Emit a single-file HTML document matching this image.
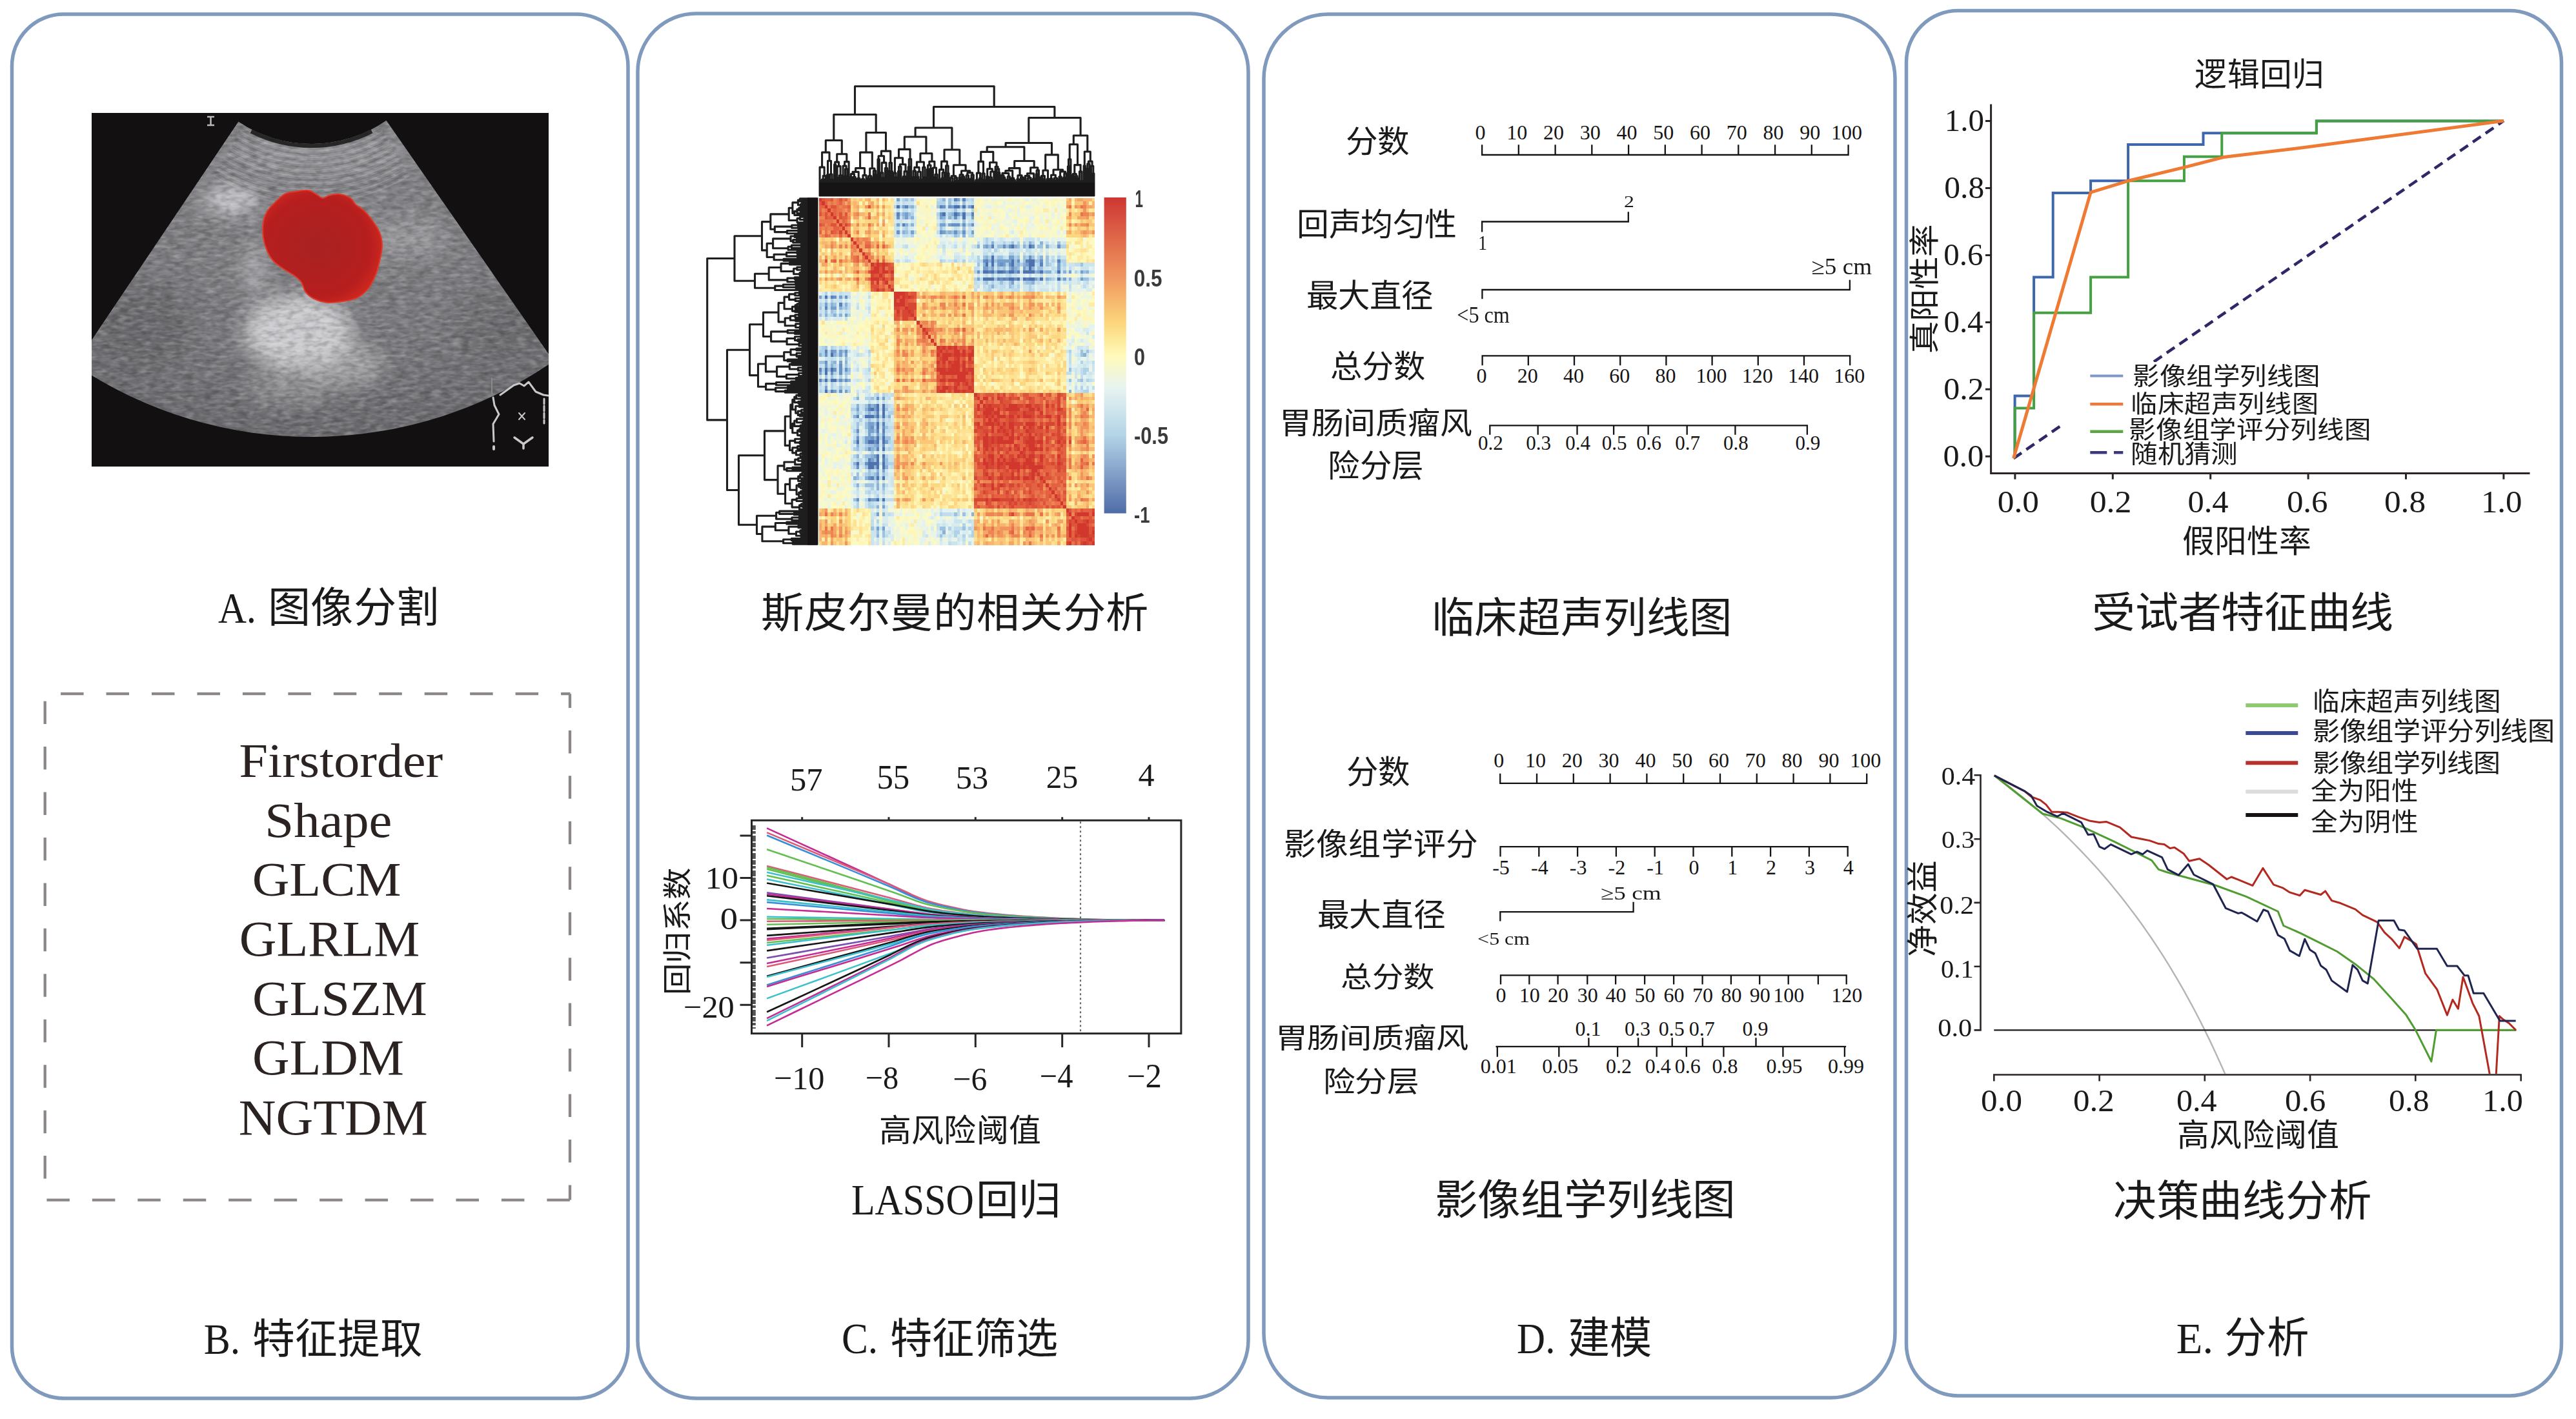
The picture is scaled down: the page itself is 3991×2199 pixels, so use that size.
<!DOCTYPE html>
<html lang="zh-CN"><head><meta charset="utf-8"><title>Radiomics workflow</title>
<style>html,body{margin:0;padding:0;background:#fff;}body{width:3991px;height:2199px;overflow:hidden;}
svg{display:block;font-family:"Liberation Serif",serif;}</style></head>
<body><svg width="3991" height="2199" viewBox="0 0 3991 2199">
<rect width="3991" height="2199" fill="#fff"/>
<rect x="18.5" y="22" width="954.5" height="2145" rx="80" ry="80" fill="none" stroke="#7f9abd" stroke-width="5.5"/>
<rect x="988" y="21" width="946" height="2146" rx="90" ry="90" fill="none" stroke="#7f9abd" stroke-width="5.5"/>
<rect x="1958" y="22" width="978" height="2144" rx="100" ry="100" fill="none" stroke="#7f9abd" stroke-width="5.5"/>
<rect x="2953.5" y="16.5" width="1015.0" height="2146.5" rx="80" ry="80" fill="none" stroke="#7f9abd" stroke-width="5.5"/>
<defs><clipPath id="usclip"><rect x="142" y="175" width="708" height="548"/></clipPath><radialGradient id="fanG" cx="0.5" cy="0.2" r="0.9"><stop offset="0" stop-color="#86868a"/><stop offset="0.6" stop-color="#79797d"/><stop offset="1" stop-color="#646468"/></radialGradient><filter id="blur8" x="-50%" y="-50%" width="200%" height="200%"><feGaussianBlur stdDeviation="14"/></filter><filter id="blur3"><feGaussianBlur stdDeviation="3"/></filter><filter id="speck" x="0" y="0" width="1" height="1"><feTurbulence type="fractalNoise" baseFrequency="0.06 0.2" numOctaves="2" seed="4"/><feColorMatrix type="matrix" values="0 0 0 0 1  0 0 0 0 1  0 0 0 0 1  1.6 0 0 0 -0.62"/></filter><filter id="speck2" x="0" y="0" width="1" height="1"><feTurbulence type="fractalNoise" baseFrequency="0.07 0.16" numOctaves="2" seed="9"/><feColorMatrix type="matrix" values="0 0 0 0 0  0 0 0 0 0  0 0 0 0 0  1.5 0 0 0 -0.6"/></filter><radialGradient id="blobG" cx="0.45" cy="0.5" r="0.6"><stop offset="0" stop-color="#a82222"/><stop offset="0.75" stop-color="#b71e1e"/><stop offset="1" stop-color="#d42a20"/></radialGradient></defs>
<rect x="142" y="175" width="708" height="548" fill="#121010"/>
<g clip-path="url(#usclip)"><defs><clipPath id="fanclip"><path d="M369.4,188.5 L116.2,565.3 A657,657 0 0 0 857.6,559.5 L598.5,186.7 A203,203 0 0 1 369.4,188.5 Z"/></clipPath></defs>
<path d="M369.4,188.5 L116.2,565.3 A657,657 0 0 0 857.6,559.5 L598.5,186.7 A203,203 0 0 1 369.4,188.5 Z" fill="url(#fanG)"/>
<g clip-path="url(#fanclip)">
<g filter="url(#blur8)"><ellipse cx="462" cy="515" rx="85" ry="58" fill="#e0e0e4" opacity="0.8"/><ellipse cx="535" cy="565" rx="60" ry="35" fill="#c4c4c8" opacity="0.55"/><ellipse cx="450" cy="600" rx="70" ry="30" fill="#a8a8ac" opacity="0.5"/><ellipse cx="358" cy="310" rx="42" ry="20" fill="#dcdce0" opacity="0.85"/><ellipse cx="395" cy="420" rx="18" ry="40" fill="#c8c8cc" opacity="0.6"/><ellipse cx="490" cy="240" rx="150" ry="35" fill="#9c9ca0" opacity="0.6"/><ellipse cx="630" cy="370" rx="65" ry="30" fill="#a6a6aa" opacity="0.6"/><ellipse cx="230" cy="500" rx="70" ry="60" fill="#5a5a5e" opacity="0.45"/><ellipse cx="770" cy="500" rx="60" ry="50" fill="#626266" opacity="0.45"/></g>
<rect x="142" y="175" width="708" height="548" filter="url(#speck)" opacity="0.3"/>
<rect x="142" y="175" width="708" height="548" filter="url(#speck2)" opacity="0.3"/>
<path d="M375.0,199.1 A209.0,209.0 0 0 0 590.2,199.1" fill="none" stroke="#2a2a2e" stroke-width="2.2" opacity="0.14"/>
<path d="M372.4,203.4 A214.0,214.0 0 0 0 592.8,203.4" fill="none" stroke="#d8d8dc" stroke-width="2.2" opacity="0.18"/>
<path d="M369.8,207.7 A219.0,219.0 0 0 0 595.4,207.7" fill="none" stroke="#2a2a2e" stroke-width="2.2" opacity="0.14"/>
<path d="M367.2,212.0 A224.0,224.0 0 0 0 598.0,212.0" fill="none" stroke="#d8d8dc" stroke-width="2.2" opacity="0.18"/>
<path d="M364.7,216.3 A229.0,229.0 0 0 0 600.5,216.3" fill="none" stroke="#2a2a2e" stroke-width="2.2" opacity="0.14"/>
<path d="M362.1,220.6 A234.0,234.0 0 0 0 603.1,220.6" fill="none" stroke="#d8d8dc" stroke-width="2.2" opacity="0.18"/>
<path d="M359.5,224.9 A239.0,239.0 0 0 0 605.7,224.9" fill="none" stroke="#2a2a2e" stroke-width="2.2" opacity="0.14"/>
<path d="M356.9,229.1 A244.0,244.0 0 0 0 608.3,229.1" fill="none" stroke="#d8d8dc" stroke-width="2.2" opacity="0.18"/>
<path d="M354.4,233.4 A249.0,249.0 0 0 0 610.8,233.4" fill="none" stroke="#2a2a2e" stroke-width="2.2" opacity="0.14"/>
<path d="M351.8,237.7 A254.0,254.0 0 0 0 613.4,237.7" fill="none" stroke="#d8d8dc" stroke-width="2.2" opacity="0.18"/>
<path d="M349.2,242.0 A259.0,259.0 0 0 0 616.0,242.0" fill="none" stroke="#2a2a2e" stroke-width="2.2" opacity="0.14"/>
<path d="M346.6,246.3 A264.0,264.0 0 0 0 618.6,246.3" fill="none" stroke="#d8d8dc" stroke-width="2.2" opacity="0.18"/>
<path d="M344.1,250.6 A269.0,269.0 0 0 0 621.1,250.6" fill="none" stroke="#2a2a2e" stroke-width="2.2" opacity="0.14"/>
<path d="M341.5,254.9 A274.0,274.0 0 0 0 623.7,254.9" fill="none" stroke="#d8d8dc" stroke-width="2.2" opacity="0.18"/>
<path d="M338.9,259.1 A279.0,279.0 0 0 0 626.3,259.1" fill="none" stroke="#2a2a2e" stroke-width="2.2" opacity="0.14"/>
<path d="M336.3,263.4 A284.0,284.0 0 0 0 628.9,263.4" fill="none" stroke="#d8d8dc" stroke-width="2.2" opacity="0.18"/>
<path d="M333.8,267.7 A289.0,289.0 0 0 0 631.4,267.7" fill="none" stroke="#2a2a2e" stroke-width="2.2" opacity="0.14"/>
<path d="M331.2,272.0 A294.0,294.0 0 0 0 634.0,272.0" fill="none" stroke="#d8d8dc" stroke-width="2.2" opacity="0.18"/>
</g>
<path d="M389.1,203.5 A206,206 0 0 0 576.1,203.5" fill="none" stroke="#151515" stroke-width="6" opacity="0.85"/>
</g>
<path d="M424.4,315.4 C428.8,311.0 435.3,304.1 440.7,301.0 C446.1,297.9 450.9,298.0 457.0,297.0 C463.1,296.0 472.0,294.3 477.5,295.0 C483.0,295.7 486.1,299.0 489.8,301.0 C493.6,303.0 496.6,306.7 500.0,307.0 C503.4,307.3 505.6,304.0 510.0,303.0 C514.4,302.0 521.1,300.3 526.6,301.0 C532.1,301.7 538.9,304.3 543.0,307.0 C547.1,309.7 547.7,313.9 551.0,317.0 C554.3,320.1 558.9,321.8 563.0,325.6 C567.1,329.4 571.4,334.3 575.6,340.0 C579.8,345.7 585.3,353.2 588.0,360.0 C590.7,366.8 592.0,373.5 592.0,381.0 C592.0,388.5 589.7,397.6 588.0,405.0 C586.3,412.4 584.8,418.9 582.0,425.7 C579.2,432.5 576.0,440.2 571.5,446.0 C567.0,451.8 561.1,457.1 555.0,460.5 C548.9,463.9 542.9,465.2 534.7,466.6 C526.5,468.0 514.2,469.4 506.0,468.7 C497.8,468.0 491.1,465.2 485.7,462.5 C480.3,459.8 476.5,456.4 473.4,452.3 C470.3,448.2 470.0,442.1 467.3,438.0 C464.6,433.9 461.4,431.2 457.0,427.8 C452.6,424.4 446.1,421.4 440.7,417.6 C435.3,413.9 428.8,410.1 424.4,405.3 C419.9,400.5 416.7,395.1 414.0,389.0 C411.3,382.9 409.0,376.0 408.0,368.5 C407.0,361.0 407.0,350.8 408.0,344.0 C409.0,337.2 411.3,332.4 414.0,327.6 C416.7,322.8 419.9,319.8 424.4,315.4Z" fill="url(#blobG)" stroke="#e03a2a" stroke-width="2"/>
<path d="M321,181h11M321,194h11M326.5,181v13" stroke="#bbb" stroke-width="2.5"/>
<g stroke="#c9c9c9" stroke-width="3" fill="none" stroke-linecap="round" stroke-linejoin="round"><path d="M762,586V610" stroke="#8a8a8a" stroke-width="2"/><path d="M775,612L796,597L805,594L812,598L819,592L830,607L842,612L849,613"/><path d="M764,616L766,628L773,642L764,657L765,684"/><path d="M765,692v4" stroke-width="4"/><path d="M843,618V656" stroke-dasharray="8 3"/><path d="M804,640l9,10M813,640l-9,10" stroke-width="2"/><path d="M797,678L811,688L825,678M811,688V695" stroke-width="3.5"/></g>
<g stroke="#8c8787" stroke-width="4.3" fill="none" stroke-dasharray="35.5 34.95"><path d="M94.1,1075.2 H883.5" /><path d="M69.7,1086.6 V1859.6"/><path d="M883,1075.2 V1859.6" stroke-dashoffset="13.75"/><path d="M69.7,1859.6 H883" stroke-dashoffset="67.75"/></g>
<g transform="translate(1269.0,306.5) scale(4.44792,5.60417)" shape-rendering="crispEdges">
<path fill="rgb(79, 114, 175)" d="M27 2h1v1h-1zM47 2h2v1h-2zM50 2h1v1h-1zM53 2h1v1h-1zM43 4h1v1h-1zM47 4h1v1h-1zM50 4h1v1h-1zM50 5h1v1h-1zM67 13h1v1h-1zM73 13h1v1h-1zM60 16h1v1h-1zM60 17h1v1h-1zM67 17h1v1h-1zM73 17h2v1h-2zM58 18h1v1h-1zM60 18h1v1h-1zM67 18h1v1h-1zM73 18h2v1h-2zM73 19h1v1h-1zM57 20h2v1h-2zM60 20h1v1h-1zM62 20h2v1h-2zM66 20h2v1h-2zM71 20h4v1h-4zM77 20h1v1h-1zM83 20h1v1h-1zM57 22h4v1h-4zM66 22h2v1h-2zM69 22h1v1h-1zM71 22h1v1h-1zM73 22h2v1h-2zM77 22h1v1h-1zM83 22h1v1h-1zM2 27h1v1h-1zM4 43h1v1h-1zM2 47h1v1h-1zM4 47h1v1h-1zM2 48h1v1h-1zM2 50h1v1h-1zM4 50h2v1h-2zM2 53h1v1h-1zM20 57h1v1h-1zM22 57h1v1h-1zM18 58h1v1h-1zM20 58h1v1h-1zM22 58h1v1h-1zM22 59h1v1h-1zM16 60h3v1h-3zM20 60h1v1h-1zM22 60h1v1h-1zM20 62h1v1h-1zM20 63h1v1h-1zM20 66h1v1h-1zM22 66h1v1h-1zM13 67h1v1h-1zM17 67h2v1h-2zM20 67h1v1h-1zM22 67h1v1h-1zM22 69h1v1h-1zM20 71h1v1h-1zM22 71h1v1h-1zM20 72h1v1h-1zM13 73h1v1h-1zM17 73h4v1h-4zM22 73h1v1h-1zM17 74h2v1h-2zM20 74h1v1h-1zM22 74h1v1h-1zM20 77h1v1h-1zM22 77h1v1h-1zM20 83h1v1h-1zM22 83h1v1h-1z"/>
<path fill="rgb(93, 129, 185)" d="M47 0h1v1h-1zM50 0h1v1h-1zM30 2h1v1h-1zM42 2h1v1h-1zM27 4h1v1h-1zM53 4h1v1h-1zM29 7h1v1h-1zM60 13h1v1h-1zM58 17h1v1h-1zM72 17h1v1h-1zM83 17h1v1h-1zM77 18h1v1h-1zM59 20h1v1h-1zM64 20h1v1h-1zM69 20h1v1h-1zM62 22h1v1h-1zM64 22h1v1h-1zM72 22h1v1h-1zM4 27h1v1h-1zM7 29h1v1h-1zM2 30h1v1h-1zM2 42h1v1h-1zM0 47h1v1h-1zM0 50h1v1h-1zM4 53h1v1h-1zM17 58h1v1h-1zM20 59h1v1h-1zM13 60h1v1h-1zM22 62h1v1h-1zM20 64h1v1h-1zM22 64h1v1h-1zM20 69h1v1h-1zM17 72h1v1h-1zM22 72h1v1h-1zM18 77h1v1h-1zM17 83h1v1h-1z"/>
<path fill="rgb(106, 145, 195)" d="M43 2h1v1h-1zM45 2h1v1h-1zM42 4h1v1h-1zM48 4h1v1h-1zM27 5h1v1h-1zM47 5h1v1h-1zM46 7h3v1h-3zM50 7h1v1h-1zM53 7h1v1h-1zM27 9h1v1h-1zM42 9h1v1h-1zM47 9h1v1h-1zM50 9h1v1h-1zM64 13h1v1h-1zM66 13h1v1h-1zM74 13h1v1h-1zM83 13h1v1h-1zM73 16h1v1h-1zM57 17h1v1h-1zM69 17h1v1h-1zM77 17h1v1h-1zM63 18h1v1h-1zM66 18h1v1h-1zM67 19h1v1h-1zM55 20h1v1h-1zM63 22h1v1h-1zM65 22h1v1h-1zM68 22h1v1h-1zM5 27h1v1h-1zM9 27h1v1h-1zM4 42h1v1h-1zM9 42h1v1h-1zM2 43h1v1h-1zM2 45h1v1h-1zM7 46h1v1h-1zM5 47h1v1h-1zM7 47h1v1h-1zM9 47h1v1h-1zM4 48h1v1h-1zM7 48h1v1h-1zM7 50h1v1h-1zM9 50h1v1h-1zM7 53h1v1h-1zM20 55h1v1h-1zM17 57h1v1h-1zM18 63h1v1h-1zM22 63h1v1h-1zM13 64h1v1h-1zM22 65h1v1h-1zM13 66h1v1h-1zM18 66h1v1h-1zM19 67h1v1h-1zM22 68h1v1h-1zM17 69h1v1h-1zM16 73h1v1h-1zM13 74h1v1h-1zM17 77h1v1h-1zM13 83h1v1h-1z"/>
<path fill="rgb(120, 160, 205)" d="M27 0h1v1h-1zM48 0h1v1h-1zM29 2h1v1h-1zM46 2h1v1h-1zM52 2h1v1h-1zM30 4h1v1h-1zM30 5h1v1h-1zM42 5h1v1h-1zM53 5h1v1h-1zM27 7h1v1h-1zM42 7h2v1h-2zM45 7h1v1h-1zM32 9h1v1h-1zM43 9h1v1h-1zM53 9h1v1h-1zM58 13h1v1h-1zM66 16h2v1h-2zM62 17h5v1h-5zM62 18h1v1h-1zM64 18h1v1h-1zM72 18h1v1h-1zM83 18h1v1h-1zM57 19h2v1h-2zM60 19h1v1h-1zM71 19h1v1h-1zM83 19h1v1h-1zM65 20h1v1h-1zM68 20h1v1h-1zM76 20h1v1h-1zM87 20h1v1h-1zM91 20h1v1h-1zM55 22h1v1h-1zM75 22h1v1h-1zM85 22h1v1h-1zM91 22h1v1h-1zM67 23h1v1h-1zM0 27h1v1h-1zM7 27h1v1h-1zM2 29h1v1h-1zM4 30h2v1h-2zM9 32h1v1h-1zM5 42h1v1h-1zM7 42h1v1h-1zM7 43h1v1h-1zM9 43h1v1h-1zM7 45h1v1h-1zM2 46h1v1h-1zM0 48h1v1h-1zM2 52h1v1h-1zM5 53h1v1h-1zM9 53h1v1h-1zM22 55h1v1h-1zM19 57h1v1h-1zM13 58h1v1h-1zM19 58h1v1h-1zM19 60h1v1h-1zM17 62h2v1h-2zM17 63h1v1h-1zM17 64h2v1h-2zM17 65h1v1h-1zM20 65h1v1h-1zM16 66h2v1h-2zM16 67h1v1h-1zM23 67h1v1h-1zM20 68h1v1h-1zM19 71h1v1h-1zM18 72h1v1h-1zM22 75h1v1h-1zM20 76h1v1h-1zM18 83h2v1h-2zM22 85h1v1h-1zM20 87h1v1h-1zM20 91h1v1h-1zM22 91h1v1h-1z"/>
<path fill="rgb(139, 177, 214)" d="M43 0h1v1h-1zM32 2h1v1h-1zM29 4h1v1h-1zM46 4h1v1h-1zM32 5h1v1h-1zM43 5h1v1h-1zM45 5h1v1h-1zM30 7h1v1h-1zM32 7h1v1h-1zM29 9h1v1h-1zM45 9h1v1h-1zM50 10h1v1h-1zM60 12h1v1h-1zM73 12h1v1h-1zM77 12h1v1h-1zM55 13h1v1h-1zM57 13h1v1h-1zM68 13h1v1h-1zM71 13h1v1h-1zM79 13h1v1h-1zM58 16h1v1h-1zM77 16h1v1h-1zM59 17h1v1h-1zM57 18h1v1h-1zM69 18h1v1h-1zM71 18h1v1h-1zM66 19h1v1h-1zM68 19h1v1h-1zM74 19h1v1h-1zM61 20h1v1h-1zM75 20h1v1h-1zM79 20h2v1h-2zM85 20h1v1h-1zM93 20h1v1h-1zM79 22h1v1h-1zM87 22h1v1h-1zM74 23h1v1h-1zM60 24h1v1h-1zM4 29h1v1h-1zM9 29h1v1h-1zM7 30h1v1h-1zM2 32h1v1h-1zM5 32h1v1h-1zM7 32h1v1h-1zM0 43h1v1h-1zM5 43h1v1h-1zM92 43h1v1h-1zM5 45h1v1h-1zM9 45h1v1h-1zM4 46h1v1h-1zM10 50h1v1h-1zM87 53h1v1h-1zM13 55h1v1h-1zM13 57h1v1h-1zM18 57h1v1h-1zM16 58h1v1h-1zM17 59h1v1h-1zM12 60h1v1h-1zM24 60h1v1h-1zM20 61h1v1h-1zM19 66h1v1h-1zM13 68h1v1h-1zM19 68h1v1h-1zM18 69h1v1h-1zM13 71h1v1h-1zM18 71h1v1h-1zM12 73h1v1h-1zM19 74h1v1h-1zM23 74h1v1h-1zM20 75h1v1h-1zM12 77h1v1h-1zM16 77h1v1h-1zM13 79h1v1h-1zM20 79h1v1h-1zM22 79h1v1h-1zM20 80h1v1h-1zM20 85h1v1h-1zM22 87h1v1h-1zM53 87h1v1h-1zM43 92h1v1h-1zM20 93h1v1h-1z"/>
<path fill="rgb(157, 193, 223)" d="M30 0h1v1h-1zM32 0h1v1h-1zM45 0h1v1h-1zM45 1h1v1h-1zM50 1h1v1h-1zM31 2h1v1h-1zM41 2h1v1h-1zM49 2h1v1h-1zM47 3h1v1h-1zM31 4h1v1h-1zM45 4h1v1h-1zM49 4h1v1h-1zM29 5h1v1h-1zM50 6h1v1h-1zM52 7h1v1h-1zM42 8h1v1h-1zM50 8h1v1h-1zM30 9h1v1h-1zM44 9h1v1h-1zM46 9h1v1h-1zM48 9h1v1h-1zM47 10h1v1h-1zM67 12h1v1h-1zM83 12h1v1h-1zM59 13h1v1h-1zM62 13h2v1h-2zM65 13h1v1h-1zM69 13h1v1h-1zM76 13h2v1h-2zM57 16h1v1h-1zM62 16h2v1h-2zM69 16h1v1h-1zM71 16h1v1h-1zM74 16h1v1h-1zM79 16h1v1h-1zM61 17h1v1h-1zM68 17h1v1h-1zM71 17h1v1h-1zM75 17h2v1h-2zM79 17h1v1h-1zM55 18h1v1h-1zM68 18h1v1h-1zM79 18h1v1h-1zM91 18h1v1h-1zM59 19h1v1h-1zM62 19h1v1h-1zM64 19h1v1h-1zM69 19h1v1h-1zM72 19h1v1h-1zM76 19h2v1h-2zM78 20h1v1h-1zM92 20h1v1h-1zM61 22h1v1h-1zM76 22h1v1h-1zM80 22h1v1h-1zM92 22h2v1h-2zM58 23h1v1h-1zM63 23h1v1h-1zM66 23h1v1h-1zM72 23h2v1h-2zM66 24h1v1h-1zM5 29h1v1h-1zM0 30h1v1h-1zM9 30h1v1h-1zM2 31h1v1h-1zM4 31h1v1h-1zM0 32h1v1h-1zM2 41h1v1h-1zM8 42h1v1h-1zM91 42h1v1h-1zM93 42h1v1h-1zM91 43h1v1h-1zM9 44h1v1h-1zM0 45h2v1h-2zM4 45h1v1h-1zM9 46h1v1h-1zM3 47h1v1h-1zM10 47h1v1h-1zM87 47h1v1h-1zM9 48h1v1h-1zM2 49h1v1h-1zM4 49h1v1h-1zM1 50h1v1h-1zM6 50h1v1h-1zM8 50h1v1h-1zM87 50h1v1h-1zM91 50h1v1h-1zM7 52h1v1h-1zM18 55h1v1h-1zM16 57h1v1h-1zM23 58h1v1h-1zM13 59h1v1h-1zM19 59h1v1h-1zM17 61h1v1h-1zM22 61h1v1h-1zM13 62h1v1h-1zM16 62h1v1h-1zM19 62h1v1h-1zM13 63h1v1h-1zM16 63h1v1h-1zM23 63h1v1h-1zM19 64h1v1h-1zM13 65h1v1h-1zM23 66h2v1h-2zM12 67h1v1h-1zM17 68h2v1h-2zM13 69h1v1h-1zM16 69h1v1h-1zM19 69h1v1h-1zM16 71h2v1h-2zM19 72h1v1h-1zM23 72h1v1h-1zM23 73h1v1h-1zM16 74h1v1h-1zM17 75h1v1h-1zM13 76h1v1h-1zM17 76h1v1h-1zM19 76h1v1h-1zM22 76h1v1h-1zM13 77h1v1h-1zM19 77h1v1h-1zM20 78h1v1h-1zM16 79h3v1h-3zM22 80h1v1h-1zM12 83h1v1h-1zM47 87h1v1h-1zM50 87h1v1h-1zM18 91h1v1h-1zM42 91h2v1h-2zM50 91h1v1h-1zM20 92h1v1h-1zM22 92h1v1h-1zM22 93h1v1h-1zM42 93h1v1h-1z"/>
<path fill="rgb(176, 210, 232)" d="M29 0h1v1h-1zM42 0h1v1h-1zM51 0h1v1h-1zM53 0h1v1h-1zM41 1h3v1h-3zM47 1h1v1h-1zM26 2h1v1h-1zM28 2h1v1h-1zM51 2h1v1h-1zM50 3h1v1h-1zM53 3h1v1h-1zM28 4h1v1h-1zM32 4h1v1h-1zM41 4h1v1h-1zM51 4h2v1h-2zM31 5h1v1h-1zM46 5h1v1h-1zM48 5h1v1h-1zM43 6h1v1h-1zM49 7h1v1h-1zM30 8h1v1h-1zM49 9h1v1h-1zM32 10h1v1h-1zM48 10h1v1h-1zM53 10h1v1h-1zM58 11h1v1h-1zM58 12h1v1h-1zM64 12h1v1h-1zM69 12h1v1h-1zM71 12h1v1h-1zM74 12h1v1h-1zM72 13h1v1h-1zM84 13h2v1h-2zM61 14h1v1h-1zM60 15h1v1h-1zM66 15h2v1h-2zM55 16h1v1h-1zM59 16h1v1h-1zM68 16h1v1h-1zM72 16h1v1h-1zM76 16h1v1h-1zM83 16h1v1h-1zM42 17h1v1h-1zM47 17h1v1h-1zM50 17h1v1h-1zM55 17h1v1h-1zM81 17h1v1h-1zM84 17h2v1h-2zM59 18h1v1h-1zM65 18h1v1h-1zM70 18h1v1h-1zM76 18h1v1h-1zM80 18h1v1h-1zM85 18h1v1h-1zM63 19h1v1h-1zM54 20h1v1h-1zM82 20h1v1h-1zM89 20h1v1h-1zM60 21h1v1h-1zM66 21h1v1h-1zM54 22h1v1h-1zM81 22h1v1h-1zM84 22h1v1h-1zM57 23h1v1h-1zM60 23h1v1h-1zM71 23h1v1h-1zM59 24h1v1h-1zM67 24h1v1h-1zM69 24h1v1h-1zM73 24h1v1h-1zM59 25h1v1h-1zM73 25h1v1h-1zM2 26h1v1h-1zM2 28h1v1h-1zM4 28h1v1h-1zM0 29h1v1h-1zM8 30h1v1h-1zM5 31h1v1h-1zM4 32h1v1h-1zM10 32h1v1h-1zM1 41h1v1h-1zM4 41h1v1h-1zM0 42h2v1h-2zM17 42h1v1h-1zM87 42h1v1h-1zM1 43h1v1h-1zM6 43h1v1h-1zM91 45h1v1h-1zM5 46h1v1h-1zM1 47h1v1h-1zM17 47h1v1h-1zM92 47h2v1h-2zM5 48h1v1h-1zM10 48h1v1h-1zM92 48h1v1h-1zM7 49h1v1h-1zM9 49h1v1h-1zM3 50h1v1h-1zM17 50h1v1h-1zM90 50h1v1h-1zM93 50h1v1h-1zM0 51h1v1h-1zM2 51h1v1h-1zM4 51h1v1h-1zM4 52h1v1h-1zM91 52h1v1h-1zM0 53h1v1h-1zM3 53h1v1h-1zM10 53h1v1h-1zM92 53h2v1h-2zM20 54h1v1h-1zM22 54h1v1h-1zM16 55h2v1h-2zM23 57h1v1h-1zM11 58h2v1h-2zM16 59h1v1h-1zM18 59h1v1h-1zM24 59h2v1h-2zM15 60h1v1h-1zM21 60h1v1h-1zM23 60h1v1h-1zM14 61h1v1h-1zM19 63h1v1h-1zM12 64h1v1h-1zM18 65h1v1h-1zM15 66h1v1h-1zM21 66h1v1h-1zM15 67h1v1h-1zM24 67h1v1h-1zM16 68h1v1h-1zM12 69h1v1h-1zM24 69h1v1h-1zM18 70h1v1h-1zM12 71h1v1h-1zM23 71h1v1h-1zM13 72h1v1h-1zM16 72h1v1h-1zM24 73h2v1h-2zM12 74h1v1h-1zM16 76h1v1h-1zM18 76h1v1h-1zM18 80h1v1h-1zM17 81h1v1h-1zM22 81h1v1h-1zM20 82h1v1h-1zM16 83h1v1h-1zM13 84h1v1h-1zM17 84h1v1h-1zM22 84h1v1h-1zM13 85h1v1h-1zM17 85h2v1h-2zM42 87h1v1h-1zM20 89h1v1h-1zM50 90h1v1h-1zM45 91h1v1h-1zM52 91h1v1h-1zM47 92h2v1h-2zM53 92h1v1h-1zM47 93h1v1h-1zM50 93h1v1h-1zM53 93h1v1h-1z"/>
<path fill="rgb(191, 221, 237)" d="M31 0h1v1h-1zM41 0h1v1h-1zM46 0h1v1h-1zM49 0h1v1h-1zM52 0h1v1h-1zM27 1h1v1h-1zM29 1h1v1h-1zM48 1h1v1h-1zM53 1h1v1h-1zM33 2h1v1h-1zM27 3h1v1h-1zM29 3h2v1h-2zM32 3h1v1h-1zM42 3h2v1h-2zM46 3h1v1h-1zM26 4h1v1h-1zM44 4h1v1h-1zM41 5h1v1h-1zM42 6h1v1h-1zM53 6h1v1h-1zM26 7h1v1h-1zM28 7h1v1h-1zM31 7h1v1h-1zM41 7h1v1h-1zM44 7h1v1h-1zM51 7h1v1h-1zM27 8h1v1h-1zM29 8h1v1h-1zM43 8h1v1h-1zM47 8h1v1h-1zM31 9h1v1h-1zM33 9h1v1h-1zM41 9h1v1h-1zM52 9h1v1h-1zM27 10h1v1h-1zM29 10h2v1h-2zM42 10h1v1h-1zM52 10h1v1h-1zM55 12h1v1h-1zM66 12h1v1h-1zM79 12h1v1h-1zM30 13h1v1h-1zM43 13h1v1h-1zM47 13h1v1h-1zM54 13h1v1h-1zM80 13h1v1h-1zM59 14h1v1h-1zM72 14h2v1h-2zM57 15h2v1h-2zM69 15h1v1h-1zM71 15h1v1h-1zM73 15h1v1h-1zM61 16h1v1h-1zM64 16h1v1h-1zM81 16h1v1h-1zM27 17h1v1h-1zM30 17h1v1h-1zM43 17h1v1h-1zM56 17h1v1h-1zM61 18h1v1h-1zM75 18h1v1h-1zM84 18h1v1h-1zM89 18h2v1h-2zM54 19h2v1h-2zM81 19h1v1h-1zM85 19h1v1h-1zM87 19h1v1h-1zM56 20h1v1h-1zM58 21h1v1h-1zM62 21h1v1h-1zM65 21h1v1h-1zM73 21h1v1h-1zM77 21h1v1h-1zM83 21h1v1h-1zM56 22h1v1h-1zM70 22h1v1h-1zM90 22h1v1h-1zM95 22h1v1h-1zM54 23h1v1h-1zM62 23h1v1h-1zM64 23h1v1h-1zM69 23h1v1h-1zM76 23h1v1h-1zM79 23h1v1h-1zM83 23h1v1h-1zM93 23h1v1h-1zM55 24h1v1h-1zM57 24h1v1h-1zM61 24h1v1h-1zM63 24h2v1h-2zM83 24h1v1h-1zM87 24h1v1h-1zM92 24h1v1h-1zM54 25h1v1h-1zM58 25h1v1h-1zM63 25h1v1h-1zM67 25h3v1h-3zM74 25h1v1h-1zM83 25h1v1h-1zM4 26h1v1h-1zM7 26h1v1h-1zM1 27h1v1h-1zM3 27h1v1h-1zM8 27h1v1h-1zM10 27h1v1h-1zM17 27h1v1h-1zM7 28h1v1h-1zM1 29h1v1h-1zM3 29h1v1h-1zM8 29h1v1h-1zM10 29h1v1h-1zM3 30h1v1h-1zM10 30h1v1h-1zM13 30h1v1h-1zM17 30h1v1h-1zM0 31h1v1h-1zM7 31h1v1h-1zM9 31h1v1h-1zM3 32h1v1h-1zM2 33h1v1h-1zM9 33h1v1h-1zM0 41h1v1h-1zM5 41h1v1h-1zM7 41h1v1h-1zM9 41h1v1h-1zM3 42h1v1h-1zM6 42h1v1h-1zM10 42h1v1h-1zM3 43h1v1h-1zM8 43h1v1h-1zM13 43h1v1h-1zM17 43h1v1h-1zM87 43h1v1h-1zM4 44h1v1h-1zM7 44h1v1h-1zM87 44h1v1h-1zM87 45h1v1h-1zM95 45h1v1h-1zM0 46h1v1h-1zM3 46h1v1h-1zM8 47h1v1h-1zM13 47h1v1h-1zM91 47h1v1h-1zM1 48h1v1h-1zM86 48h2v1h-2zM91 48h1v1h-1zM0 49h1v1h-1zM91 49h1v1h-1zM94 50h1v1h-1zM7 51h1v1h-1zM0 52h1v1h-1zM9 52h2v1h-2zM89 52h1v1h-1zM93 52h1v1h-1zM95 52h1v1h-1zM1 53h1v1h-1zM6 53h1v1h-1zM91 53h1v1h-1zM13 54h1v1h-1zM19 54h1v1h-1zM23 54h1v1h-1zM25 54h1v1h-1zM12 55h1v1h-1zM19 55h1v1h-1zM24 55h1v1h-1zM17 56h1v1h-1zM20 56h1v1h-1zM22 56h1v1h-1zM15 57h1v1h-1zM24 57h1v1h-1zM15 58h1v1h-1zM21 58h1v1h-1zM25 58h1v1h-1zM14 59h1v1h-1zM16 61h1v1h-1zM18 61h1v1h-1zM24 61h1v1h-1zM21 62h1v1h-1zM23 62h1v1h-1zM24 63h2v1h-2zM16 64h1v1h-1zM23 64h2v1h-2zM21 65h1v1h-1zM12 66h1v1h-1zM25 67h1v1h-1zM25 68h1v1h-1zM15 69h1v1h-1zM23 69h1v1h-1zM25 69h1v1h-1zM22 70h1v1h-1zM15 71h1v1h-1zM14 72h1v1h-1zM14 73h2v1h-2zM21 73h1v1h-1zM25 74h1v1h-1zM18 75h1v1h-1zM23 76h1v1h-1zM21 77h1v1h-1zM12 79h1v1h-1zM23 79h1v1h-1zM13 80h1v1h-1zM16 81h1v1h-1zM19 81h1v1h-1zM21 83h1v1h-1zM23 83h3v1h-3zM18 84h1v1h-1zM19 85h1v1h-1zM48 86h1v1h-1zM19 87h1v1h-1zM24 87h1v1h-1zM43 87h3v1h-3zM48 87h1v1h-1zM18 89h1v1h-1zM52 89h1v1h-1zM18 90h1v1h-1zM22 90h1v1h-1zM47 91h3v1h-3zM53 91h1v1h-1zM24 92h1v1h-1zM23 93h1v1h-1zM52 93h1v1h-1zM50 94h1v1h-1zM22 95h1v1h-1zM45 95h1v1h-1zM52 95h1v1h-1z"/>
<path fill="rgb(203, 228, 238)" d="M28 0h1v1h-1zM30 1h3v1h-3zM46 1h1v1h-1zM52 1h1v1h-1zM44 2h1v1h-1zM44 3h2v1h-2zM48 3h1v1h-1zM26 5h1v1h-1zM28 5h1v1h-1zM44 5h1v1h-1zM49 5h1v1h-1zM51 5h2v1h-2zM27 6h2v1h-2zM32 6h1v1h-1zM46 6h3v1h-3zM52 6h1v1h-1zM26 8h1v1h-1zM48 8h1v1h-1zM52 8h1v1h-1zM26 9h1v1h-1zM28 9h1v1h-1zM51 9h1v1h-1zM26 10h1v1h-1zM31 10h1v1h-1zM44 10h1v1h-1zM46 10h1v1h-1zM57 11h1v1h-1zM59 11h2v1h-2zM63 11h1v1h-1zM72 11h3v1h-3zM76 11h1v1h-1zM57 12h1v1h-1zM59 12h1v1h-1zM61 12h3v1h-3zM65 12h1v1h-1zM72 12h1v1h-1zM85 12h1v1h-1zM29 13h1v1h-1zM50 13h1v1h-1zM53 13h1v1h-1zM61 13h1v1h-1zM81 13h2v1h-2zM43 14h1v1h-1zM57 14h2v1h-2zM62 14h1v1h-1zM66 14h4v1h-4zM77 14h1v1h-1zM53 15h1v1h-1zM68 15h1v1h-1zM74 15h1v1h-1zM76 15h1v1h-1zM79 15h1v1h-1zM47 16h2v1h-2zM53 16h1v1h-1zM65 16h1v1h-1zM84 16h2v1h-2zM31 17h1v1h-1zM45 17h2v1h-2zM48 17h1v1h-1zM52 17h1v1h-1zM54 17h1v1h-1zM80 17h1v1h-1zM82 17h1v1h-1zM81 18h1v1h-1zM87 18h2v1h-2zM92 18h4v1h-4zM61 19h1v1h-1zM65 19h1v1h-1zM75 19h1v1h-1zM78 19h2v1h-2zM82 19h1v1h-1zM84 19h1v1h-1zM91 19h3v1h-3zM70 20h1v1h-1zM81 20h1v1h-1zM84 20h1v1h-1zM86 20h1v1h-1zM90 20h1v1h-1zM94 20h2v1h-2zM55 21h1v1h-1zM57 21h1v1h-1zM63 21h1v1h-1zM67 21h2v1h-2zM91 21h1v1h-1zM78 22h1v1h-1zM82 22h1v1h-1zM86 22h1v1h-1zM94 22h1v1h-1zM55 23h1v1h-1zM59 23h1v1h-1zM61 23h1v1h-1zM65 23h1v1h-1zM75 23h1v1h-1zM77 23h1v1h-1zM85 23h1v1h-1zM87 23h1v1h-1zM90 23h1v1h-1zM92 23h1v1h-1zM54 24h1v1h-1zM58 24h1v1h-1zM62 24h1v1h-1zM68 24h1v1h-1zM71 24h2v1h-2zM74 24h1v1h-1zM57 25h1v1h-1zM62 25h1v1h-1zM64 25h3v1h-3zM71 25h2v1h-2zM77 25h3v1h-3zM81 25h1v1h-1zM87 25h1v1h-1zM5 26h1v1h-1zM8 26h3v1h-3zM6 27h1v1h-1zM0 28h1v1h-1zM5 28h2v1h-2zM9 28h1v1h-1zM13 29h1v1h-1zM1 30h1v1h-1zM1 31h1v1h-1zM10 31h1v1h-1zM17 31h1v1h-1zM1 32h1v1h-1zM6 32h1v1h-1zM93 37h1v1h-1zM90 41h2v1h-2zM93 41h1v1h-1zM86 42h1v1h-1zM92 42h1v1h-1zM94 42h1v1h-1zM14 43h1v1h-1zM90 43h1v1h-1zM93 43h1v1h-1zM2 44h2v1h-2zM5 44h1v1h-1zM10 44h1v1h-1zM3 45h1v1h-1zM17 45h1v1h-1zM93 45h1v1h-1zM1 46h1v1h-1zM6 46h1v1h-1zM10 46h1v1h-1zM17 46h1v1h-1zM87 46h1v1h-1zM92 46h1v1h-1zM95 46h1v1h-1zM6 47h1v1h-1zM16 47h1v1h-1zM89 47h1v1h-1zM95 47h1v1h-1zM3 48h1v1h-1zM6 48h1v1h-1zM8 48h1v1h-1zM16 48h2v1h-2zM89 48h1v1h-1zM94 48h1v1h-1zM5 49h1v1h-1zM89 49h1v1h-1zM13 50h1v1h-1zM95 50h1v1h-1zM5 51h1v1h-1zM9 51h1v1h-1zM1 52h1v1h-1zM5 52h2v1h-2zM8 52h1v1h-1zM17 52h1v1h-1zM13 53h1v1h-1zM15 53h2v1h-2zM89 53h2v1h-2zM17 54h1v1h-1zM24 54h1v1h-1zM21 55h1v1h-1zM23 55h1v1h-1zM11 57h2v1h-2zM14 57h1v1h-1zM21 57h1v1h-1zM25 57h1v1h-1zM14 58h1v1h-1zM24 58h1v1h-1zM11 59h2v1h-2zM23 59h1v1h-1zM11 60h1v1h-1zM12 61h2v1h-2zM19 61h1v1h-1zM23 61h1v1h-1zM12 62h1v1h-1zM14 62h1v1h-1zM24 62h2v1h-2zM11 63h2v1h-2zM21 63h1v1h-1zM25 64h1v1h-1zM12 65h1v1h-1zM16 65h1v1h-1zM19 65h1v1h-1zM23 65h1v1h-1zM25 65h1v1h-1zM14 66h1v1h-1zM25 66h1v1h-1zM14 67h1v1h-1zM21 67h1v1h-1zM14 68h2v1h-2zM21 68h1v1h-1zM24 68h1v1h-1zM14 69h1v1h-1zM20 70h1v1h-1zM24 71h2v1h-2zM11 72h2v1h-2zM24 72h2v1h-2zM11 73h1v1h-1zM11 74h1v1h-1zM15 74h1v1h-1zM24 74h1v1h-1zM19 75h1v1h-1zM23 75h1v1h-1zM11 76h1v1h-1zM15 76h1v1h-1zM14 77h1v1h-1zM23 77h1v1h-1zM25 77h1v1h-1zM19 78h1v1h-1zM22 78h1v1h-1zM25 78h1v1h-1zM15 79h1v1h-1zM19 79h1v1h-1zM25 79h1v1h-1zM17 80h1v1h-1zM13 81h1v1h-1zM18 81h1v1h-1zM20 81h1v1h-1zM25 81h1v1h-1zM13 82h1v1h-1zM17 82h1v1h-1zM19 82h1v1h-1zM22 82h1v1h-1zM16 84h1v1h-1zM19 84h2v1h-2zM12 85h1v1h-1zM16 85h1v1h-1zM23 85h1v1h-1zM20 86h1v1h-1zM22 86h1v1h-1zM42 86h1v1h-1zM18 87h1v1h-1zM23 87h1v1h-1zM25 87h1v1h-1zM46 87h1v1h-1zM18 88h1v1h-1zM47 89h3v1h-3zM53 89h1v1h-1zM20 90h1v1h-1zM23 90h1v1h-1zM41 90h1v1h-1zM43 90h1v1h-1zM53 90h1v1h-1zM19 91h1v1h-1zM21 91h1v1h-1zM41 91h1v1h-1zM18 92h2v1h-2zM23 92h1v1h-1zM42 92h1v1h-1zM46 92h1v1h-1zM18 93h2v1h-2zM37 93h1v1h-1zM41 93h1v1h-1zM43 93h1v1h-1zM45 93h1v1h-1zM18 94h1v1h-1zM20 94h1v1h-1zM22 94h1v1h-1zM42 94h1v1h-1zM48 94h1v1h-1zM18 95h1v1h-1zM20 95h1v1h-1zM46 95h2v1h-2zM50 95h1v1h-1z"/>
<path fill="rgb(216, 235, 239)" d="M33 0h1v1h-1zM26 1h1v1h-1zM28 1h1v1h-1zM51 1h1v1h-1zM31 3h1v1h-1zM33 3h1v1h-1zM49 3h1v1h-1zM33 5h1v1h-1zM26 6h1v1h-1zM29 6h2v1h-2zM33 6h1v1h-1zM41 6h1v1h-1zM33 7h1v1h-1zM31 8h2v1h-2zM41 8h1v1h-1zM46 8h1v1h-1zM53 8h1v1h-1zM67 9h1v1h-1zM45 10h1v1h-1zM62 11h1v1h-1zM64 11h1v1h-1zM67 11h3v1h-3zM71 11h1v1h-1zM42 12h2v1h-2zM45 12h1v1h-1zM47 12h1v1h-1zM50 12h1v1h-1zM68 12h1v1h-1zM78 12h1v1h-1zM81 12h1v1h-1zM84 12h1v1h-1zM41 13h2v1h-2zM46 13h1v1h-1zM70 13h1v1h-1zM75 13h1v1h-1zM50 14h1v1h-1zM64 14h1v1h-1zM70 14h1v1h-1zM74 14h2v1h-2zM79 14h1v1h-1zM43 15h1v1h-1zM47 15h2v1h-2zM59 15h1v1h-1zM61 15h3v1h-3zM72 15h1v1h-1zM77 15h1v1h-1zM83 15h1v1h-1zM30 16h1v1h-1zM42 16h1v1h-1zM49 16h2v1h-2zM52 16h1v1h-1zM54 16h1v1h-1zM75 16h1v1h-1zM80 16h1v1h-1zM26 17h1v1h-1zM29 17h1v1h-1zM44 17h1v1h-1zM49 17h1v1h-1zM53 17h1v1h-1zM70 17h1v1h-1zM78 17h1v1h-1zM56 18h1v1h-1zM78 18h1v1h-1zM86 18h1v1h-1zM80 19h1v1h-1zM88 19h1v1h-1zM95 19h1v1h-1zM59 21h1v1h-1zM61 21h1v1h-1zM64 21h1v1h-1zM69 21h1v1h-1zM71 21h1v1h-1zM75 21h2v1h-2zM79 21h3v1h-3zM88 22h2v1h-2zM56 23h1v1h-1zM68 23h1v1h-1zM80 23h2v1h-2zM86 23h1v1h-1zM88 23h2v1h-2zM65 24h1v1h-1zM76 24h4v1h-4zM81 24h1v1h-1zM91 24h1v1h-1zM93 24h1v1h-1zM95 24h1v1h-1zM60 25h2v1h-2zM76 25h1v1h-1zM93 25h2v1h-2zM1 26h1v1h-1zM6 26h1v1h-1zM17 26h1v1h-1zM1 28h1v1h-1zM6 29h1v1h-1zM17 29h1v1h-1zM6 30h1v1h-1zM16 30h1v1h-1zM3 31h1v1h-1zM8 31h1v1h-1zM8 32h1v1h-1zM0 33h1v1h-1zM3 33h1v1h-1zM5 33h3v1h-3zM92 36h2v1h-2zM95 38h1v1h-1zM88 39h1v1h-1zM91 39h1v1h-1zM87 40h1v1h-1zM6 41h1v1h-1zM8 41h1v1h-1zM13 41h1v1h-1zM92 41h1v1h-1zM12 42h2v1h-2zM16 42h1v1h-1zM90 42h1v1h-1zM95 42h1v1h-1zM12 43h1v1h-1zM15 43h1v1h-1zM89 43h1v1h-1zM17 44h1v1h-1zM90 44h1v1h-1zM93 44h1v1h-1zM10 45h1v1h-1zM12 45h1v1h-1zM92 45h1v1h-1zM94 45h1v1h-1zM8 46h1v1h-1zM13 46h1v1h-1zM90 46h2v1h-2zM93 46h1v1h-1zM12 47h1v1h-1zM15 47h1v1h-1zM88 47h1v1h-1zM90 47h1v1h-1zM15 48h1v1h-1zM90 48h1v1h-1zM93 48h1v1h-1zM95 48h1v1h-1zM3 49h1v1h-1zM16 49h2v1h-2zM93 49h2v1h-2zM12 50h1v1h-1zM14 50h1v1h-1zM16 50h1v1h-1zM86 50h1v1h-1zM92 50h1v1h-1zM1 51h1v1h-1zM87 51h1v1h-1zM89 51h1v1h-1zM91 51h2v1h-2zM16 52h1v1h-1zM8 53h1v1h-1zM17 53h1v1h-1zM16 54h1v1h-1zM18 56h1v1h-1zM23 56h1v1h-1zM15 59h1v1h-1zM21 59h1v1h-1zM25 60h1v1h-1zM15 61h1v1h-1zM21 61h1v1h-1zM25 61h1v1h-1zM11 62h1v1h-1zM15 62h1v1h-1zM15 63h1v1h-1zM11 64h1v1h-1zM14 64h1v1h-1zM21 64h1v1h-1zM24 65h1v1h-1zM9 67h1v1h-1zM11 67h1v1h-1zM11 68h2v1h-2zM23 68h1v1h-1zM11 69h1v1h-1zM21 69h1v1h-1zM13 70h2v1h-2zM17 70h1v1h-1zM11 71h1v1h-1zM21 71h1v1h-1zM15 72h1v1h-1zM14 74h1v1h-1zM13 75h2v1h-2zM16 75h1v1h-1zM21 75h1v1h-1zM21 76h1v1h-1zM24 76h2v1h-2zM15 77h1v1h-1zM24 77h1v1h-1zM12 78h1v1h-1zM17 78h2v1h-2zM24 78h1v1h-1zM14 79h1v1h-1zM21 79h1v1h-1zM24 79h1v1h-1zM16 80h1v1h-1zM19 80h1v1h-1zM21 80h1v1h-1zM23 80h1v1h-1zM12 81h1v1h-1zM21 81h1v1h-1zM23 81h2v1h-2zM15 83h1v1h-1zM12 84h1v1h-1zM18 86h1v1h-1zM23 86h1v1h-1zM50 86h1v1h-1zM40 87h1v1h-1zM51 87h1v1h-1zM19 88h1v1h-1zM22 88h2v1h-2zM39 88h1v1h-1zM47 88h1v1h-1zM22 89h2v1h-2zM43 89h1v1h-1zM51 89h1v1h-1zM42 90h1v1h-1zM44 90h1v1h-1zM46 90h3v1h-3zM24 91h1v1h-1zM39 91h1v1h-1zM46 91h1v1h-1zM51 91h1v1h-1zM36 92h1v1h-1zM41 92h1v1h-1zM45 92h1v1h-1zM50 92h2v1h-2zM24 93h2v1h-2zM36 93h1v1h-1zM44 93h1v1h-1zM46 93h1v1h-1zM48 93h2v1h-2zM25 94h1v1h-1zM45 94h1v1h-1zM49 94h1v1h-1zM19 95h1v1h-1zM24 95h1v1h-1zM38 95h1v1h-1zM42 95h1v1h-1zM48 95h1v1h-1z"/>
<path fill="rgb(228, 242, 240)" d="M26 0h1v1h-1zM44 0h1v1h-1zM72 0h1v1h-1zM44 1h1v1h-1zM64 1h1v1h-1zM39 2h1v1h-1zM58 2h2v1h-2zM72 2h2v1h-2zM26 3h1v1h-1zM28 3h1v1h-1zM41 3h1v1h-1zM52 3h1v1h-1zM66 3h1v1h-1zM69 3h1v1h-1zM33 4h1v1h-1zM65 4h1v1h-1zM81 4h1v1h-1zM60 5h1v1h-1zM65 5h1v1h-1zM73 5h2v1h-2zM31 6h1v1h-1zM44 6h2v1h-2zM49 6h1v1h-1zM51 6h1v1h-1zM68 6h1v1h-1zM73 6h1v1h-1zM54 7h1v1h-1zM74 7h1v1h-1zM28 8h1v1h-1zM37 8h1v1h-1zM60 8h1v1h-1zM66 9h1v1h-1zM83 9h1v1h-1zM85 9h1v1h-1zM28 10h1v1h-1zM41 10h1v1h-1zM43 10h1v1h-1zM49 10h1v1h-1zM73 10h1v1h-1zM29 11h1v1h-1zM42 11h3v1h-3zM47 11h1v1h-1zM50 11h1v1h-1zM55 11h1v1h-1zM61 11h1v1h-1zM65 11h2v1h-2zM75 11h1v1h-1zM77 11h3v1h-3zM81 11h1v1h-1zM83 11h2v1h-2zM27 12h1v1h-1zM46 12h1v1h-1zM49 12h1v1h-1zM51 12h1v1h-1zM56 12h1v1h-1zM75 12h2v1h-2zM80 12h1v1h-1zM26 13h3v1h-3zM32 13h1v1h-1zM44 13h2v1h-2zM48 13h1v1h-1zM56 13h1v1h-1zM53 14h1v1h-1zM56 14h1v1h-1zM60 14h1v1h-1zM65 14h1v1h-1zM71 14h1v1h-1zM81 14h1v1h-1zM83 14h1v1h-1zM27 15h1v1h-1zM33 15h1v1h-1zM49 15h1v1h-1zM56 15h1v1h-1zM64 15h2v1h-2zM29 16h1v1h-1zM32 16h1v1h-1zM41 16h1v1h-1zM43 16h1v1h-1zM56 16h1v1h-1zM82 16h1v1h-1zM28 17h1v1h-1zM32 17h1v1h-1zM54 18h1v1h-1zM82 18h1v1h-1zM56 19h1v1h-1zM90 19h1v1h-1zM94 19h1v1h-1zM88 20h1v1h-1zM54 21h1v1h-1zM56 21h1v1h-1zM70 21h1v1h-1zM72 21h1v1h-1zM74 21h1v1h-1zM82 21h1v1h-1zM84 21h1v1h-1zM92 21h2v1h-2zM32 22h1v1h-1zM82 23h1v1h-1zM84 23h1v1h-1zM91 23h1v1h-1zM94 23h1v1h-1zM70 24h1v1h-1zM75 24h1v1h-1zM80 24h1v1h-1zM89 24h1v1h-1zM56 25h1v1h-1zM75 25h1v1h-1zM80 25h1v1h-1zM82 25h1v1h-1zM84 25h2v1h-2zM88 25h1v1h-1zM90 25h2v1h-2zM0 26h1v1h-1zM3 26h1v1h-1zM13 26h1v1h-1zM12 27h2v1h-2zM15 27h1v1h-1zM3 28h1v1h-1zM8 28h1v1h-1zM10 28h1v1h-1zM13 28h1v1h-1zM17 28h1v1h-1zM87 28h1v1h-1zM11 29h1v1h-1zM16 29h1v1h-1zM90 30h1v1h-1zM6 31h1v1h-1zM13 32h1v1h-1zM16 32h2v1h-2zM22 32h1v1h-1zM4 33h1v1h-1zM15 33h1v1h-1zM94 35h2v1h-2zM89 36h2v1h-2zM94 36h1v1h-1zM8 37h1v1h-1zM91 37h1v1h-1zM88 38h1v1h-1zM2 39h1v1h-1zM86 39h1v1h-1zM90 39h1v1h-1zM92 39h1v1h-1zM93 40h1v1h-1zM3 41h1v1h-1zM10 41h1v1h-1zM16 41h1v1h-1zM87 41h1v1h-1zM89 41h1v1h-1zM11 42h1v1h-1zM88 42h2v1h-2zM10 43h2v1h-2zM16 43h1v1h-1zM86 43h1v1h-1zM95 43h1v1h-1zM0 44h2v1h-2zM6 44h1v1h-1zM11 44h1v1h-1zM13 44h1v1h-1zM86 44h1v1h-1zM91 44h1v1h-1zM6 45h1v1h-1zM13 45h1v1h-1zM86 45h1v1h-1zM89 45h2v1h-2zM12 46h1v1h-1zM86 46h1v1h-1zM88 46h2v1h-2zM94 46h1v1h-1zM11 47h1v1h-1zM13 48h1v1h-1zM6 49h1v1h-1zM10 49h1v1h-1zM12 49h1v1h-1zM15 49h1v1h-1zM92 49h1v1h-1zM95 49h1v1h-1zM11 50h1v1h-1zM88 50h2v1h-2zM6 51h1v1h-1zM12 51h1v1h-1zM86 51h1v1h-1zM94 51h1v1h-1zM3 52h1v1h-1zM86 52h1v1h-1zM90 52h1v1h-1zM92 52h1v1h-1zM94 52h1v1h-1zM14 53h1v1h-1zM94 53h2v1h-2zM7 54h1v1h-1zM18 54h1v1h-1zM21 54h1v1h-1zM11 55h1v1h-1zM12 56h5v1h-5zM19 56h1v1h-1zM21 56h1v1h-1zM25 56h1v1h-1zM2 58h1v1h-1zM2 59h1v1h-1zM5 60h1v1h-1zM8 60h1v1h-1zM14 60h1v1h-1zM11 61h1v1h-1zM1 64h1v1h-1zM15 64h1v1h-1zM4 65h2v1h-2zM11 65h1v1h-1zM14 65h2v1h-2zM3 66h1v1h-1zM9 66h1v1h-1zM11 66h1v1h-1zM6 68h1v1h-1zM3 69h1v1h-1zM21 70h1v1h-1zM24 70h1v1h-1zM14 71h1v1h-1zM0 72h1v1h-1zM2 72h1v1h-1zM21 72h1v1h-1zM2 73h1v1h-1zM5 73h2v1h-2zM10 73h1v1h-1zM5 74h1v1h-1zM7 74h1v1h-1zM21 74h1v1h-1zM11 75h2v1h-2zM24 75h2v1h-2zM12 76h1v1h-1zM11 77h1v1h-1zM11 78h1v1h-1zM11 79h1v1h-1zM12 80h1v1h-1zM24 80h2v1h-2zM4 81h1v1h-1zM11 81h1v1h-1zM14 81h1v1h-1zM16 82h1v1h-1zM18 82h1v1h-1zM21 82h1v1h-1zM23 82h1v1h-1zM25 82h1v1h-1zM9 83h1v1h-1zM11 83h1v1h-1zM14 83h1v1h-1zM11 84h1v1h-1zM21 84h1v1h-1zM23 84h1v1h-1zM25 84h1v1h-1zM9 85h1v1h-1zM25 85h1v1h-1zM39 86h1v1h-1zM43 86h4v1h-4zM51 86h2v1h-2zM28 87h1v1h-1zM41 87h1v1h-1zM20 88h1v1h-1zM25 88h1v1h-1zM38 88h1v1h-1zM42 88h1v1h-1zM46 88h1v1h-1zM50 88h1v1h-1zM24 89h1v1h-1zM36 89h1v1h-1zM41 89h2v1h-2zM45 89h2v1h-2zM50 89h1v1h-1zM19 90h1v1h-1zM25 90h1v1h-1zM30 90h1v1h-1zM36 90h1v1h-1zM39 90h1v1h-1zM45 90h1v1h-1zM52 90h1v1h-1zM23 91h1v1h-1zM25 91h1v1h-1zM37 91h1v1h-1zM44 91h1v1h-1zM21 92h1v1h-1zM39 92h1v1h-1zM49 92h1v1h-1zM52 92h1v1h-1zM21 93h1v1h-1zM40 93h1v1h-1zM19 94h1v1h-1zM23 94h1v1h-1zM35 94h2v1h-2zM46 94h1v1h-1zM51 94h3v1h-3zM35 95h1v1h-1zM43 95h1v1h-1zM49 95h1v1h-1zM53 95h1v1h-1z"/>
<path fill="rgb(236, 245, 226)" d="M58 0h1v1h-1zM60 0h2v1h-2zM71 0h1v1h-1zM74 0h2v1h-2zM33 1h1v1h-1zM49 1h1v1h-1zM67 1h1v1h-1zM76 1h1v1h-1zM61 2h4v1h-4zM78 2h1v1h-1zM83 2h1v1h-1zM51 3h1v1h-1zM55 3h1v1h-1zM67 3h1v1h-1zM85 3h1v1h-1zM55 4h1v1h-1zM59 4h1v1h-1zM69 4h1v1h-1zM83 4h1v1h-1zM66 5h1v1h-1zM77 5h1v1h-1zM79 5h1v1h-1zM81 5h1v1h-1zM83 5h1v1h-1zM35 6h1v1h-1zM54 6h1v1h-1zM64 6h1v1h-1zM67 6h1v1h-1zM77 6h1v1h-1zM80 6h1v1h-1zM84 6h1v1h-1zM55 7h1v1h-1zM58 7h1v1h-1zM60 7h3v1h-3zM65 7h2v1h-2zM68 7h1v1h-1zM70 7h1v1h-1zM72 7h2v1h-2zM80 7h1v1h-1zM33 8h1v1h-1zM44 8h2v1h-2zM49 8h1v1h-1zM51 8h1v1h-1zM62 8h1v1h-1zM67 8h1v1h-1zM72 8h2v1h-2zM80 8h1v1h-1zM58 9h1v1h-1zM62 9h2v1h-2zM69 9h1v1h-1zM77 9h1v1h-1zM34 10h1v1h-1zM40 10h1v1h-1zM51 10h1v1h-1zM61 10h1v1h-1zM68 10h1v1h-1zM27 11h2v1h-2zM38 11h1v1h-1zM45 11h1v1h-1zM51 11h1v1h-1zM54 11h1v1h-1zM56 11h1v1h-1zM82 11h1v1h-1zM85 11h1v1h-1zM29 12h2v1h-2zM32 12h1v1h-1zM34 12h1v1h-1zM44 12h1v1h-1zM48 12h1v1h-1zM53 12h1v1h-1zM82 12h1v1h-1zM31 13h1v1h-1zM33 13h1v1h-1zM49 13h1v1h-1zM52 13h1v1h-1zM78 13h1v1h-1zM30 14h2v1h-2zM41 14h1v1h-1zM46 14h2v1h-2zM52 14h1v1h-1zM54 14h2v1h-2zM63 14h1v1h-1zM76 14h1v1h-1zM78 14h1v1h-1zM82 14h1v1h-1zM85 14h1v1h-1zM31 15h2v1h-2zM37 15h1v1h-1zM41 15h2v1h-2zM50 15h1v1h-1zM54 15h2v1h-2zM80 15h3v1h-3zM84 15h2v1h-2zM26 16h3v1h-3zM31 16h1v1h-1zM39 16h1v1h-1zM44 16h2v1h-2zM51 16h1v1h-1zM70 16h1v1h-1zM78 16h1v1h-1zM33 17h1v1h-1zM37 17h1v1h-1zM51 17h1v1h-1zM70 19h1v1h-1zM86 19h1v1h-1zM89 19h1v1h-1zM35 21h1v1h-1zM85 21h2v1h-2zM90 21h1v1h-1zM94 21h1v1h-1zM70 23h1v1h-1zM78 23h1v1h-1zM95 23h1v1h-1zM33 24h1v1h-1zM39 24h1v1h-1zM56 24h1v1h-1zM82 24h1v1h-1zM84 24h2v1h-2zM88 24h1v1h-1zM94 24h1v1h-1zM55 25h1v1h-1zM89 25h1v1h-1zM92 25h1v1h-1zM16 26h1v1h-1zM87 26h1v1h-1zM90 26h1v1h-1zM92 26h1v1h-1zM11 27h1v1h-1zM16 27h1v1h-1zM87 27h1v1h-1zM91 27h4v1h-4zM11 28h1v1h-1zM16 28h1v1h-1zM86 28h1v1h-1zM90 28h1v1h-1zM12 29h1v1h-1zM12 30h1v1h-1zM14 30h1v1h-1zM87 30h1v1h-1zM91 30h1v1h-1zM94 30h1v1h-1zM13 31h4v1h-4zM12 32h1v1h-1zM15 32h1v1h-1zM87 32h1v1h-1zM89 32h1v1h-1zM1 33h1v1h-1zM8 33h1v1h-1zM13 33h1v1h-1zM17 33h1v1h-1zM24 33h1v1h-1zM10 34h1v1h-1zM12 34h1v1h-1zM86 34h1v1h-1zM89 34h2v1h-2zM6 35h1v1h-1zM21 35h1v1h-1zM86 35h3v1h-3zM90 35h2v1h-2zM91 36h1v1h-1zM95 36h1v1h-1zM15 37h1v1h-1zM17 37h1v1h-1zM86 37h1v1h-1zM92 37h1v1h-1zM11 38h1v1h-1zM93 38h1v1h-1zM16 39h1v1h-1zM24 39h1v1h-1zM87 39h1v1h-1zM93 39h1v1h-1zM10 40h1v1h-1zM88 40h1v1h-1zM92 40h1v1h-1zM94 40h1v1h-1zM14 41h2v1h-2zM86 41h1v1h-1zM95 41h1v1h-1zM15 42h1v1h-1zM88 43h1v1h-1zM94 43h1v1h-1zM8 44h1v1h-1zM12 44h1v1h-1zM16 44h1v1h-1zM89 44h1v1h-1zM92 44h1v1h-1zM94 44h2v1h-2zM8 45h1v1h-1zM11 45h1v1h-1zM16 45h1v1h-1zM14 46h1v1h-1zM14 47h1v1h-1zM86 47h1v1h-1zM94 47h1v1h-1zM12 48h1v1h-1zM88 48h1v1h-1zM1 49h1v1h-1zM8 49h1v1h-1zM13 49h1v1h-1zM86 49h2v1h-2zM15 50h1v1h-1zM3 51h1v1h-1zM8 51h1v1h-1zM10 51h2v1h-2zM16 51h2v1h-2zM90 51h1v1h-1zM93 51h1v1h-1zM13 52h2v1h-2zM87 52h2v1h-2zM12 53h1v1h-1zM86 53h1v1h-1zM6 54h1v1h-1zM11 54h1v1h-1zM14 54h2v1h-2zM3 55h2v1h-2zM7 55h1v1h-1zM14 55h2v1h-2zM25 55h1v1h-1zM11 56h1v1h-1zM24 56h1v1h-1zM0 58h1v1h-1zM7 58h1v1h-1zM9 58h1v1h-1zM4 59h1v1h-1zM0 60h1v1h-1zM7 60h1v1h-1zM0 61h1v1h-1zM2 61h1v1h-1zM7 61h1v1h-1zM10 61h1v1h-1zM2 62h1v1h-1zM7 62h3v1h-3zM2 63h1v1h-1zM9 63h1v1h-1zM14 63h1v1h-1zM2 64h1v1h-1zM6 64h1v1h-1zM7 65h1v1h-1zM5 66h1v1h-1zM7 66h1v1h-1zM1 67h1v1h-1zM3 67h1v1h-1zM6 67h1v1h-1zM8 67h1v1h-1zM7 68h1v1h-1zM10 68h1v1h-1zM4 69h1v1h-1zM9 69h1v1h-1zM7 70h1v1h-1zM16 70h1v1h-1zM19 70h1v1h-1zM23 70h1v1h-1zM0 71h1v1h-1zM7 72h2v1h-2zM7 73h2v1h-2zM0 74h1v1h-1zM0 75h1v1h-1zM1 76h1v1h-1zM14 76h1v1h-1zM5 77h2v1h-2zM9 77h1v1h-1zM2 78h1v1h-1zM13 78h2v1h-2zM16 78h1v1h-1zM23 78h1v1h-1zM5 79h1v1h-1zM6 80h3v1h-3zM15 80h1v1h-1zM5 81h1v1h-1zM15 81h1v1h-1zM11 82h2v1h-2zM14 82h2v1h-2zM24 82h1v1h-1zM2 83h1v1h-1zM4 83h2v1h-2zM6 84h1v1h-1zM15 84h1v1h-1zM24 84h1v1h-1zM3 85h1v1h-1zM11 85h1v1h-1zM14 85h2v1h-2zM21 85h1v1h-1zM24 85h1v1h-1zM19 86h1v1h-1zM21 86h1v1h-1zM28 86h1v1h-1zM34 86h2v1h-2zM37 86h1v1h-1zM41 86h1v1h-1zM47 86h1v1h-1zM49 86h1v1h-1zM53 86h1v1h-1zM26 87h2v1h-2zM30 87h1v1h-1zM32 87h1v1h-1zM35 87h1v1h-1zM39 87h1v1h-1zM49 87h1v1h-1zM52 87h1v1h-1zM24 88h1v1h-1zM35 88h1v1h-1zM40 88h1v1h-1zM43 88h1v1h-1zM48 88h1v1h-1zM52 88h1v1h-1zM19 89h1v1h-1zM25 89h1v1h-1zM32 89h1v1h-1zM34 89h1v1h-1zM44 89h1v1h-1zM21 90h1v1h-1zM26 90h1v1h-1zM28 90h1v1h-1zM34 90h2v1h-2zM51 90h1v1h-1zM27 91h1v1h-1zM30 91h1v1h-1zM35 91h2v1h-2zM25 92h3v1h-3zM37 92h1v1h-1zM40 92h1v1h-1zM44 92h1v1h-1zM27 93h1v1h-1zM38 93h2v1h-2zM51 93h1v1h-1zM21 94h1v1h-1zM24 94h1v1h-1zM27 94h1v1h-1zM30 94h1v1h-1zM40 94h1v1h-1zM43 94h2v1h-2zM47 94h1v1h-1zM23 95h1v1h-1zM36 95h1v1h-1zM41 95h1v1h-1zM44 95h1v1h-1z"/>
<path fill="rgb(243, 247, 211)" d="M35 0h1v1h-1zM38 0h1v1h-1zM54 0h1v1h-1zM57 0h1v1h-1zM62 0h4v1h-4zM68 0h2v1h-2zM77 0h1v1h-1zM80 0h2v1h-2zM84 0h2v1h-2zM37 1h1v1h-1zM54 1h1v1h-1zM57 1h4v1h-4zM65 1h2v1h-2zM68 1h3v1h-3zM73 1h3v1h-3zM78 1h1v1h-1zM83 1h1v1h-1zM85 1h1v1h-1zM34 2h1v1h-1zM36 2h1v1h-1zM56 2h2v1h-2zM60 2h1v1h-1zM68 2h2v1h-2zM71 2h1v1h-1zM74 2h1v1h-1zM77 2h1v1h-1zM79 2h1v1h-1zM81 2h2v1h-2zM84 2h1v1h-1zM34 3h2v1h-2zM37 3h1v1h-1zM39 3h2v1h-2zM57 3h1v1h-1zM59 3h2v1h-2zM64 3h2v1h-2zM72 3h3v1h-3zM80 3h2v1h-2zM83 3h2v1h-2zM35 4h2v1h-2zM38 4h3v1h-3zM54 4h1v1h-1zM57 4h2v1h-2zM60 4h1v1h-1zM62 4h1v1h-1zM67 4h2v1h-2zM70 4h5v1h-5zM76 4h4v1h-4zM34 5h1v1h-1zM37 5h1v1h-1zM39 5h1v1h-1zM55 5h1v1h-1zM57 5h2v1h-2zM61 5h2v1h-2zM69 5h2v1h-2zM21 6h1v1h-1zM36 6h1v1h-1zM38 6h1v1h-1zM57 6h1v1h-1zM59 6h1v1h-1zM62 6h2v1h-2zM65 6h2v1h-2zM74 6h1v1h-1zM78 6h1v1h-1zM35 7h2v1h-2zM56 7h1v1h-1zM64 7h1v1h-1zM76 7h1v1h-1zM78 7h2v1h-2zM81 7h1v1h-1zM83 7h2v1h-2zM38 8h1v1h-1zM54 8h2v1h-2zM61 8h1v1h-1zM66 8h1v1h-1zM70 8h1v1h-1zM74 8h2v1h-2zM83 8h1v1h-1zM37 9h1v1h-1zM40 9h1v1h-1zM54 9h2v1h-2zM57 9h1v1h-1zM59 9h1v1h-1zM61 9h1v1h-1zM64 9h1v1h-1zM68 9h1v1h-1zM72 9h3v1h-3zM76 9h1v1h-1zM78 9h2v1h-2zM82 9h1v1h-1zM33 10h1v1h-1zM35 10h1v1h-1zM38 10h1v1h-1zM54 10h1v1h-1zM56 10h2v1h-2zM62 10h1v1h-1zM66 10h1v1h-1zM71 10h1v1h-1zM75 10h1v1h-1zM79 10h1v1h-1zM81 10h1v1h-1zM83 10h2v1h-2zM26 11h1v1h-1zM30 11h3v1h-3zM35 11h2v1h-2zM41 11h1v1h-1zM48 11h1v1h-1zM52 11h1v1h-1zM70 11h1v1h-1zM80 11h1v1h-1zM92 11h1v1h-1zM28 12h1v1h-1zM31 12h1v1h-1zM36 12h2v1h-2zM52 12h1v1h-1zM70 12h1v1h-1zM34 13h1v1h-1zM39 13h1v1h-1zM51 13h1v1h-1zM87 13h2v1h-2zM92 13h1v1h-1zM26 14h2v1h-2zM29 14h1v1h-1zM33 14h1v1h-1zM44 14h2v1h-2zM48 14h1v1h-1zM80 14h1v1h-1zM84 14h1v1h-1zM29 15h1v1h-1zM40 15h1v1h-1zM44 15h1v1h-1zM46 15h1v1h-1zM70 15h1v1h-1zM75 15h1v1h-1zM78 15h1v1h-1zM40 16h1v1h-1zM46 16h1v1h-1zM38 17h2v1h-2zM41 17h1v1h-1zM49 18h1v1h-1zM29 19h1v1h-1zM6 21h1v1h-1zM27 21h1v1h-1zM31 21h1v1h-1zM78 21h1v1h-1zM87 21h1v1h-1zM89 21h1v1h-1zM95 21h1v1h-1zM31 22h1v1h-1zM47 23h1v1h-1zM49 23h1v1h-1zM51 23h1v1h-1zM37 24h1v1h-1zM51 24h1v1h-1zM86 24h1v1h-1zM90 24h1v1h-1zM27 25h1v1h-1zM49 25h1v1h-1zM70 25h1v1h-1zM86 25h1v1h-1zM11 26h1v1h-1zM14 26h1v1h-1zM86 26h1v1h-1zM89 26h1v1h-1zM93 26h1v1h-1zM14 27h1v1h-1zM21 27h1v1h-1zM25 27h1v1h-1zM12 28h1v1h-1zM93 28h1v1h-1zM14 29h2v1h-2zM19 29h1v1h-1zM89 29h2v1h-2zM92 29h2v1h-2zM11 30h1v1h-1zM89 30h1v1h-1zM93 30h1v1h-1zM95 30h1v1h-1zM11 31h2v1h-2zM21 31h2v1h-2zM86 31h2v1h-2zM93 31h1v1h-1zM11 32h1v1h-1zM93 32h3v1h-3zM10 33h1v1h-1zM14 33h1v1h-1zM90 33h2v1h-2zM2 34h2v1h-2zM5 34h1v1h-1zM13 34h1v1h-1zM91 34h4v1h-4zM0 35h1v1h-1zM3 35h2v1h-2zM7 35h1v1h-1zM10 35h2v1h-2zM89 35h1v1h-1zM93 35h1v1h-1zM2 36h1v1h-1zM4 36h1v1h-1zM6 36h2v1h-2zM11 36h2v1h-2zM86 36h2v1h-2zM1 37h1v1h-1zM3 37h1v1h-1zM5 37h1v1h-1zM9 37h1v1h-1zM12 37h1v1h-1zM24 37h1v1h-1zM90 37h1v1h-1zM94 37h1v1h-1zM0 38h1v1h-1zM4 38h1v1h-1zM6 38h1v1h-1zM8 38h1v1h-1zM10 38h1v1h-1zM17 38h1v1h-1zM91 38h2v1h-2zM94 38h1v1h-1zM3 39h3v1h-3zM13 39h1v1h-1zM17 39h1v1h-1zM95 39h1v1h-1zM3 40h2v1h-2zM9 40h1v1h-1zM15 40h2v1h-2zM86 40h1v1h-1zM89 40h2v1h-2zM11 41h1v1h-1zM17 41h1v1h-1zM78 41h1v1h-1zM85 41h1v1h-1zM94 41h1v1h-1zM81 43h1v1h-1zM14 44h2v1h-2zM61 44h1v1h-1zM88 44h1v1h-1zM14 45h1v1h-1zM88 45h1v1h-1zM15 46h2v1h-2zM78 46h1v1h-1zM23 47h1v1h-1zM11 48h1v1h-1zM14 48h1v1h-1zM18 49h1v1h-1zM23 49h1v1h-1zM25 49h1v1h-1zM88 49h1v1h-1zM90 49h1v1h-1zM13 51h1v1h-1zM23 51h2v1h-2zM60 51h1v1h-1zM88 51h1v1h-1zM11 52h2v1h-2zM88 53h1v1h-1zM0 54h2v1h-2zM4 54h1v1h-1zM8 54h3v1h-3zM5 55h1v1h-1zM8 55h2v1h-2zM2 56h1v1h-1zM7 56h1v1h-1zM10 56h1v1h-1zM88 56h1v1h-1zM0 57h7v1h-7zM9 57h2v1h-2zM1 58h1v1h-1zM4 58h2v1h-2zM1 59h1v1h-1zM3 59h1v1h-1zM6 59h1v1h-1zM9 59h1v1h-1zM1 60h4v1h-4zM51 60h1v1h-1zM5 61h1v1h-1zM8 61h2v1h-2zM44 61h1v1h-1zM0 62h1v1h-1zM4 62h3v1h-3zM10 62h1v1h-1zM0 63h1v1h-1zM6 63h1v1h-1zM0 64h1v1h-1zM3 64h1v1h-1zM7 64h1v1h-1zM9 64h1v1h-1zM0 65h2v1h-2zM3 65h1v1h-1zM6 65h1v1h-1zM1 66h1v1h-1zM6 66h1v1h-1zM8 66h1v1h-1zM10 66h1v1h-1zM4 67h1v1h-1zM0 68h3v1h-3zM4 68h1v1h-1zM9 68h1v1h-1zM0 69h3v1h-3zM5 69h1v1h-1zM1 70h1v1h-1zM4 70h2v1h-2zM8 70h1v1h-1zM11 70h2v1h-2zM15 70h1v1h-1zM25 70h1v1h-1zM2 71h1v1h-1zM4 71h1v1h-1zM10 71h1v1h-1zM3 72h2v1h-2zM9 72h1v1h-1zM1 73h1v1h-1zM3 73h2v1h-2zM9 73h1v1h-1zM1 74h4v1h-4zM6 74h1v1h-1zM8 74h2v1h-2zM1 75h1v1h-1zM8 75h1v1h-1zM10 75h1v1h-1zM15 75h1v1h-1zM4 76h1v1h-1zM7 76h1v1h-1zM9 76h1v1h-1zM0 77h1v1h-1zM2 77h1v1h-1zM4 77h1v1h-1zM1 78h1v1h-1zM4 78h1v1h-1zM6 78h2v1h-2zM9 78h1v1h-1zM15 78h1v1h-1zM21 78h1v1h-1zM41 78h1v1h-1zM46 78h1v1h-1zM2 79h1v1h-1zM4 79h1v1h-1zM7 79h1v1h-1zM9 79h2v1h-2zM0 80h1v1h-1zM3 80h1v1h-1zM11 80h1v1h-1zM14 80h1v1h-1zM0 81h1v1h-1zM2 81h2v1h-2zM7 81h1v1h-1zM10 81h1v1h-1zM43 81h1v1h-1zM2 82h1v1h-1zM9 82h1v1h-1zM1 83h1v1h-1zM3 83h1v1h-1zM7 83h2v1h-2zM10 83h1v1h-1zM0 84h1v1h-1zM2 84h2v1h-2zM7 84h1v1h-1zM10 84h1v1h-1zM14 84h1v1h-1zM0 85h2v1h-2zM41 85h1v1h-1zM24 86h3v1h-3zM31 86h1v1h-1zM36 86h1v1h-1zM40 86h1v1h-1zM13 87h1v1h-1zM21 87h1v1h-1zM31 87h1v1h-1zM36 87h1v1h-1zM13 88h1v1h-1zM44 88h2v1h-2zM49 88h1v1h-1zM51 88h1v1h-1zM53 88h1v1h-1zM56 88h1v1h-1zM21 89h1v1h-1zM26 89h1v1h-1zM29 89h2v1h-2zM35 89h1v1h-1zM40 89h1v1h-1zM24 90h1v1h-1zM29 90h1v1h-1zM33 90h1v1h-1zM37 90h1v1h-1zM40 90h1v1h-1zM49 90h1v1h-1zM33 91h2v1h-2zM38 91h1v1h-1zM11 92h1v1h-1zM13 92h1v1h-1zM29 92h1v1h-1zM34 92h1v1h-1zM38 92h1v1h-1zM26 93h1v1h-1zM28 93h5v1h-5zM34 93h2v1h-2zM32 94h1v1h-1zM34 94h1v1h-1zM37 94h2v1h-2zM41 94h1v1h-1zM21 95h1v1h-1zM30 95h1v1h-1zM32 95h1v1h-1zM39 95h1v1h-1z"/>
<path fill="rgb(251, 250, 197)" d="M36 0h2v1h-2zM39 0h2v1h-2zM56 0h1v1h-1zM59 0h1v1h-1zM67 0h1v1h-1zM70 0h1v1h-1zM73 0h1v1h-1zM76 0h1v1h-1zM78 0h2v1h-2zM83 0h1v1h-1zM21 1h1v1h-1zM35 1h1v1h-1zM38 1h3v1h-3zM56 1h1v1h-1zM62 1h2v1h-2zM72 1h1v1h-1zM77 1h1v1h-1zM80 1h1v1h-1zM82 1h1v1h-1zM84 1h1v1h-1zM38 2h1v1h-1zM40 2h1v1h-1zM55 2h1v1h-1zM65 2h3v1h-3zM75 2h2v1h-2zM80 2h1v1h-1zM85 2h1v1h-1zM14 3h1v1h-1zM56 3h1v1h-1zM58 3h1v1h-1zM62 3h2v1h-2zM70 3h2v1h-2zM75 3h1v1h-1zM77 3h1v1h-1zM34 4h1v1h-1zM56 4h1v1h-1zM61 4h1v1h-1zM63 4h2v1h-2zM66 4h1v1h-1zM80 4h1v1h-1zM82 4h1v1h-1zM84 4h2v1h-2zM35 5h2v1h-2zM40 5h1v1h-1zM63 5h2v1h-2zM67 5h1v1h-1zM71 5h2v1h-2zM75 5h2v1h-2zM78 5h1v1h-1zM80 5h1v1h-1zM82 5h1v1h-1zM85 5h1v1h-1zM11 6h1v1h-1zM23 6h1v1h-1zM39 6h2v1h-2zM55 6h2v1h-2zM60 6h1v1h-1zM69 6h3v1h-3zM81 6h2v1h-2zM85 6h1v1h-1zM38 7h2v1h-2zM63 7h1v1h-1zM67 7h1v1h-1zM69 7h1v1h-1zM71 7h1v1h-1zM75 7h1v1h-1zM77 7h1v1h-1zM34 8h2v1h-2zM56 8h2v1h-2zM59 8h1v1h-1zM64 8h2v1h-2zM68 8h1v1h-1zM76 8h1v1h-1zM78 8h1v1h-1zM81 8h2v1h-2zM85 8h1v1h-1zM35 9h2v1h-2zM38 9h2v1h-2zM56 9h1v1h-1zM60 9h1v1h-1zM65 9h1v1h-1zM71 9h1v1h-1zM75 9h1v1h-1zM80 9h2v1h-2zM84 9h1v1h-1zM21 10h1v1h-1zM36 10h2v1h-2zM39 10h1v1h-1zM55 10h1v1h-1zM58 10h3v1h-3zM64 10h1v1h-1zM67 10h1v1h-1zM69 10h1v1h-1zM72 10h1v1h-1zM74 10h1v1h-1zM80 10h1v1h-1zM82 10h1v1h-1zM85 10h1v1h-1zM6 11h1v1h-1zM33 11h1v1h-1zM37 11h1v1h-1zM39 11h1v1h-1zM46 11h1v1h-1zM53 11h1v1h-1zM86 11h1v1h-1zM95 11h1v1h-1zM26 12h1v1h-1zM33 12h1v1h-1zM35 12h1v1h-1zM39 12h1v1h-1zM41 12h1v1h-1zM54 12h1v1h-1zM88 12h1v1h-1zM92 12h1v1h-1zM94 12h2v1h-2zM35 13h2v1h-2zM38 13h1v1h-1zM89 13h2v1h-2zM95 13h1v1h-1zM3 14h1v1h-1zM34 14h2v1h-2zM37 14h3v1h-3zM42 14h1v1h-1zM51 14h1v1h-1zM87 14h1v1h-1zM94 14h1v1h-1zM26 15h1v1h-1zM28 15h1v1h-1zM30 15h1v1h-1zM34 15h2v1h-2zM38 15h2v1h-2zM45 15h1v1h-1zM51 15h2v1h-2zM90 15h1v1h-1zM93 15h2v1h-2zM33 16h1v1h-1zM36 16h1v1h-1zM88 16h2v1h-2zM95 16h1v1h-1zM34 17h1v1h-1zM36 17h1v1h-1zM28 18h1v1h-1zM30 18h1v1h-1zM43 18h1v1h-1zM45 18h1v1h-1zM47 18h1v1h-1zM51 18h2v1h-2zM27 19h2v1h-2zM30 19h2v1h-2zM35 19h1v1h-1zM40 19h1v1h-1zM43 19h1v1h-1zM53 19h1v1h-1zM32 20h1v1h-1zM49 20h1v1h-1zM1 21h1v1h-1zM10 21h1v1h-1zM26 21h1v1h-1zM32 21h1v1h-1zM42 21h2v1h-2zM45 21h1v1h-1zM52 21h1v1h-1zM88 21h1v1h-1zM38 22h1v1h-1zM50 22h1v1h-1zM6 23h1v1h-1zM35 23h1v1h-1zM37 23h1v1h-1zM42 23h1v1h-1zM48 23h1v1h-1zM27 24h1v1h-1zM32 24h1v1h-1zM40 24h2v1h-2zM44 24h1v1h-1zM48 24h1v1h-1zM50 24h1v1h-1zM28 25h4v1h-4zM33 25h2v1h-2zM41 25h1v1h-1zM46 25h1v1h-1zM50 25h1v1h-1zM53 25h1v1h-1zM95 25h1v1h-1zM12 26h1v1h-1zM15 26h1v1h-1zM21 26h1v1h-1zM84 26h1v1h-1zM88 26h1v1h-1zM91 26h1v1h-1zM94 26h1v1h-1zM19 27h1v1h-1zM24 27h1v1h-1zM86 27h1v1h-1zM89 27h2v1h-2zM15 28h1v1h-1zM18 28h2v1h-2zM25 28h1v1h-1zM34 28h1v1h-1zM88 28h2v1h-2zM91 28h2v1h-2zM94 28h2v1h-2zM25 29h1v1h-1zM86 29h3v1h-3zM91 29h1v1h-1zM15 30h1v1h-1zM18 30h2v1h-2zM25 30h1v1h-1zM86 30h1v1h-1zM92 30h1v1h-1zM19 31h1v1h-1zM25 31h1v1h-1zM88 31h2v1h-2zM91 31h1v1h-1zM94 31h1v1h-1zM20 32h2v1h-2zM24 32h1v1h-1zM88 32h1v1h-1zM91 32h1v1h-1zM11 33h2v1h-2zM16 33h1v1h-1zM25 33h1v1h-1zM86 33h3v1h-3zM95 33h1v1h-1zM4 34h1v1h-1zM8 34h1v1h-1zM14 34h2v1h-2zM17 34h1v1h-1zM25 34h1v1h-1zM28 34h1v1h-1zM76 34h1v1h-1zM88 34h1v1h-1zM95 34h1v1h-1zM1 35h1v1h-1zM5 35h1v1h-1zM8 35h2v1h-2zM12 35h4v1h-4zM19 35h1v1h-1zM23 35h1v1h-1zM71 35h1v1h-1zM0 36h1v1h-1zM5 36h1v1h-1zM9 36h2v1h-2zM13 36h1v1h-1zM16 36h2v1h-2zM88 36h1v1h-1zM0 37h1v1h-1zM10 37h2v1h-2zM14 37h1v1h-1zM23 37h1v1h-1zM87 37h3v1h-3zM1 38h2v1h-2zM7 38h1v1h-1zM9 38h1v1h-1zM13 38h3v1h-3zM22 38h1v1h-1zM86 38h2v1h-2zM89 38h2v1h-2zM0 39h2v1h-2zM6 39h2v1h-2zM9 39h4v1h-4zM14 39h2v1h-2zM70 39h1v1h-1zM89 39h1v1h-1zM94 39h1v1h-1zM0 40h3v1h-3zM5 40h2v1h-2zM19 40h1v1h-1zM24 40h1v1h-1zM91 40h1v1h-1zM95 40h1v1h-1zM12 41h1v1h-1zM24 41h2v1h-2zM76 41h1v1h-1zM88 41h1v1h-1zM14 42h1v1h-1zM21 42h1v1h-1zM23 42h1v1h-1zM70 42h1v1h-1zM18 43h2v1h-2zM21 43h1v1h-1zM80 43h1v1h-1zM24 44h1v1h-1zM79 44h2v1h-2zM15 45h1v1h-1zM18 45h1v1h-1zM21 45h1v1h-1zM11 46h1v1h-1zM25 46h1v1h-1zM57 46h1v1h-1zM65 46h1v1h-1zM18 47h1v1h-1zM56 47h1v1h-1zM23 48h2v1h-2zM70 48h1v1h-1zM20 49h1v1h-1zM57 49h1v1h-1zM70 49h1v1h-1zM78 49h1v1h-1zM22 50h1v1h-1zM24 50h2v1h-2zM14 51h2v1h-2zM18 51h1v1h-1zM54 51h1v1h-1zM57 51h1v1h-1zM68 51h2v1h-2zM76 51h1v1h-1zM79 51h1v1h-1zM81 51h1v1h-1zM95 51h1v1h-1zM15 52h1v1h-1zM18 52h1v1h-1zM21 52h1v1h-1zM70 52h1v1h-1zM11 53h1v1h-1zM19 53h1v1h-1zM25 53h1v1h-1zM12 54h1v1h-1zM51 54h1v1h-1zM2 55h1v1h-1zM6 55h1v1h-1zM10 55h1v1h-1zM0 56h2v1h-2zM3 56h2v1h-2zM6 56h1v1h-1zM8 56h2v1h-2zM47 56h1v1h-1zM8 57h1v1h-1zM46 57h1v1h-1zM49 57h1v1h-1zM51 57h1v1h-1zM3 58h1v1h-1zM10 58h1v1h-1zM0 59h1v1h-1zM8 59h1v1h-1zM10 59h1v1h-1zM6 60h1v1h-1zM9 60h2v1h-2zM4 61h1v1h-1zM1 62h1v1h-1zM3 62h1v1h-1zM1 63h1v1h-1zM3 63h3v1h-3zM7 63h1v1h-1zM4 64h2v1h-2zM8 64h1v1h-1zM10 64h1v1h-1zM2 65h1v1h-1zM8 65h2v1h-2zM46 65h1v1h-1zM2 66h1v1h-1zM4 66h1v1h-1zM0 67h1v1h-1zM2 67h1v1h-1zM5 67h1v1h-1zM7 67h1v1h-1zM10 67h1v1h-1zM8 68h1v1h-1zM51 68h1v1h-1zM6 69h2v1h-2zM10 69h1v1h-1zM51 69h1v1h-1zM0 70h1v1h-1zM3 70h1v1h-1zM6 70h1v1h-1zM39 70h1v1h-1zM42 70h1v1h-1zM48 70h2v1h-2zM52 70h1v1h-1zM3 71h1v1h-1zM5 71h3v1h-3zM9 71h1v1h-1zM35 71h1v1h-1zM1 72h1v1h-1zM5 72h1v1h-1zM10 72h1v1h-1zM0 73h1v1h-1zM10 74h1v1h-1zM2 75h2v1h-2zM5 75h1v1h-1zM7 75h1v1h-1zM9 75h1v1h-1zM0 76h1v1h-1zM2 76h1v1h-1zM5 76h1v1h-1zM8 76h1v1h-1zM34 76h1v1h-1zM41 76h1v1h-1zM51 76h1v1h-1zM1 77h1v1h-1zM3 77h1v1h-1zM7 77h1v1h-1zM0 78h1v1h-1zM5 78h1v1h-1zM8 78h1v1h-1zM49 78h1v1h-1zM0 79h1v1h-1zM44 79h1v1h-1zM51 79h1v1h-1zM1 80h2v1h-2zM4 80h2v1h-2zM9 80h2v1h-2zM43 80h2v1h-2zM6 81h1v1h-1zM8 81h2v1h-2zM51 81h1v1h-1zM1 82h1v1h-1zM4 82h3v1h-3zM8 82h1v1h-1zM10 82h1v1h-1zM0 83h1v1h-1zM1 84h1v1h-1zM4 84h1v1h-1zM9 84h1v1h-1zM26 84h1v1h-1zM2 85h1v1h-1zM4 85h3v1h-3zM8 85h1v1h-1zM10 85h1v1h-1zM11 86h1v1h-1zM27 86h1v1h-1zM29 86h2v1h-2zM33 86h1v1h-1zM38 86h1v1h-1zM14 87h1v1h-1zM29 87h1v1h-1zM33 87h1v1h-1zM37 87h2v1h-2zM12 88h1v1h-1zM16 88h1v1h-1zM21 88h1v1h-1zM26 88h1v1h-1zM28 88h2v1h-2zM31 88h4v1h-4zM36 88h2v1h-2zM41 88h1v1h-1zM13 89h1v1h-1zM16 89h1v1h-1zM27 89h2v1h-2zM31 89h1v1h-1zM37 89h3v1h-3zM13 90h1v1h-1zM15 90h1v1h-1zM27 90h1v1h-1zM38 90h1v1h-1zM26 91h1v1h-1zM28 91h2v1h-2zM31 91h2v1h-2zM40 91h1v1h-1zM12 92h1v1h-1zM28 92h1v1h-1zM30 92h1v1h-1zM15 93h1v1h-1zM12 94h1v1h-1zM14 94h2v1h-2zM26 94h1v1h-1zM28 94h1v1h-1zM31 94h1v1h-1zM39 94h1v1h-1zM11 95h3v1h-3zM16 95h1v1h-1zM25 95h1v1h-1zM28 95h1v1h-1zM33 95h2v1h-2zM40 95h1v1h-1zM51 95h1v1h-1z"/>
<path fill="rgb(255, 246, 181)" d="M21 0h1v1h-1zM24 0h1v1h-1zM34 0h1v1h-1zM55 0h1v1h-1zM66 0h1v1h-1zM82 0h1v1h-1zM14 1h1v1h-1zM36 1h1v1h-1zM55 1h1v1h-1zM61 1h1v1h-1zM71 1h1v1h-1zM79 1h1v1h-1zM81 1h1v1h-1zM88 1h1v1h-1zM35 2h1v1h-1zM54 2h1v1h-1zM70 2h1v1h-1zM21 3h1v1h-1zM36 3h1v1h-1zM38 3h1v1h-1zM61 3h1v1h-1zM68 3h1v1h-1zM76 3h1v1h-1zM37 4h1v1h-1zM75 4h1v1h-1zM21 5h1v1h-1zM38 5h1v1h-1zM54 5h1v1h-1zM56 5h1v1h-1zM68 5h1v1h-1zM84 5h1v1h-1zM34 6h1v1h-1zM37 6h1v1h-1zM58 6h1v1h-1zM61 6h1v1h-1zM72 6h1v1h-1zM75 6h2v1h-2zM83 6h1v1h-1zM88 6h1v1h-1zM34 7h1v1h-1zM40 7h1v1h-1zM57 7h1v1h-1zM59 7h1v1h-1zM82 7h1v1h-1zM85 7h1v1h-1zM19 8h1v1h-1zM24 8h2v1h-2zM39 8h1v1h-1zM58 8h1v1h-1zM63 8h1v1h-1zM69 8h1v1h-1zM71 8h1v1h-1zM77 8h1v1h-1zM79 8h1v1h-1zM34 9h1v1h-1zM15 10h1v1h-1zM24 10h1v1h-1zM63 10h1v1h-1zM70 10h1v1h-1zM76 10h3v1h-3zM21 11h1v1h-1zM34 11h1v1h-1zM40 11h1v1h-1zM49 11h1v1h-1zM87 11h3v1h-3zM93 11h2v1h-2zM38 12h1v1h-1zM40 13h1v1h-1zM1 14h1v1h-1zM24 14h2v1h-2zM28 14h1v1h-1zM32 14h1v1h-1zM36 14h1v1h-1zM40 14h1v1h-1zM49 14h1v1h-1zM88 14h1v1h-1zM95 14h1v1h-1zM10 15h1v1h-1zM36 15h1v1h-1zM89 15h1v1h-1zM92 15h1v1h-1zM95 15h1v1h-1zM34 16h2v1h-2zM37 16h2v1h-2zM86 16h1v1h-1zM92 16h1v1h-1zM94 16h1v1h-1zM35 17h1v1h-1zM40 17h1v1h-1zM87 17h3v1h-3zM91 17h2v1h-2zM26 18h1v1h-1zM29 18h1v1h-1zM31 18h1v1h-1zM33 18h2v1h-2zM40 18h1v1h-1zM44 18h1v1h-1zM53 18h1v1h-1zM8 19h1v1h-1zM33 19h1v1h-1zM36 19h2v1h-2zM39 19h1v1h-1zM41 19h1v1h-1zM45 19h1v1h-1zM50 19h1v1h-1zM27 20h3v1h-3zM33 20h1v1h-1zM35 20h1v1h-1zM40 20h1v1h-1zM45 20h1v1h-1zM48 20h1v1h-1zM51 20h1v1h-1zM0 21h1v1h-1zM3 21h1v1h-1zM5 21h1v1h-1zM11 21h1v1h-1zM28 21h2v1h-2zM33 21h2v1h-2zM38 21h1v1h-1zM44 21h1v1h-1zM50 21h1v1h-1zM29 22h1v1h-1zM33 22h1v1h-1zM44 22h1v1h-1zM47 22h1v1h-1zM52 22h1v1h-1zM28 23h4v1h-4zM33 23h1v1h-1zM36 23h1v1h-1zM40 23h1v1h-1zM46 23h1v1h-1zM52 23h1v1h-1zM0 24h1v1h-1zM8 24h1v1h-1zM10 24h1v1h-1zM14 24h1v1h-1zM26 24h1v1h-1zM31 24h1v1h-1zM34 24h3v1h-3zM42 24h1v1h-1zM45 24h2v1h-2zM49 24h1v1h-1zM8 25h1v1h-1zM14 25h1v1h-1zM26 25h1v1h-1zM36 25h1v1h-1zM38 25h2v1h-2zM45 25h1v1h-1zM18 26h1v1h-1zM24 26h2v1h-2zM78 26h1v1h-1zM81 26h1v1h-1zM20 27h1v1h-1zM95 27h1v1h-1zM14 28h1v1h-1zM20 28h2v1h-2zM23 28h1v1h-1zM18 29h1v1h-1zM20 29h4v1h-4zM54 29h1v1h-1zM23 30h1v1h-1zM88 30h1v1h-1zM18 31h1v1h-1zM23 31h2v1h-2zM90 31h1v1h-1zM92 31h1v1h-1zM95 31h1v1h-1zM14 32h1v1h-1zM86 32h1v1h-1zM92 32h1v1h-1zM18 33h6v1h-6zM54 33h1v1h-1zM56 33h1v1h-1zM80 33h1v1h-1zM84 33h1v1h-1zM92 33h3v1h-3zM0 34h1v1h-1zM6 34h2v1h-2zM9 34h1v1h-1zM11 34h1v1h-1zM16 34h1v1h-1zM18 34h1v1h-1zM21 34h1v1h-1zM24 34h1v1h-1zM52 34h1v1h-1zM62 34h1v1h-1zM68 34h1v1h-1zM81 34h3v1h-3zM85 34h1v1h-1zM87 34h1v1h-1zM2 35h1v1h-1zM16 35h2v1h-2zM20 35h1v1h-1zM24 35h1v1h-1zM57 35h1v1h-1zM65 35h1v1h-1zM78 35h1v1h-1zM82 35h1v1h-1zM85 35h1v1h-1zM92 35h1v1h-1zM1 36h1v1h-1zM3 36h1v1h-1zM14 36h2v1h-2zM19 36h1v1h-1zM23 36h3v1h-3zM75 36h1v1h-1zM4 37h1v1h-1zM6 37h1v1h-1zM16 37h1v1h-1zM19 37h1v1h-1zM95 37h1v1h-1zM3 38h1v1h-1zM5 38h1v1h-1zM12 38h1v1h-1zM16 38h1v1h-1zM21 38h1v1h-1zM25 38h1v1h-1zM56 38h1v1h-1zM76 38h1v1h-1zM78 38h1v1h-1zM8 39h1v1h-1zM19 39h1v1h-1zM25 39h1v1h-1zM85 39h1v1h-1zM7 40h1v1h-1zM11 40h1v1h-1zM13 40h2v1h-2zM17 40h2v1h-2zM20 40h1v1h-1zM23 40h1v1h-1zM59 40h1v1h-1zM75 40h1v1h-1zM78 40h1v1h-1zM84 40h1v1h-1zM19 41h1v1h-1zM56 41h1v1h-1zM63 41h1v1h-1zM67 41h1v1h-1zM69 41h1v1h-1zM81 41h1v1h-1zM24 42h1v1h-1zM56 42h1v1h-1zM75 42h1v1h-1zM82 42h2v1h-2zM18 44h1v1h-1zM21 44h2v1h-2zM54 44h1v1h-1zM63 44h2v1h-2zM68 44h2v1h-2zM85 44h1v1h-1zM19 45h2v1h-2zM24 45h2v1h-2zM54 45h1v1h-1zM59 45h1v1h-1zM61 45h1v1h-1zM80 45h2v1h-2zM84 45h1v1h-1zM23 46h2v1h-2zM61 46h1v1h-1zM67 46h1v1h-1zM70 46h1v1h-1zM76 46h1v1h-1zM84 46h1v1h-1zM22 47h1v1h-1zM70 47h1v1h-1zM76 47h1v1h-1zM20 48h1v1h-1zM56 48h1v1h-1zM78 48h1v1h-1zM82 48h1v1h-1zM11 49h1v1h-1zM14 49h1v1h-1zM24 49h1v1h-1zM55 49h1v1h-1zM63 49h1v1h-1zM71 49h1v1h-1zM79 49h2v1h-2zM82 49h1v1h-1zM19 50h1v1h-1zM21 50h1v1h-1zM56 50h1v1h-1zM78 50h1v1h-1zM20 51h1v1h-1zM59 51h1v1h-1zM61 51h1v1h-1zM75 51h1v1h-1zM80 51h1v1h-1zM84 51h2v1h-2zM22 52h2v1h-2zM34 52h1v1h-1zM61 52h2v1h-2zM66 52h1v1h-1zM78 52h1v1h-1zM81 52h2v1h-2zM84 52h1v1h-1zM18 53h1v1h-1zM2 54h1v1h-1zM5 54h1v1h-1zM29 54h1v1h-1zM33 54h1v1h-1zM44 54h2v1h-2zM0 55h2v1h-2zM49 55h1v1h-1zM5 56h1v1h-1zM33 56h1v1h-1zM38 56h1v1h-1zM41 56h2v1h-2zM48 56h1v1h-1zM50 56h1v1h-1zM7 57h1v1h-1zM35 57h1v1h-1zM6 58h1v1h-1zM8 58h1v1h-1zM7 59h1v1h-1zM40 59h1v1h-1zM45 59h1v1h-1zM51 59h1v1h-1zM1 61h1v1h-1zM3 61h1v1h-1zM6 61h1v1h-1zM45 61h2v1h-2zM51 61h2v1h-2zM34 62h1v1h-1zM52 62h1v1h-1zM8 63h1v1h-1zM10 63h1v1h-1zM41 63h1v1h-1zM44 63h1v1h-1zM49 63h1v1h-1zM44 64h1v1h-1zM35 65h1v1h-1zM0 66h1v1h-1zM52 66h1v1h-1zM41 67h1v1h-1zM46 67h1v1h-1zM3 68h1v1h-1zM5 68h1v1h-1zM34 68h1v1h-1zM44 68h1v1h-1zM8 69h1v1h-1zM41 69h1v1h-1zM44 69h1v1h-1zM2 70h1v1h-1zM10 70h1v1h-1zM46 70h2v1h-2zM88 70h1v1h-1zM1 71h1v1h-1zM8 71h1v1h-1zM49 71h1v1h-1zM6 72h1v1h-1zM4 75h1v1h-1zM6 75h1v1h-1zM36 75h1v1h-1zM40 75h1v1h-1zM42 75h1v1h-1zM51 75h1v1h-1zM3 76h1v1h-1zM6 76h1v1h-1zM10 76h1v1h-1zM38 76h1v1h-1zM46 76h2v1h-2zM8 77h1v1h-1zM10 77h1v1h-1zM10 78h1v1h-1zM26 78h1v1h-1zM35 78h1v1h-1zM38 78h1v1h-1zM40 78h1v1h-1zM48 78h1v1h-1zM50 78h1v1h-1zM52 78h1v1h-1zM89 78h1v1h-1zM1 79h1v1h-1zM8 79h1v1h-1zM49 79h1v1h-1zM33 80h1v1h-1zM45 80h1v1h-1zM49 80h1v1h-1zM51 80h1v1h-1zM1 81h1v1h-1zM26 81h1v1h-1zM34 81h1v1h-1zM41 81h1v1h-1zM45 81h1v1h-1zM52 81h1v1h-1zM0 82h1v1h-1zM7 82h1v1h-1zM34 82h2v1h-2zM42 82h1v1h-1zM48 82h2v1h-2zM52 82h1v1h-1zM6 83h1v1h-1zM34 83h1v1h-1zM42 83h1v1h-1zM5 84h1v1h-1zM33 84h1v1h-1zM40 84h1v1h-1zM45 84h2v1h-2zM51 84h2v1h-2zM7 85h1v1h-1zM34 85h2v1h-2zM39 85h1v1h-1zM44 85h1v1h-1zM51 85h1v1h-1zM16 86h1v1h-1zM32 86h1v1h-1zM11 87h1v1h-1zM17 87h1v1h-1zM34 87h1v1h-1zM1 88h1v1h-1zM6 88h1v1h-1zM11 88h1v1h-1zM14 88h1v1h-1zM17 88h1v1h-1zM30 88h1v1h-1zM70 88h1v1h-1zM11 89h1v1h-1zM15 89h1v1h-1zM17 89h1v1h-1zM78 89h1v1h-1zM31 90h1v1h-1zM17 91h1v1h-1zM15 92h3v1h-3zM31 92h3v1h-3zM35 92h1v1h-1zM11 93h1v1h-1zM33 93h1v1h-1zM11 94h1v1h-1zM16 94h1v1h-1zM33 94h1v1h-1zM14 95h2v1h-2zM27 95h1v1h-1zM31 95h1v1h-1zM37 95h1v1h-1z"/>
<path fill="rgb(254, 235, 164)" d="M88 0h1v1h-1zM16 1h1v1h-1zM23 1h3v1h-3zM94 1h1v1h-1zM25 2h1v1h-1zM37 2h1v1h-1zM15 3h1v1h-1zM19 3h1v1h-1zM23 3h1v1h-1zM25 3h1v1h-1zM54 3h1v1h-1zM78 3h2v1h-2zM82 3h1v1h-1zM86 3h1v1h-1zM89 3h1v1h-1zM94 3h1v1h-1zM18 4h1v1h-1zM23 4h1v1h-1zM14 5h1v1h-1zM59 5h1v1h-1zM79 6h1v1h-1zM89 6h1v1h-1zM21 7h1v1h-1zM24 7h1v1h-1zM37 7h1v1h-1zM11 8h1v1h-1zM36 8h1v1h-1zM40 8h1v1h-1zM84 8h1v1h-1zM86 8h1v1h-1zM88 8h1v1h-1zM21 9h1v1h-1zM24 9h1v1h-1zM70 9h1v1h-1zM23 10h1v1h-1zM25 10h1v1h-1zM65 10h1v1h-1zM94 10h1v1h-1zM8 11h1v1h-1zM18 11h1v1h-1zM90 11h1v1h-1zM40 12h1v1h-1zM86 12h2v1h-2zM91 12h1v1h-1zM93 12h1v1h-1zM37 13h1v1h-1zM91 13h1v1h-1zM93 13h2v1h-2zM5 14h1v1h-1zM86 14h1v1h-1zM89 14h2v1h-2zM93 14h1v1h-1zM3 15h1v1h-1zM19 15h1v1h-1zM24 15h1v1h-1zM86 15h1v1h-1zM88 15h1v1h-1zM91 15h1v1h-1zM1 16h1v1h-1zM87 16h1v1h-1zM90 16h2v1h-2zM93 16h1v1h-1zM86 17h1v1h-1zM90 17h1v1h-1zM94 17h1v1h-1zM4 18h1v1h-1zM11 18h1v1h-1zM27 18h1v1h-1zM32 18h1v1h-1zM38 18h2v1h-2zM48 18h1v1h-1zM3 19h1v1h-1zM15 19h1v1h-1zM26 19h1v1h-1zM34 19h1v1h-1zM38 19h1v1h-1zM42 19h1v1h-1zM44 19h1v1h-1zM47 19h1v1h-1zM49 19h1v1h-1zM51 19h1v1h-1zM26 20h1v1h-1zM30 20h2v1h-2zM36 20h2v1h-2zM41 20h2v1h-2zM50 20h1v1h-1zM7 21h1v1h-1zM9 21h1v1h-1zM36 21h1v1h-1zM39 21h1v1h-1zM41 21h1v1h-1zM46 21h2v1h-2zM49 21h1v1h-1zM51 21h1v1h-1zM53 21h1v1h-1zM28 22h1v1h-1zM30 22h1v1h-1zM34 22h1v1h-1zM37 22h1v1h-1zM39 22h1v1h-1zM42 22h2v1h-2zM51 22h1v1h-1zM1 23h1v1h-1zM3 23h2v1h-2zM10 23h1v1h-1zM32 23h1v1h-1zM34 23h1v1h-1zM43 23h1v1h-1zM45 23h1v1h-1zM50 23h1v1h-1zM53 23h1v1h-1zM1 24h1v1h-1zM7 24h1v1h-1zM9 24h1v1h-1zM15 24h1v1h-1zM29 24h1v1h-1zM38 24h1v1h-1zM47 24h1v1h-1zM1 25h3v1h-3zM10 25h1v1h-1zM32 25h1v1h-1zM35 25h1v1h-1zM40 25h1v1h-1zM42 25h1v1h-1zM44 25h1v1h-1zM48 25h1v1h-1zM51 25h2v1h-2zM19 26h2v1h-2zM35 26h1v1h-1zM61 26h1v1h-1zM80 26h1v1h-1zM82 26h1v1h-1zM95 26h1v1h-1zM18 27h1v1h-1zM56 27h1v1h-1zM78 27h1v1h-1zM88 27h1v1h-1zM22 28h1v1h-1zM56 28h2v1h-2zM62 28h1v1h-1zM65 28h1v1h-1zM68 28h1v1h-1zM70 28h1v1h-1zM75 28h1v1h-1zM77 28h4v1h-4zM82 28h1v1h-1zM85 28h1v1h-1zM24 29h1v1h-1zM70 29h1v1h-1zM78 29h1v1h-1zM80 29h1v1h-1zM94 29h2v1h-2zM20 30h1v1h-1zM22 30h1v1h-1zM70 30h1v1h-1zM81 30h1v1h-1zM20 31h1v1h-1zM37 31h1v1h-1zM54 31h1v1h-1zM56 31h1v1h-1zM78 31h1v1h-1zM84 31h2v1h-2zM18 32h1v1h-1zM23 32h1v1h-1zM25 32h1v1h-1zM35 32h1v1h-1zM54 32h1v1h-1zM78 32h1v1h-1zM90 32h1v1h-1zM34 33h1v1h-1zM38 33h1v1h-1zM49 33h1v1h-1zM52 33h1v1h-1zM59 33h1v1h-1zM61 33h1v1h-1zM65 33h1v1h-1zM69 33h1v1h-1zM82 33h2v1h-2zM89 33h1v1h-1zM19 34h1v1h-1zM22 34h2v1h-2zM33 34h1v1h-1zM41 34h1v1h-1zM44 34h1v1h-1zM51 34h1v1h-1zM54 34h3v1h-3zM58 34h1v1h-1zM61 34h1v1h-1zM63 34h2v1h-2zM69 34h1v1h-1zM71 34h3v1h-3zM75 34h1v1h-1zM77 34h3v1h-3zM84 34h1v1h-1zM25 35h2v1h-2zM32 35h1v1h-1zM49 35h1v1h-1zM72 35h1v1h-1zM8 36h1v1h-1zM20 36h2v1h-2zM55 36h2v1h-2zM2 37h1v1h-1zM7 37h1v1h-1zM13 37h1v1h-1zM20 37h1v1h-1zM22 37h1v1h-1zM31 37h1v1h-1zM49 37h1v1h-1zM65 37h1v1h-1zM70 37h1v1h-1zM76 37h1v1h-1zM80 37h1v1h-1zM18 38h2v1h-2zM24 38h1v1h-1zM33 38h1v1h-1zM54 38h1v1h-1zM61 38h1v1h-1zM64 38h2v1h-2zM70 38h1v1h-1zM79 38h1v1h-1zM18 39h1v1h-1zM21 39h2v1h-2zM74 39h1v1h-1zM78 39h1v1h-1zM81 39h1v1h-1zM8 40h1v1h-1zM12 40h1v1h-1zM25 40h1v1h-1zM57 40h1v1h-1zM61 40h1v1h-1zM64 40h1v1h-1zM70 40h2v1h-2zM83 40h1v1h-1zM85 40h1v1h-1zM20 41h2v1h-2zM34 41h1v1h-1zM54 41h1v1h-1zM59 41h3v1h-3zM64 41h1v1h-1zM68 41h1v1h-1zM70 41h1v1h-1zM72 41h1v1h-1zM75 41h1v1h-1zM77 41h1v1h-1zM83 41h2v1h-2zM19 42h2v1h-2zM22 42h1v1h-1zM25 42h1v1h-1zM54 42h1v1h-1zM59 42h1v1h-1zM68 42h2v1h-2zM77 42h1v1h-1zM22 43h2v1h-2zM54 43h1v1h-1zM56 43h2v1h-2zM63 43h1v1h-1zM70 43h1v1h-1zM75 43h2v1h-2zM85 43h1v1h-1zM19 44h1v1h-1zM25 44h1v1h-1zM34 44h1v1h-1zM55 44h1v1h-1zM57 44h1v1h-1zM65 44h1v1h-1zM67 44h1v1h-1zM70 44h3v1h-3zM75 44h4v1h-4zM81 44h1v1h-1zM83 44h1v1h-1zM23 45h1v1h-1zM55 45h1v1h-1zM58 45h1v1h-1zM62 45h1v1h-1zM64 45h2v1h-2zM68 45h1v1h-1zM77 45h3v1h-3zM21 46h1v1h-1zM58 46h2v1h-2zM69 46h1v1h-1zM80 46h3v1h-3zM19 47h1v1h-1zM21 47h1v1h-1zM24 47h1v1h-1zM64 47h1v1h-1zM78 47h1v1h-1zM18 48h1v1h-1zM25 48h1v1h-1zM59 48h1v1h-1zM71 48h1v1h-1zM76 48h2v1h-2zM84 48h1v1h-1zM19 49h1v1h-1zM21 49h1v1h-1zM33 49h1v1h-1zM35 49h1v1h-1zM37 49h1v1h-1zM60 49h3v1h-3zM65 49h1v1h-1zM69 49h1v1h-1zM73 49h3v1h-3zM77 49h1v1h-1zM81 49h1v1h-1zM84 49h2v1h-2zM20 50h1v1h-1zM23 50h1v1h-1zM75 50h1v1h-1zM82 50h1v1h-1zM84 50h2v1h-2zM19 51h1v1h-1zM21 51h2v1h-2zM25 51h1v1h-1zM34 51h1v1h-1zM55 51h1v1h-1zM62 51h2v1h-2zM65 51h1v1h-1zM72 51h3v1h-3zM77 51h2v1h-2zM25 52h1v1h-1zM33 52h1v1h-1zM58 52h2v1h-2zM65 52h1v1h-1zM71 52h1v1h-1zM75 52h1v1h-1zM80 52h1v1h-1zM83 52h1v1h-1zM21 53h1v1h-1zM23 53h1v1h-1zM55 53h1v1h-1zM63 53h1v1h-1zM75 53h1v1h-1zM77 53h1v1h-1zM84 53h2v1h-2zM3 54h1v1h-1zM31 54h2v1h-2zM34 54h1v1h-1zM38 54h1v1h-1zM41 54h3v1h-3zM34 55h1v1h-1zM36 55h1v1h-1zM44 55h2v1h-2zM51 55h1v1h-1zM53 55h1v1h-1zM86 55h1v1h-1zM27 56h2v1h-2zM31 56h1v1h-1zM34 56h1v1h-1zM36 56h1v1h-1zM43 56h1v1h-1zM89 56h1v1h-1zM28 57h1v1h-1zM40 57h1v1h-1zM43 57h2v1h-2zM34 58h1v1h-1zM45 58h2v1h-2zM52 58h1v1h-1zM88 58h1v1h-1zM5 59h1v1h-1zM33 59h1v1h-1zM41 59h2v1h-2zM46 59h1v1h-1zM48 59h1v1h-1zM52 59h1v1h-1zM94 59h1v1h-1zM41 60h1v1h-1zM49 60h1v1h-1zM26 61h1v1h-1zM33 61h2v1h-2zM38 61h1v1h-1zM40 61h2v1h-2zM49 61h1v1h-1zM28 62h1v1h-1zM45 62h1v1h-1zM49 62h1v1h-1zM51 62h1v1h-1zM34 63h1v1h-1zM43 63h1v1h-1zM51 63h1v1h-1zM53 63h1v1h-1zM34 64h1v1h-1zM38 64h1v1h-1zM40 64h2v1h-2zM45 64h1v1h-1zM47 64h1v1h-1zM10 65h1v1h-1zM28 65h1v1h-1zM33 65h1v1h-1zM37 65h2v1h-2zM44 65h2v1h-2zM49 65h1v1h-1zM51 65h2v1h-2zM44 67h1v1h-1zM88 67h1v1h-1zM28 68h1v1h-1zM41 68h2v1h-2zM45 68h1v1h-1zM33 69h2v1h-2zM42 69h1v1h-1zM46 69h1v1h-1zM49 69h1v1h-1zM9 70h1v1h-1zM28 70h3v1h-3zM37 70h2v1h-2zM40 70h2v1h-2zM43 70h2v1h-2zM94 70h2v1h-2zM34 71h1v1h-1zM40 71h1v1h-1zM44 71h1v1h-1zM48 71h1v1h-1zM52 71h1v1h-1zM34 72h2v1h-2zM41 72h1v1h-1zM44 72h1v1h-1zM51 72h1v1h-1zM34 73h1v1h-1zM49 73h1v1h-1zM51 73h1v1h-1zM39 74h1v1h-1zM49 74h1v1h-1zM51 74h1v1h-1zM28 75h1v1h-1zM34 75h1v1h-1zM41 75h1v1h-1zM43 75h2v1h-2zM49 75h2v1h-2zM52 75h2v1h-2zM37 76h1v1h-1zM43 76h2v1h-2zM48 76h1v1h-1zM28 77h1v1h-1zM34 77h1v1h-1zM41 77h2v1h-2zM44 77h2v1h-2zM48 77h2v1h-2zM51 77h1v1h-1zM53 77h1v1h-1zM3 78h1v1h-1zM27 78h3v1h-3zM31 78h2v1h-2zM34 78h1v1h-1zM39 78h1v1h-1zM44 78h2v1h-2zM47 78h1v1h-1zM51 78h1v1h-1zM86 78h1v1h-1zM3 79h1v1h-1zM6 79h1v1h-1zM28 79h1v1h-1zM34 79h1v1h-1zM38 79h1v1h-1zM45 79h1v1h-1zM88 79h1v1h-1zM26 80h1v1h-1zM28 80h2v1h-2zM37 80h1v1h-1zM46 80h1v1h-1zM52 80h1v1h-1zM88 80h1v1h-1zM90 80h1v1h-1zM30 81h1v1h-1zM39 81h1v1h-1zM44 81h1v1h-1zM46 81h1v1h-1zM49 81h1v1h-1zM3 82h1v1h-1zM26 82h1v1h-1zM28 82h1v1h-1zM33 82h1v1h-1zM46 82h1v1h-1zM50 82h1v1h-1zM33 83h1v1h-1zM40 83h2v1h-2zM44 83h1v1h-1zM52 83h1v1h-1zM8 84h1v1h-1zM31 84h1v1h-1zM34 84h1v1h-1zM41 84h1v1h-1zM48 84h3v1h-3zM53 84h1v1h-1zM87 84h2v1h-2zM95 84h1v1h-1zM28 85h1v1h-1zM31 85h1v1h-1zM40 85h1v1h-1zM43 85h1v1h-1zM49 85h2v1h-2zM53 85h1v1h-1zM94 85h1v1h-1zM3 86h1v1h-1zM8 86h1v1h-1zM12 86h1v1h-1zM14 86h2v1h-2zM17 86h1v1h-1zM55 86h1v1h-1zM78 86h1v1h-1zM12 87h1v1h-1zM16 87h1v1h-1zM84 87h1v1h-1zM0 88h1v1h-1zM8 88h1v1h-1zM15 88h1v1h-1zM27 88h1v1h-1zM58 88h1v1h-1zM67 88h1v1h-1zM79 88h2v1h-2zM84 88h1v1h-1zM3 89h1v1h-1zM6 89h1v1h-1zM14 89h1v1h-1zM33 89h1v1h-1zM56 89h1v1h-1zM11 90h1v1h-1zM14 90h1v1h-1zM16 90h2v1h-2zM32 90h1v1h-1zM80 90h1v1h-1zM12 91h2v1h-2zM15 91h2v1h-2zM12 93h3v1h-3zM16 93h1v1h-1zM1 94h1v1h-1zM3 94h1v1h-1zM10 94h1v1h-1zM13 94h1v1h-1zM17 94h1v1h-1zM29 94h1v1h-1zM59 94h1v1h-1zM70 94h1v1h-1zM85 94h1v1h-1zM26 95h1v1h-1zM29 95h1v1h-1zM70 95h1v1h-1zM84 95h1v1h-1z"/>
<path fill="rgb(254, 225, 147)" d="M15 0h1v1h-1zM18 0h2v1h-2zM25 0h1v1h-1zM19 1h1v1h-1zM34 1h1v1h-1zM21 2h1v1h-1zM88 2h1v1h-1zM17 3h1v1h-1zM24 3h1v1h-1zM88 3h1v1h-1zM95 3h1v1h-1zM19 4h1v1h-1zM25 4h1v1h-1zM86 4h1v1h-1zM11 5h1v1h-1zM23 5h1v1h-1zM25 5h1v1h-1zM12 6h1v1h-1zM14 6h2v1h-2zM24 6h2v1h-2zM86 6h1v1h-1zM90 6h1v1h-1zM95 6h1v1h-1zM19 7h1v1h-1zM23 7h1v1h-1zM25 7h1v1h-1zM14 8h3v1h-3zM20 8h1v1h-1zM22 8h2v1h-2zM89 8h1v1h-1zM94 8h1v1h-1zM11 9h1v1h-1zM14 9h2v1h-2zM25 9h1v1h-1zM11 10h1v1h-1zM14 10h1v1h-1zM5 11h1v1h-1zM9 11h2v1h-2zM23 11h3v1h-3zM91 11h1v1h-1zM6 12h1v1h-1zM23 12h1v1h-1zM89 12h2v1h-2zM6 14h1v1h-1zM8 14h3v1h-3zM18 14h1v1h-1zM21 14h1v1h-1zM91 14h2v1h-2zM0 15h1v1h-1zM6 15h1v1h-1zM8 15h2v1h-2zM25 15h1v1h-1zM87 15h1v1h-1zM8 16h1v1h-1zM25 16h1v1h-1zM3 17h1v1h-1zM93 17h1v1h-1zM95 17h1v1h-1zM0 18h1v1h-1zM14 18h1v1h-1zM35 18h1v1h-1zM37 18h1v1h-1zM41 18h1v1h-1zM50 18h1v1h-1zM0 19h2v1h-2zM4 19h1v1h-1zM7 19h1v1h-1zM32 19h1v1h-1zM46 19h1v1h-1zM52 19h1v1h-1zM8 20h1v1h-1zM34 20h1v1h-1zM38 20h2v1h-2zM43 20h2v1h-2zM46 20h1v1h-1zM53 20h1v1h-1zM2 21h1v1h-1zM14 21h1v1h-1zM30 21h1v1h-1zM37 21h1v1h-1zM48 21h1v1h-1zM8 22h1v1h-1zM26 22h2v1h-2zM36 22h1v1h-1zM41 22h1v1h-1zM45 22h1v1h-1zM48 22h2v1h-2zM53 22h1v1h-1zM5 23h1v1h-1zM7 23h2v1h-2zM11 23h2v1h-2zM26 23h2v1h-2zM38 23h1v1h-1zM41 23h1v1h-1zM44 23h1v1h-1zM3 24h1v1h-1zM6 24h1v1h-1zM11 24h1v1h-1zM28 24h1v1h-1zM30 24h1v1h-1zM43 24h1v1h-1zM53 24h1v1h-1zM0 25h1v1h-1zM4 25h4v1h-4zM9 25h1v1h-1zM11 25h1v1h-1zM15 25h2v1h-2zM37 25h1v1h-1zM43 25h1v1h-1zM47 25h1v1h-1zM22 26h2v1h-2zM39 26h1v1h-1zM51 26h1v1h-1zM65 26h1v1h-1zM68 26h1v1h-1zM70 26h1v1h-1zM79 26h1v1h-1zM85 26h1v1h-1zM22 27h2v1h-2zM82 27h1v1h-1zM24 28h1v1h-1zM35 28h2v1h-2zM38 28h1v1h-1zM41 28h1v1h-1zM49 28h1v1h-1zM51 28h2v1h-2zM54 28h1v1h-1zM61 28h1v1h-1zM76 28h1v1h-1zM84 28h1v1h-1zM35 29h1v1h-1zM44 29h1v1h-1zM51 29h1v1h-1zM56 29h1v1h-1zM82 29h1v1h-1zM84 29h2v1h-2zM21 30h1v1h-1zM24 30h1v1h-1zM51 30h1v1h-1zM54 30h1v1h-1zM85 30h1v1h-1zM41 31h1v1h-1zM45 31h1v1h-1zM49 31h1v1h-1zM51 31h1v1h-1zM59 31h1v1h-1zM61 31h1v1h-1zM79 31h1v1h-1zM82 31h1v1h-1zM19 32h1v1h-1zM44 32h1v1h-1zM72 32h1v1h-1zM80 32h2v1h-2zM84 32h1v1h-1zM40 33h1v1h-1zM42 33h1v1h-1zM44 33h1v1h-1zM47 33h1v1h-1zM55 33h1v1h-1zM57 33h1v1h-1zM60 33h1v1h-1zM64 33h1v1h-1zM66 33h1v1h-1zM70 33h2v1h-2zM75 33h4v1h-4zM81 33h1v1h-1zM85 33h1v1h-1zM1 34h1v1h-1zM20 34h1v1h-1zM42 34h1v1h-1zM46 34h1v1h-1zM49 34h1v1h-1zM59 34h1v1h-1zM65 34h1v1h-1zM67 34h1v1h-1zM70 34h1v1h-1zM80 34h1v1h-1zM18 35h1v1h-1zM28 35h2v1h-2zM45 35h2v1h-2zM54 35h1v1h-1zM58 35h4v1h-4zM68 35h1v1h-1zM74 35h1v1h-1zM76 35h1v1h-1zM79 35h1v1h-1zM81 35h1v1h-1zM84 35h1v1h-1zM22 36h1v1h-1zM28 36h1v1h-1zM54 36h1v1h-1zM70 36h1v1h-1zM72 36h1v1h-1zM76 36h1v1h-1zM78 36h1v1h-1zM80 36h1v1h-1zM82 36h1v1h-1zM84 36h1v1h-1zM18 37h1v1h-1zM21 37h1v1h-1zM25 37h1v1h-1zM54 37h1v1h-1zM56 37h1v1h-1zM71 37h1v1h-1zM75 37h1v1h-1zM77 37h1v1h-1zM81 37h2v1h-2zM84 37h2v1h-2zM20 38h1v1h-1zM23 38h1v1h-1zM28 38h1v1h-1zM49 38h1v1h-1zM52 38h1v1h-1zM59 38h1v1h-1zM62 38h2v1h-2zM66 38h1v1h-1zM68 38h1v1h-1zM71 38h1v1h-1zM80 38h1v1h-1zM84 38h2v1h-2zM20 39h1v1h-1zM26 39h1v1h-1zM54 39h1v1h-1zM57 39h1v1h-1zM59 39h1v1h-1zM61 39h1v1h-1zM82 39h1v1h-1zM84 39h1v1h-1zM33 40h1v1h-1zM54 40h1v1h-1zM60 40h1v1h-1zM66 40h1v1h-1zM80 40h1v1h-1zM18 41h1v1h-1zM22 41h2v1h-2zM28 41h1v1h-1zM31 41h1v1h-1zM55 41h1v1h-1zM58 41h1v1h-1zM62 41h1v1h-1zM65 41h2v1h-2zM74 41h1v1h-1zM80 41h1v1h-1zM33 42h2v1h-2zM63 42h1v1h-1zM65 42h1v1h-1zM71 42h2v1h-2zM74 42h1v1h-1zM78 42h3v1h-3zM85 42h1v1h-1zM20 43h1v1h-1zM24 43h2v1h-2zM55 43h1v1h-1zM59 43h1v1h-1zM61 43h2v1h-2zM65 43h1v1h-1zM68 43h2v1h-2zM72 43h1v1h-1zM78 43h1v1h-1zM82 43h1v1h-1zM84 43h1v1h-1zM20 44h1v1h-1zM23 44h1v1h-1zM29 44h1v1h-1zM32 44h2v1h-2zM56 44h1v1h-1zM58 44h2v1h-2zM73 44h2v1h-2zM82 44h1v1h-1zM84 44h1v1h-1zM22 45h1v1h-1zM31 45h1v1h-1zM35 45h1v1h-1zM56 45h1v1h-1zM60 45h1v1h-1zM69 45h2v1h-2zM76 45h1v1h-1zM82 45h2v1h-2zM19 46h2v1h-2zM34 46h2v1h-2zM55 46h2v1h-2zM60 46h1v1h-1zM62 46h3v1h-3zM66 46h1v1h-1zM68 46h1v1h-1zM71 46h3v1h-3zM75 46h1v1h-1zM77 46h1v1h-1zM25 47h1v1h-1zM33 47h1v1h-1zM54 47h2v1h-2zM58 47h2v1h-2zM61 47h1v1h-1zM69 47h1v1h-1zM77 47h1v1h-1zM79 47h4v1h-4zM85 47h1v1h-1zM21 48h2v1h-2zM54 48h2v1h-2zM61 48h2v1h-2zM65 48h1v1h-1zM68 48h2v1h-2zM81 48h1v1h-1zM85 48h1v1h-1zM22 49h1v1h-1zM28 49h1v1h-1zM31 49h1v1h-1zM34 49h1v1h-1zM38 49h1v1h-1zM56 49h1v1h-1zM59 49h1v1h-1zM64 49h1v1h-1zM66 49h3v1h-3zM76 49h1v1h-1zM83 49h1v1h-1zM18 50h1v1h-1zM58 50h1v1h-1zM64 50h3v1h-3zM68 50h1v1h-1zM70 50h1v1h-1zM79 50h2v1h-2zM26 51h1v1h-1zM28 51h4v1h-4zM56 51h1v1h-1zM58 51h1v1h-1zM64 51h1v1h-1zM66 51h1v1h-1zM82 51h1v1h-1zM19 52h1v1h-1zM28 52h1v1h-1zM38 52h1v1h-1zM54 52h2v1h-2zM64 52h1v1h-1zM67 52h3v1h-3zM72 52h1v1h-1zM74 52h1v1h-1zM77 52h1v1h-1zM79 52h1v1h-1zM20 53h1v1h-1zM22 53h1v1h-1zM24 53h1v1h-1zM54 53h1v1h-1zM56 53h1v1h-1zM58 53h1v1h-1zM60 53h1v1h-1zM65 53h1v1h-1zM67 53h3v1h-3zM72 53h1v1h-1zM76 53h1v1h-1zM79 53h1v1h-1zM82 53h1v1h-1zM28 54h1v1h-1zM30 54h1v1h-1zM35 54h3v1h-3zM39 54h2v1h-2zM47 54h2v1h-2zM52 54h2v1h-2zM88 54h1v1h-1zM94 54h1v1h-1zM33 55h1v1h-1zM41 55h1v1h-1zM43 55h1v1h-1zM46 55h3v1h-3zM52 55h1v1h-1zM29 56h1v1h-1zM37 56h1v1h-1zM44 56h3v1h-3zM49 56h1v1h-1zM51 56h1v1h-1zM53 56h1v1h-1zM86 56h1v1h-1zM95 56h1v1h-1zM33 57h1v1h-1zM39 57h1v1h-1zM35 58h1v1h-1zM41 58h1v1h-1zM44 58h1v1h-1zM47 58h1v1h-1zM50 58h2v1h-2zM53 58h1v1h-1zM31 59h1v1h-1zM34 59h2v1h-2zM38 59h2v1h-2zM43 59h2v1h-2zM47 59h1v1h-1zM49 59h1v1h-1zM89 59h1v1h-1zM33 60h1v1h-1zM35 60h1v1h-1zM40 60h1v1h-1zM45 60h2v1h-2zM53 60h1v1h-1zM28 61h1v1h-1zM31 61h1v1h-1zM35 61h1v1h-1zM39 61h1v1h-1zM43 61h1v1h-1zM47 61h2v1h-2zM86 61h1v1h-1zM88 61h1v1h-1zM94 61h1v1h-1zM38 62h1v1h-1zM41 62h1v1h-1zM43 62h1v1h-1zM46 62h1v1h-1zM48 62h1v1h-1zM38 63h1v1h-1zM42 63h1v1h-1zM46 63h1v1h-1zM88 63h1v1h-1zM33 64h1v1h-1zM46 64h1v1h-1zM49 64h4v1h-4zM89 64h1v1h-1zM26 65h1v1h-1zM34 65h1v1h-1zM41 65h3v1h-3zM48 65h1v1h-1zM50 65h1v1h-1zM53 65h1v1h-1zM89 65h1v1h-1zM94 65h1v1h-1zM33 66h1v1h-1zM38 66h1v1h-1zM40 66h2v1h-2zM46 66h1v1h-1zM49 66h3v1h-3zM34 67h1v1h-1zM49 67h1v1h-1zM52 67h2v1h-2zM26 68h1v1h-1zM35 68h1v1h-1zM38 68h1v1h-1zM43 68h1v1h-1zM46 68h1v1h-1zM48 68h3v1h-3zM52 68h2v1h-2zM88 68h1v1h-1zM43 69h1v1h-1zM45 69h1v1h-1zM47 69h2v1h-2zM52 69h2v1h-2zM26 70h1v1h-1zM33 70h2v1h-2zM36 70h1v1h-1zM45 70h1v1h-1zM50 70h1v1h-1zM89 70h2v1h-2zM92 70h1v1h-1zM33 71h1v1h-1zM37 71h2v1h-2zM42 71h1v1h-1zM46 71h1v1h-1zM94 71h1v1h-1zM32 72h1v1h-1zM36 72h1v1h-1zM42 72h2v1h-2zM46 72h1v1h-1zM52 72h2v1h-2zM44 73h1v1h-1zM46 73h1v1h-1zM35 74h1v1h-1zM41 74h2v1h-2zM44 74h1v1h-1zM52 74h1v1h-1zM33 75h1v1h-1zM37 75h1v1h-1zM46 75h1v1h-1zM86 75h1v1h-1zM28 76h1v1h-1zM33 76h1v1h-1zM35 76h2v1h-2zM45 76h1v1h-1zM49 76h1v1h-1zM53 76h1v1h-1zM88 76h2v1h-2zM94 76h1v1h-1zM33 77h1v1h-1zM37 77h1v1h-1zM46 77h2v1h-2zM52 77h1v1h-1zM89 77h1v1h-1zM33 78h1v1h-1zM36 78h1v1h-1zM42 78h2v1h-2zM88 78h1v1h-1zM90 78h2v1h-2zM93 78h3v1h-3zM26 79h1v1h-1zM31 79h1v1h-1zM35 79h1v1h-1zM42 79h1v1h-1zM47 79h1v1h-1zM50 79h1v1h-1zM52 79h2v1h-2zM32 80h1v1h-1zM34 80h1v1h-1zM36 80h1v1h-1zM38 80h1v1h-1zM40 80h3v1h-3zM47 80h1v1h-1zM50 80h1v1h-1zM86 80h2v1h-2zM89 80h1v1h-1zM94 80h1v1h-1zM32 81h2v1h-2zM35 81h1v1h-1zM37 81h1v1h-1zM47 81h2v1h-2zM95 81h1v1h-1zM27 82h1v1h-1zM29 82h1v1h-1zM31 82h1v1h-1zM36 82h2v1h-2zM39 82h1v1h-1zM43 82h3v1h-3zM47 82h1v1h-1zM51 82h1v1h-1zM53 82h1v1h-1zM88 82h2v1h-2zM94 82h1v1h-1zM45 83h1v1h-1zM49 83h1v1h-1zM28 84h2v1h-2zM32 84h1v1h-1zM35 84h5v1h-5zM43 84h2v1h-2zM90 84h1v1h-1zM26 85h1v1h-1zM29 85h2v1h-2zM33 85h1v1h-1zM37 85h2v1h-2zM42 85h1v1h-1zM47 85h2v1h-2zM88 85h1v1h-1zM4 86h1v1h-1zM6 86h1v1h-1zM56 86h1v1h-1zM61 86h1v1h-1zM75 86h1v1h-1zM80 86h1v1h-1zM15 87h1v1h-1zM80 87h1v1h-1zM2 88h2v1h-2zM54 88h1v1h-1zM61 88h1v1h-1zM63 88h1v1h-1zM68 88h1v1h-1zM76 88h1v1h-1zM78 88h1v1h-1zM82 88h1v1h-1zM85 88h1v1h-1zM8 89h1v1h-1zM12 89h1v1h-1zM59 89h1v1h-1zM64 89h2v1h-2zM70 89h1v1h-1zM76 89h2v1h-2zM80 89h1v1h-1zM82 89h1v1h-1zM6 90h1v1h-1zM12 90h1v1h-1zM70 90h1v1h-1zM78 90h1v1h-1zM84 90h1v1h-1zM11 91h1v1h-1zM14 91h1v1h-1zM78 91h1v1h-1zM14 92h1v1h-1zM70 92h1v1h-1zM17 93h1v1h-1zM78 93h1v1h-1zM8 94h1v1h-1zM54 94h1v1h-1zM61 94h1v1h-1zM65 94h1v1h-1zM71 94h1v1h-1zM76 94h1v1h-1zM78 94h1v1h-1zM80 94h1v1h-1zM82 94h1v1h-1zM3 95h1v1h-1zM6 95h1v1h-1zM17 95h1v1h-1zM56 95h1v1h-1zM78 95h1v1h-1zM81 95h1v1h-1z"/>
<path fill="rgb(253, 214, 130)" d="M11 0h1v1h-1zM13 0h1v1h-1zM23 0h1v1h-1zM95 0h1v1h-1zM22 1h1v1h-1zM11 2h1v1h-1zM14 2h2v1h-2zM23 2h2v1h-2zM11 3h1v1h-1zM16 3h1v1h-1zM18 3h1v1h-1zM90 3h1v1h-1zM21 4h1v1h-1zM24 4h1v1h-1zM88 4h1v1h-1zM88 5h2v1h-2zM94 5h1v1h-1zM16 6h4v1h-4zM92 6h1v1h-1zM14 7h1v1h-1zM18 8h1v1h-1zM21 8h1v1h-1zM91 8h2v1h-2zM95 8h1v1h-1zM23 9h1v1h-1zM88 9h1v1h-1zM12 10h1v1h-1zM16 10h1v1h-1zM18 10h3v1h-3zM86 10h5v1h-5zM95 10h1v1h-1zM0 11h1v1h-1zM2 11h2v1h-2zM22 11h1v1h-1zM10 12h1v1h-1zM21 12h1v1h-1zM24 12h2v1h-2zM0 13h1v1h-1zM25 13h1v1h-1zM86 13h1v1h-1zM2 14h1v1h-1zM7 14h1v1h-1zM19 14h1v1h-1zM23 14h1v1h-1zM2 15h1v1h-1zM21 15h2v1h-2zM3 16h1v1h-1zM6 16h1v1h-1zM10 16h1v1h-1zM23 16h2v1h-2zM6 17h1v1h-1zM25 17h1v1h-1zM3 18h1v1h-1zM6 18h1v1h-1zM8 18h1v1h-1zM10 18h1v1h-1zM36 18h1v1h-1zM42 18h1v1h-1zM46 18h1v1h-1zM6 19h1v1h-1zM10 19h1v1h-1zM14 19h1v1h-1zM10 20h1v1h-1zM47 20h1v1h-1zM52 20h1v1h-1zM4 21h1v1h-1zM8 21h1v1h-1zM12 21h1v1h-1zM15 21h1v1h-1zM40 21h1v1h-1zM1 22h1v1h-1zM11 22h1v1h-1zM15 22h1v1h-1zM35 22h1v1h-1zM40 22h1v1h-1zM46 22h1v1h-1zM0 23h1v1h-1zM2 23h1v1h-1zM9 23h1v1h-1zM14 23h1v1h-1zM16 23h1v1h-1zM39 23h1v1h-1zM2 24h1v1h-1zM4 24h1v1h-1zM12 24h1v1h-1zM16 24h1v1h-1zM52 24h1v1h-1zM12 25h2v1h-2zM17 25h1v1h-1zM38 26h1v1h-1zM40 26h2v1h-2zM49 26h1v1h-1zM52 26h1v1h-1zM54 26h1v1h-1zM56 26h2v1h-2zM64 26h1v1h-1zM66 26h1v1h-1zM71 26h1v1h-1zM75 26h1v1h-1zM77 26h1v1h-1zM51 27h2v1h-2zM61 27h1v1h-1zM40 28h1v1h-1zM42 28h1v1h-1zM44 28h1v1h-1zM59 28h1v1h-1zM63 28h2v1h-2zM66 28h1v1h-1zM71 28h2v1h-2zM74 28h1v1h-1zM81 28h1v1h-1zM83 28h1v1h-1zM34 29h1v1h-1zM38 29h2v1h-2zM41 29h1v1h-1zM59 29h1v1h-1zM63 29h1v1h-1zM75 29h1v1h-1zM34 30h1v1h-1zM56 30h1v1h-1zM80 30h1v1h-1zM82 30h1v1h-1zM84 30h1v1h-1zM34 31h1v1h-1zM38 31h1v1h-1zM40 31h1v1h-1zM42 31h1v1h-1zM44 31h1v1h-1zM52 31h1v1h-1zM55 31h1v1h-1zM71 31h1v1h-1zM77 31h1v1h-1zM81 31h1v1h-1zM34 32h1v1h-1zM38 32h1v1h-1zM41 32h1v1h-1zM46 32h1v1h-1zM51 32h2v1h-2zM55 32h2v1h-2zM61 32h1v1h-1zM65 32h1v1h-1zM68 32h1v1h-1zM70 32h1v1h-1zM75 32h2v1h-2zM82 32h2v1h-2zM85 32h1v1h-1zM35 33h3v1h-3zM39 33h1v1h-1zM41 33h1v1h-1zM43 33h1v1h-1zM45 33h1v1h-1zM48 33h1v1h-1zM51 33h1v1h-1zM63 33h1v1h-1zM74 33h1v1h-1zM79 33h1v1h-1zM29 34h4v1h-4zM43 34h1v1h-1zM47 34h2v1h-2zM57 34h1v1h-1zM60 34h1v1h-1zM74 34h1v1h-1zM22 35h1v1h-1zM33 35h1v1h-1zM41 35h1v1h-1zM47 35h1v1h-1zM55 35h2v1h-2zM63 35h1v1h-1zM69 35h2v1h-2zM77 35h1v1h-1zM80 35h1v1h-1zM83 35h1v1h-1zM18 36h1v1h-1zM33 36h1v1h-1zM44 36h1v1h-1zM57 36h1v1h-1zM60 36h1v1h-1zM68 36h1v1h-1zM81 36h1v1h-1zM85 36h1v1h-1zM33 37h1v1h-1zM44 37h1v1h-1zM59 37h1v1h-1zM61 37h1v1h-1zM63 37h1v1h-1zM68 37h2v1h-2zM72 37h1v1h-1zM74 37h1v1h-1zM78 37h1v1h-1zM83 37h1v1h-1zM26 38h1v1h-1zM29 38h1v1h-1zM31 38h2v1h-2zM41 38h1v1h-1zM43 38h3v1h-3zM51 38h1v1h-1zM57 38h2v1h-2zM69 38h1v1h-1zM72 38h1v1h-1zM77 38h1v1h-1zM81 38h3v1h-3zM23 39h1v1h-1zM29 39h1v1h-1zM33 39h1v1h-1zM41 39h1v1h-1zM44 39h1v1h-1zM51 39h2v1h-2zM55 39h2v1h-2zM63 39h1v1h-1zM65 39h1v1h-1zM68 39h2v1h-2zM72 39h1v1h-1zM75 39h1v1h-1zM79 39h1v1h-1zM21 40h2v1h-2zM26 40h1v1h-1zM28 40h1v1h-1zM31 40h1v1h-1zM46 40h1v1h-1zM51 40h1v1h-1zM55 40h2v1h-2zM58 40h1v1h-1zM62 40h1v1h-1zM65 40h1v1h-1zM67 40h1v1h-1zM72 40h3v1h-3zM76 40h2v1h-2zM79 40h1v1h-1zM81 40h2v1h-2zM26 41h1v1h-1zM29 41h1v1h-1zM32 41h2v1h-2zM35 41h1v1h-1zM38 41h2v1h-2zM57 41h1v1h-1zM71 41h1v1h-1zM73 41h1v1h-1zM79 41h1v1h-1zM82 41h1v1h-1zM18 42h1v1h-1zM28 42h1v1h-1zM31 42h1v1h-1zM55 42h1v1h-1zM57 42h1v1h-1zM62 42h1v1h-1zM64 42h1v1h-1zM66 42h1v1h-1zM81 42h1v1h-1zM84 42h1v1h-1zM33 43h2v1h-2zM38 43h1v1h-1zM58 43h1v1h-1zM67 43h1v1h-1zM71 43h1v1h-1zM73 43h1v1h-1zM79 43h1v1h-1zM83 43h1v1h-1zM28 44h1v1h-1zM31 44h1v1h-1zM36 44h4v1h-4zM62 44h1v1h-1zM66 44h1v1h-1zM33 45h1v1h-1zM38 45h1v1h-1zM57 45h1v1h-1zM63 45h1v1h-1zM66 45h2v1h-2zM71 45h2v1h-2zM75 45h1v1h-1zM85 45h1v1h-1zM18 46h1v1h-1zM22 46h1v1h-1zM32 46h1v1h-1zM40 46h1v1h-1zM54 46h1v1h-1zM74 46h1v1h-1zM79 46h1v1h-1zM83 46h1v1h-1zM85 46h1v1h-1zM20 47h1v1h-1zM34 47h2v1h-2zM60 47h1v1h-1zM63 47h1v1h-1zM65 47h2v1h-2zM68 47h1v1h-1zM71 47h2v1h-2zM75 47h1v1h-1zM83 47h2v1h-2zM33 48h2v1h-2zM57 48h2v1h-2zM63 48h2v1h-2zM66 48h2v1h-2zM72 48h1v1h-1zM74 48h2v1h-2zM80 48h1v1h-1zM26 49h1v1h-1zM54 49h1v1h-1zM58 49h1v1h-1zM72 49h1v1h-1zM54 50h2v1h-2zM59 50h1v1h-1zM63 50h1v1h-1zM69 50h1v1h-1zM71 50h1v1h-1zM73 50h2v1h-2zM76 50h1v1h-1zM81 50h1v1h-1zM27 51h1v1h-1zM32 51h2v1h-2zM38 51h3v1h-3zM67 51h1v1h-1zM70 51h2v1h-2zM20 52h1v1h-1zM24 52h1v1h-1zM26 52h2v1h-2zM31 52h2v1h-2zM39 52h1v1h-1zM56 52h2v1h-2zM60 52h1v1h-1zM63 52h1v1h-1zM73 52h1v1h-1zM76 52h1v1h-1zM85 52h1v1h-1zM57 53h1v1h-1zM59 53h1v1h-1zM62 53h1v1h-1zM64 53h1v1h-1zM66 53h1v1h-1zM70 53h2v1h-2zM74 53h1v1h-1zM78 53h1v1h-1zM81 53h1v1h-1zM26 54h1v1h-1zM46 54h1v1h-1zM49 54h2v1h-2zM87 54h1v1h-1zM92 54h2v1h-2zM31 55h2v1h-2zM35 55h1v1h-1zM39 55h2v1h-2zM42 55h1v1h-1zM50 55h1v1h-1zM26 56h1v1h-1zM30 56h1v1h-1zM32 56h1v1h-1zM35 56h1v1h-1zM39 56h2v1h-2zM52 56h1v1h-1zM87 56h1v1h-1zM92 56h1v1h-1zM94 56h1v1h-1zM26 57h1v1h-1zM34 57h1v1h-1zM36 57h1v1h-1zM38 57h1v1h-1zM41 57h2v1h-2zM45 57h1v1h-1zM48 57h1v1h-1zM52 57h2v1h-2zM86 57h1v1h-1zM38 58h1v1h-1zM40 58h1v1h-1zM43 58h1v1h-1zM48 58h2v1h-2zM94 58h1v1h-1zM28 59h2v1h-2zM37 59h1v1h-1zM50 59h1v1h-1zM53 59h1v1h-1zM88 59h1v1h-1zM34 60h1v1h-1zM36 60h1v1h-1zM47 60h1v1h-1zM52 60h1v1h-1zM88 60h1v1h-1zM27 61h1v1h-1zM32 61h1v1h-1zM37 61h1v1h-1zM90 61h1v1h-1zM40 62h1v1h-1zM42 62h1v1h-1zM44 62h1v1h-1zM53 62h1v1h-1zM88 62h1v1h-1zM28 63h2v1h-2zM33 63h1v1h-1zM35 63h1v1h-1zM37 63h1v1h-1zM39 63h1v1h-1zM45 63h1v1h-1zM47 63h2v1h-2zM50 63h1v1h-1zM52 63h1v1h-1zM89 63h1v1h-1zM26 64h1v1h-1zM28 64h1v1h-1zM42 64h1v1h-1zM48 64h1v1h-1zM53 64h1v1h-1zM86 64h1v1h-1zM88 64h1v1h-1zM32 65h1v1h-1zM39 65h2v1h-2zM47 65h1v1h-1zM88 65h1v1h-1zM95 65h1v1h-1zM26 66h1v1h-1zM28 66h1v1h-1zM42 66h1v1h-1zM44 66h2v1h-2zM47 66h2v1h-2zM53 66h1v1h-1zM88 66h1v1h-1zM40 67h1v1h-1zM43 67h1v1h-1zM45 67h1v1h-1zM48 67h1v1h-1zM51 67h1v1h-1zM32 68h1v1h-1zM36 68h2v1h-2zM39 68h1v1h-1zM47 68h1v1h-1zM94 68h2v1h-2zM35 69h1v1h-1zM37 69h3v1h-3zM50 69h1v1h-1zM86 69h1v1h-1zM32 70h1v1h-1zM35 70h1v1h-1zM51 70h1v1h-1zM53 70h1v1h-1zM86 70h1v1h-1zM26 71h1v1h-1zM28 71h1v1h-1zM31 71h1v1h-1zM41 71h1v1h-1zM43 71h1v1h-1zM45 71h1v1h-1zM47 71h1v1h-1zM50 71h2v1h-2zM53 71h1v1h-1zM28 72h1v1h-1zM37 72h4v1h-4zM45 72h1v1h-1zM47 72h3v1h-3zM88 72h1v1h-1zM40 73h2v1h-2zM43 73h1v1h-1zM50 73h1v1h-1zM52 73h1v1h-1zM88 73h1v1h-1zM28 74h1v1h-1zM33 74h2v1h-2zM37 74h1v1h-1zM40 74h1v1h-1zM46 74h1v1h-1zM48 74h1v1h-1zM50 74h1v1h-1zM53 74h1v1h-1zM26 75h1v1h-1zM29 75h1v1h-1zM32 75h1v1h-1zM39 75h1v1h-1zM45 75h1v1h-1zM47 75h2v1h-2zM87 75h1v1h-1zM94 75h1v1h-1zM32 76h1v1h-1zM40 76h1v1h-1zM50 76h1v1h-1zM52 76h1v1h-1zM95 76h1v1h-1zM26 77h1v1h-1zM31 77h1v1h-1zM35 77h1v1h-1zM38 77h1v1h-1zM40 77h1v1h-1zM88 77h1v1h-1zM37 78h1v1h-1zM53 78h1v1h-1zM87 78h1v1h-1zM92 78h1v1h-1zM33 79h1v1h-1zM39 79h3v1h-3zM43 79h1v1h-1zM46 79h1v1h-1zM86 79h1v1h-1zM30 80h1v1h-1zM35 80h1v1h-1zM48 80h1v1h-1zM28 81h1v1h-1zM31 81h1v1h-1zM36 81h1v1h-1zM38 81h1v1h-1zM40 81h1v1h-1zM42 81h1v1h-1zM50 81h1v1h-1zM53 81h1v1h-1zM88 81h2v1h-2zM30 82h1v1h-1zM32 82h1v1h-1zM38 82h1v1h-1zM40 82h2v1h-2zM86 82h1v1h-1zM92 82h2v1h-2zM95 82h1v1h-1zM28 83h1v1h-1zM32 83h1v1h-1zM35 83h1v1h-1zM37 83h2v1h-2zM43 83h1v1h-1zM46 83h2v1h-2zM86 83h1v1h-1zM88 83h1v1h-1zM30 84h1v1h-1zM42 84h1v1h-1zM47 84h1v1h-1zM86 84h1v1h-1zM91 84h1v1h-1zM94 84h1v1h-1zM32 85h1v1h-1zM36 85h1v1h-1zM45 85h2v1h-2zM52 85h1v1h-1zM89 85h1v1h-1zM95 85h1v1h-1zM10 86h1v1h-1zM13 86h1v1h-1zM57 86h1v1h-1zM64 86h1v1h-1zM69 86h2v1h-2zM79 86h1v1h-1zM82 86h3v1h-3zM10 87h1v1h-1zM54 87h1v1h-1zM56 87h1v1h-1zM75 87h1v1h-1zM78 87h1v1h-1zM4 88h2v1h-2zM9 88h2v1h-2zM59 88h2v1h-2zM62 88h1v1h-1zM64 88h3v1h-3zM72 88h2v1h-2zM77 88h1v1h-1zM81 88h1v1h-1zM83 88h1v1h-1zM5 89h1v1h-1zM10 89h1v1h-1zM63 89h1v1h-1zM81 89h1v1h-1zM85 89h1v1h-1zM3 90h1v1h-1zM10 90h1v1h-1zM61 90h1v1h-1zM8 91h1v1h-1zM84 91h1v1h-1zM6 92h1v1h-1zM8 92h1v1h-1zM54 92h1v1h-1zM56 92h1v1h-1zM78 92h1v1h-1zM82 92h1v1h-1zM54 93h1v1h-1zM82 93h1v1h-1zM5 94h1v1h-1zM56 94h1v1h-1zM58 94h1v1h-1zM68 94h1v1h-1zM75 94h1v1h-1zM84 94h1v1h-1zM0 95h1v1h-1zM8 95h1v1h-1zM10 95h1v1h-1zM65 95h1v1h-1zM68 95h1v1h-1zM76 95h1v1h-1zM82 95h1v1h-1zM85 95h1v1h-1z"/>
<path fill="rgb(250, 198, 120)" d="M12 0h1v1h-1zM14 0h1v1h-1zM86 0h1v1h-1zM11 1h1v1h-1zM13 1h1v1h-1zM15 1h1v1h-1zM20 1h1v1h-1zM89 1h3v1h-3zM19 2h1v1h-1zM12 3h1v1h-1zM20 3h1v1h-1zM22 3h1v1h-1zM87 3h1v1h-1zM91 3h1v1h-1zM93 3h1v1h-1zM11 4h1v1h-1zM16 4h1v1h-1zM89 4h2v1h-2zM15 5h1v1h-1zM18 5h1v1h-1zM22 5h1v1h-1zM24 5h1v1h-1zM95 5h1v1h-1zM13 6h1v1h-1zM20 6h1v1h-1zM87 6h1v1h-1zM91 6h1v1h-1zM93 6h2v1h-2zM12 7h1v1h-1zM16 7h1v1h-1zM86 7h1v1h-1zM88 7h1v1h-1zM94 7h2v1h-2zM12 8h2v1h-2zM87 8h1v1h-1zM90 8h1v1h-1zM18 9h1v1h-1zM89 9h2v1h-2zM13 10h1v1h-1zM91 10h1v1h-1zM93 10h1v1h-1zM1 11h1v1h-1zM4 11h1v1h-1zM19 11h2v1h-2zM0 12h1v1h-1zM3 12h1v1h-1zM7 12h2v1h-2zM1 13h1v1h-1zM6 13h1v1h-1zM8 13h1v1h-1zM10 13h1v1h-1zM21 13h1v1h-1zM0 14h1v1h-1zM22 14h1v1h-1zM1 15h1v1h-1zM5 15h1v1h-1zM23 15h1v1h-1zM4 16h1v1h-1zM7 16h1v1h-1zM19 16h1v1h-1zM21 16h1v1h-1zM21 17h1v1h-1zM24 17h1v1h-1zM5 18h1v1h-1zM9 18h1v1h-1zM2 19h1v1h-1zM11 19h1v1h-1zM16 19h1v1h-1zM48 19h1v1h-1zM1 20h1v1h-1zM3 20h1v1h-1zM6 20h1v1h-1zM11 20h1v1h-1zM13 21h1v1h-1zM16 21h2v1h-2zM3 22h1v1h-1zM5 22h1v1h-1zM14 22h1v1h-1zM15 23h1v1h-1zM5 24h1v1h-1zM17 24h1v1h-1zM37 26h1v1h-1zM44 26h3v1h-3zM48 26h1v1h-1zM58 26h3v1h-3zM62 26h1v1h-1zM69 26h1v1h-1zM83 26h1v1h-1zM44 27h1v1h-1zM49 27h1v1h-1zM54 27h1v1h-1zM64 27h1v1h-1zM68 27h1v1h-1zM70 27h1v1h-1zM76 27h1v1h-1zM80 27h2v1h-2zM37 28h1v1h-1zM43 28h1v1h-1zM45 28h2v1h-2zM48 28h1v1h-1zM50 28h1v1h-1zM53 28h1v1h-1zM58 28h1v1h-1zM67 28h1v1h-1zM69 28h1v1h-1zM40 29h1v1h-1zM49 29h1v1h-1zM57 29h1v1h-1zM61 29h1v1h-1zM68 29h2v1h-2zM72 29h1v1h-1zM35 30h1v1h-1zM38 30h1v1h-1zM41 30h1v1h-1zM49 30h1v1h-1zM55 30h1v1h-1zM61 30h1v1h-1zM64 30h2v1h-2zM75 30h2v1h-2zM78 30h2v1h-2zM35 31h2v1h-2zM43 31h1v1h-1zM46 31h1v1h-1zM48 31h1v1h-1zM50 31h1v1h-1zM58 31h1v1h-1zM62 31h4v1h-4zM68 31h2v1h-2zM72 31h5v1h-5zM80 31h1v1h-1zM37 32h1v1h-1zM49 32h1v1h-1zM60 32h1v1h-1zM62 32h1v1h-1zM69 32h1v1h-1zM71 32h1v1h-1zM79 32h1v1h-1zM46 33h1v1h-1zM50 33h1v1h-1zM53 33h1v1h-1zM58 33h1v1h-1zM62 33h1v1h-1zM73 33h1v1h-1zM45 34h1v1h-1zM53 34h1v1h-1zM66 34h1v1h-1zM30 35h2v1h-2zM42 35h3v1h-3zM50 35h4v1h-4zM62 35h1v1h-1zM64 35h1v1h-1zM66 35h2v1h-2zM73 35h1v1h-1zM75 35h1v1h-1zM31 36h1v1h-1zM52 36h1v1h-1zM59 36h1v1h-1zM64 36h1v1h-1zM67 36h1v1h-1zM69 36h1v1h-1zM79 36h1v1h-1zM26 37h1v1h-1zM28 37h1v1h-1zM32 37h1v1h-1zM46 37h1v1h-1zM57 37h2v1h-2zM60 37h1v1h-1zM64 37h1v1h-1zM66 37h2v1h-2zM73 37h1v1h-1zM79 37h1v1h-1zM30 38h1v1h-1zM47 38h1v1h-1zM53 38h1v1h-1zM60 38h1v1h-1zM67 38h1v1h-1zM73 38h3v1h-3zM60 39h1v1h-1zM62 39h1v1h-1zM66 39h2v1h-2zM71 39h1v1h-1zM73 39h1v1h-1zM76 39h1v1h-1zM29 40h1v1h-1zM41 40h1v1h-1zM44 40h1v1h-1zM49 40h1v1h-1zM63 40h1v1h-1zM69 40h1v1h-1zM30 41h1v1h-1zM40 41h1v1h-1zM35 42h1v1h-1zM58 42h1v1h-1zM60 42h2v1h-2zM67 42h1v1h-1zM76 42h1v1h-1zM28 43h1v1h-1zM31 43h1v1h-1zM35 43h1v1h-1zM60 43h1v1h-1zM64 43h1v1h-1zM66 43h1v1h-1zM74 43h1v1h-1zM77 43h1v1h-1zM26 44h2v1h-2zM35 44h1v1h-1zM40 44h1v1h-1zM60 44h1v1h-1zM26 45h1v1h-1zM28 45h1v1h-1zM34 45h1v1h-1zM73 45h2v1h-2zM26 46h1v1h-1zM28 46h1v1h-1zM31 46h1v1h-1zM33 46h1v1h-1zM37 46h1v1h-1zM38 47h1v1h-1zM57 47h1v1h-1zM62 47h1v1h-1zM67 47h1v1h-1zM74 47h1v1h-1zM19 48h1v1h-1zM26 48h1v1h-1zM28 48h1v1h-1zM31 48h1v1h-1zM60 48h1v1h-1zM73 48h1v1h-1zM79 48h1v1h-1zM83 48h1v1h-1zM27 49h1v1h-1zM29 49h2v1h-2zM32 49h1v1h-1zM40 49h1v1h-1zM28 50h1v1h-1zM31 50h1v1h-1zM33 50h1v1h-1zM35 50h1v1h-1zM57 50h1v1h-1zM61 50h2v1h-2zM72 50h1v1h-1zM83 50h1v1h-1zM35 51h1v1h-1zM83 51h1v1h-1zM35 52h2v1h-2zM28 53h1v1h-1zM33 53h3v1h-3zM38 53h1v1h-1zM61 53h1v1h-1zM73 53h1v1h-1zM80 53h1v1h-1zM83 53h1v1h-1zM27 54h1v1h-1zM86 54h1v1h-1zM95 54h1v1h-1zM30 55h1v1h-1zM88 55h1v1h-1zM90 55h1v1h-1zM94 55h1v1h-1zM90 56h2v1h-2zM93 56h1v1h-1zM29 57h1v1h-1zM37 57h1v1h-1zM47 57h1v1h-1zM50 57h1v1h-1zM88 57h1v1h-1zM94 57h1v1h-1zM26 58h1v1h-1zM28 58h1v1h-1zM31 58h1v1h-1zM33 58h1v1h-1zM37 58h1v1h-1zM42 58h1v1h-1zM90 58h1v1h-1zM26 59h1v1h-1zM36 59h1v1h-1zM86 59h1v1h-1zM90 59h1v1h-1zM26 60h1v1h-1zM32 60h1v1h-1zM37 60h3v1h-3zM42 60h3v1h-3zM48 60h1v1h-1zM29 61h2v1h-2zM42 61h1v1h-1zM50 61h1v1h-1zM53 61h1v1h-1zM89 61h1v1h-1zM95 61h1v1h-1zM26 62h1v1h-1zM31 62h3v1h-3zM35 62h1v1h-1zM39 62h1v1h-1zM47 62h1v1h-1zM50 62h1v1h-1zM94 62h2v1h-2zM31 63h1v1h-1zM40 63h1v1h-1zM86 63h1v1h-1zM94 63h1v1h-1zM27 64h1v1h-1zM30 64h2v1h-2zM35 64h3v1h-3zM43 64h1v1h-1zM94 64h2v1h-2zM30 65h2v1h-2zM86 65h1v1h-1zM90 65h1v1h-1zM93 65h1v1h-1zM34 66h2v1h-2zM37 66h1v1h-1zM39 66h1v1h-1zM43 66h1v1h-1zM94 66h1v1h-1zM28 67h1v1h-1zM35 67h5v1h-5zM42 67h1v1h-1zM47 67h1v1h-1zM27 68h1v1h-1zM29 68h1v1h-1zM31 68h1v1h-1zM89 68h1v1h-1zM26 69h1v1h-1zM28 69h2v1h-2zM31 69h2v1h-2zM36 69h1v1h-1zM40 69h1v1h-1zM88 69h1v1h-1zM27 70h1v1h-1zM87 70h1v1h-1zM91 70h1v1h-1zM93 70h1v1h-1zM32 71h1v1h-1zM39 71h1v1h-1zM86 71h1v1h-1zM88 71h2v1h-2zM29 72h1v1h-1zM31 72h1v1h-1zM50 72h1v1h-1zM31 73h1v1h-1zM33 73h1v1h-1zM35 73h1v1h-1zM37 73h3v1h-3zM45 73h1v1h-1zM48 73h1v1h-1zM53 73h1v1h-1zM94 73h1v1h-1zM31 74h1v1h-1zM38 74h1v1h-1zM43 74h1v1h-1zM45 74h1v1h-1zM47 74h1v1h-1zM94 74h1v1h-1zM30 75h2v1h-2zM35 75h1v1h-1zM38 75h1v1h-1zM88 75h1v1h-1zM90 75h1v1h-1zM93 75h1v1h-1zM95 75h1v1h-1zM27 76h1v1h-1zM30 76h2v1h-2zM39 76h1v1h-1zM42 76h1v1h-1zM87 76h1v1h-1zM90 76h1v1h-1zM43 77h1v1h-1zM95 77h1v1h-1zM30 78h1v1h-1zM30 79h1v1h-1zM32 79h1v1h-1zM36 79h2v1h-2zM48 79h1v1h-1zM90 79h1v1h-1zM94 79h2v1h-2zM27 80h1v1h-1zM31 80h1v1h-1zM53 80h1v1h-1zM93 80h1v1h-1zM95 80h1v1h-1zM27 81h1v1h-1zM86 81h2v1h-2zM91 81h2v1h-2zM94 81h1v1h-1zM91 82h1v1h-1zM26 83h1v1h-1zM48 83h1v1h-1zM50 83h2v1h-2zM53 83h1v1h-1zM94 83h1v1h-1zM92 84h1v1h-1zM86 85h2v1h-2zM90 85h3v1h-3zM0 86h1v1h-1zM7 86h1v1h-1zM54 86h1v1h-1zM59 86h1v1h-1zM63 86h1v1h-1zM65 86h1v1h-1zM71 86h1v1h-1zM81 86h1v1h-1zM85 86h1v1h-1zM3 87h1v1h-1zM6 87h1v1h-1zM8 87h1v1h-1zM70 87h1v1h-1zM76 87h1v1h-1zM81 87h1v1h-1zM85 87h1v1h-1zM7 88h1v1h-1zM55 88h1v1h-1zM57 88h1v1h-1zM69 88h1v1h-1zM71 88h1v1h-1zM75 88h1v1h-1zM1 89h1v1h-1zM4 89h1v1h-1zM9 89h1v1h-1zM61 89h1v1h-1zM68 89h1v1h-1zM71 89h1v1h-1zM1 90h1v1h-1zM4 90h1v1h-1zM8 90h2v1h-2zM55 90h2v1h-2zM58 90h2v1h-2zM65 90h1v1h-1zM75 90h2v1h-2zM79 90h1v1h-1zM85 90h1v1h-1zM1 91h1v1h-1zM3 91h1v1h-1zM6 91h1v1h-1zM10 91h1v1h-1zM56 91h1v1h-1zM70 91h1v1h-1zM81 91h2v1h-2zM85 91h1v1h-1zM81 92h1v1h-1zM84 92h2v1h-2zM3 93h1v1h-1zM6 93h1v1h-1zM10 93h1v1h-1zM56 93h1v1h-1zM65 93h1v1h-1zM70 93h1v1h-1zM75 93h1v1h-1zM80 93h1v1h-1zM6 94h2v1h-2zM55 94h1v1h-1zM57 94h1v1h-1zM62 94h3v1h-3zM66 94h1v1h-1zM73 94h2v1h-2zM79 94h1v1h-1zM81 94h1v1h-1zM83 94h1v1h-1zM5 95h1v1h-1zM7 95h1v1h-1zM54 95h1v1h-1zM61 95h2v1h-2zM64 95h1v1h-1zM75 95h1v1h-1zM77 95h1v1h-1zM79 95h2v1h-2z"/>
<path fill="rgb(248, 181, 111)" d="M16 0h1v1h-1zM20 0h1v1h-1zM22 0h1v1h-1zM89 0h1v1h-1zM92 0h3v1h-3zM12 1h1v1h-1zM17 1h1v1h-1zM86 1h2v1h-2zM93 1h1v1h-1zM95 1h1v1h-1zM12 2h1v1h-1zM95 2h1v1h-1zM13 3h1v1h-1zM14 4h2v1h-2zM19 5h2v1h-2zM86 5h1v1h-1zM11 7h1v1h-1zM15 7h1v1h-1zM90 7h1v1h-1zM93 8h1v1h-1zM12 9h1v1h-1zM19 9h2v1h-2zM22 9h1v1h-1zM86 9h1v1h-1zM94 9h1v1h-1zM17 10h1v1h-1zM92 10h1v1h-1zM7 11h1v1h-1zM1 12h2v1h-2zM9 12h1v1h-1zM19 12h1v1h-1zM3 13h1v1h-1zM19 13h1v1h-1zM24 13h1v1h-1zM4 14h1v1h-1zM16 14h1v1h-1zM20 14h1v1h-1zM4 15h1v1h-1zM7 15h1v1h-1zM18 15h1v1h-1zM20 15h1v1h-1zM0 16h1v1h-1zM14 16h1v1h-1zM1 17h1v1h-1zM10 17h1v1h-1zM23 17h1v1h-1zM15 18h1v1h-1zM5 19h1v1h-1zM9 19h1v1h-1zM12 19h2v1h-2zM0 20h1v1h-1zM5 20h1v1h-1zM9 20h1v1h-1zM14 20h2v1h-2zM0 22h1v1h-1zM9 22h1v1h-1zM17 23h1v1h-1zM13 24h1v1h-1zM34 26h1v1h-1zM36 26h1v1h-1zM42 26h2v1h-2zM47 26h1v1h-1zM50 26h1v1h-1zM55 26h1v1h-1zM63 26h1v1h-1zM72 26h2v1h-2zM76 26h1v1h-1zM35 27h1v1h-1zM37 27h1v1h-1zM59 27h1v1h-1zM75 27h1v1h-1zM77 27h1v1h-1zM79 27h1v1h-1zM84 27h2v1h-2zM55 28h1v1h-1zM60 28h1v1h-1zM37 29h1v1h-1zM46 29h1v1h-1zM48 29h1v1h-1zM55 29h1v1h-1zM71 29h1v1h-1zM79 29h1v1h-1zM81 29h1v1h-1zM44 30h3v1h-3zM59 30h2v1h-2zM63 30h1v1h-1zM68 30h1v1h-1zM71 30h2v1h-2zM74 30h1v1h-1zM39 31h1v1h-1zM57 31h1v1h-1zM66 31h1v1h-1zM70 31h1v1h-1zM39 32h2v1h-2zM48 32h1v1h-1zM57 32h3v1h-3zM63 32h1v1h-1zM74 32h1v1h-1zM77 32h1v1h-1zM67 33h2v1h-2zM72 33h1v1h-1zM26 34h1v1h-1zM38 34h1v1h-1zM50 34h1v1h-1zM27 35h1v1h-1zM40 35h1v1h-1zM48 35h1v1h-1zM26 36h1v1h-1zM46 36h1v1h-1zM49 36h1v1h-1zM51 36h1v1h-1zM58 36h1v1h-1zM61 36h3v1h-3zM65 36h2v1h-2zM71 36h1v1h-1zM74 36h1v1h-1zM27 37h1v1h-1zM29 37h1v1h-1zM41 37h3v1h-3zM45 37h1v1h-1zM51 37h3v1h-3zM55 37h1v1h-1zM34 38h1v1h-1zM39 38h1v1h-1zM42 38h1v1h-1zM46 38h1v1h-1zM48 38h1v1h-1zM55 38h1v1h-1zM31 39h2v1h-2zM38 39h1v1h-1zM45 39h1v1h-1zM47 39h1v1h-1zM58 39h1v1h-1zM64 39h1v1h-1zM77 39h1v1h-1zM80 39h1v1h-1zM83 39h1v1h-1zM32 40h1v1h-1zM35 40h1v1h-1zM48 40h1v1h-1zM52 40h1v1h-1zM68 40h1v1h-1zM37 41h1v1h-1zM26 42h1v1h-1zM37 42h2v1h-2zM26 43h1v1h-1zM37 43h1v1h-1zM30 44h1v1h-1zM30 45h1v1h-1zM37 45h1v1h-1zM39 45h1v1h-1zM29 46h2v1h-2zM36 46h1v1h-1zM38 46h1v1h-1zM26 47h1v1h-1zM39 47h1v1h-1zM73 47h1v1h-1zM29 48h1v1h-1zM32 48h1v1h-1zM35 48h1v1h-1zM38 48h1v1h-1zM40 48h1v1h-1zM36 49h1v1h-1zM26 50h1v1h-1zM34 50h1v1h-1zM60 50h1v1h-1zM67 50h1v1h-1zM77 50h1v1h-1zM36 51h2v1h-2zM37 52h1v1h-1zM40 52h1v1h-1zM37 53h1v1h-1zM89 54h2v1h-2zM26 55h1v1h-1zM28 55h2v1h-2zM37 55h2v1h-2zM92 55h2v1h-2zM95 55h1v1h-1zM31 57h2v1h-2zM87 57h1v1h-1zM89 57h1v1h-1zM95 57h1v1h-1zM32 58h1v1h-1zM36 58h1v1h-1zM39 58h1v1h-1zM86 58h1v1h-1zM89 58h1v1h-1zM27 59h1v1h-1zM30 59h1v1h-1zM32 59h1v1h-1zM95 59h1v1h-1zM28 60h1v1h-1zM30 60h1v1h-1zM50 60h1v1h-1zM86 60h1v1h-1zM94 60h2v1h-2zM36 61h1v1h-1zM93 61h1v1h-1zM36 62h1v1h-1zM86 62h1v1h-1zM26 63h1v1h-1zM30 63h1v1h-1zM32 63h1v1h-1zM36 63h1v1h-1zM90 63h1v1h-1zM95 63h1v1h-1zM39 64h1v1h-1zM87 64h1v1h-1zM90 64h1v1h-1zM92 64h1v1h-1zM36 65h1v1h-1zM92 65h1v1h-1zM31 66h1v1h-1zM36 66h1v1h-1zM33 67h1v1h-1zM50 67h1v1h-1zM86 67h1v1h-1zM94 67h1v1h-1zM30 68h1v1h-1zM33 68h1v1h-1zM40 68h1v1h-1zM86 68h1v1h-1zM90 68h1v1h-1zM92 68h1v1h-1zM89 69h2v1h-2zM94 69h2v1h-2zM31 70h1v1h-1zM29 71h2v1h-2zM36 71h1v1h-1zM90 71h1v1h-1zM26 72h1v1h-1zM30 72h1v1h-1zM33 72h1v1h-1zM89 72h2v1h-2zM94 72h2v1h-2zM26 73h1v1h-1zM47 73h1v1h-1zM86 73h1v1h-1zM30 74h1v1h-1zM32 74h1v1h-1zM36 74h1v1h-1zM86 74h1v1h-1zM88 74h1v1h-1zM95 74h1v1h-1zM27 75h1v1h-1zM89 75h1v1h-1zM92 75h1v1h-1zM26 76h1v1h-1zM92 76h2v1h-2zM27 77h1v1h-1zM32 77h1v1h-1zM39 77h1v1h-1zM50 77h1v1h-1zM86 77h1v1h-1zM90 77h1v1h-1zM27 79h1v1h-1zM29 79h1v1h-1zM92 79h1v1h-1zM39 80h1v1h-1zM91 80h2v1h-2zM29 81h1v1h-1zM90 81h1v1h-1zM39 83h1v1h-1zM90 83h1v1h-1zM27 84h1v1h-1zM93 84h1v1h-1zM27 85h1v1h-1zM1 86h1v1h-1zM5 86h1v1h-1zM9 86h1v1h-1zM58 86h1v1h-1zM60 86h1v1h-1zM62 86h1v1h-1zM67 86h2v1h-2zM73 86h2v1h-2zM77 86h1v1h-1zM1 87h1v1h-1zM57 87h1v1h-1zM64 87h1v1h-1zM74 88h1v1h-1zM0 89h1v1h-1zM54 89h1v1h-1zM57 89h2v1h-2zM69 89h1v1h-1zM72 89h1v1h-1zM75 89h1v1h-1zM7 90h1v1h-1zM54 90h1v1h-1zM63 90h2v1h-2zM68 90h2v1h-2zM71 90h2v1h-2zM77 90h1v1h-1zM81 90h1v1h-1zM83 90h1v1h-1zM80 91h1v1h-1zM0 92h1v1h-1zM10 92h1v1h-1zM55 92h1v1h-1zM64 92h2v1h-2zM68 92h1v1h-1zM75 92h2v1h-2zM79 92h2v1h-2zM0 93h2v1h-2zM8 93h1v1h-1zM55 93h1v1h-1zM61 93h1v1h-1zM76 93h1v1h-1zM84 93h1v1h-1zM0 94h1v1h-1zM9 94h1v1h-1zM60 94h1v1h-1zM67 94h1v1h-1zM69 94h1v1h-1zM72 94h1v1h-1zM1 95h2v1h-2zM55 95h1v1h-1zM57 95h1v1h-1zM59 95h2v1h-2zM63 95h1v1h-1zM69 95h1v1h-1zM72 95h1v1h-1zM74 95h1v1h-1z"/>
<path fill="rgb(245, 165, 101)" d="M17 0h1v1h-1zM87 0h1v1h-1zM90 0h2v1h-2zM9 1h1v1h-1zM18 1h1v1h-1zM13 2h1v1h-1zM18 2h1v1h-1zM90 2h1v1h-1zM93 2h2v1h-2zM20 4h1v1h-1zM22 4h1v1h-1zM94 4h1v1h-1zM12 5h2v1h-2zM16 5h1v1h-1zM87 5h1v1h-1zM90 5h3v1h-3zM22 6h1v1h-1zM18 7h1v1h-1zM20 7h1v1h-1zM17 8h1v1h-1zM1 9h1v1h-1zM16 9h1v1h-1zM87 9h1v1h-1zM91 9h1v1h-1zM93 9h1v1h-1zM22 10h1v1h-1zM5 12h1v1h-1zM15 12h1v1h-1zM18 12h1v1h-1zM2 13h1v1h-1zM5 13h1v1h-1zM14 13h2v1h-2zM13 14h1v1h-1zM15 14h1v1h-1zM12 15h3v1h-3zM5 16h1v1h-1zM9 16h1v1h-1zM0 17h1v1h-1zM8 17h1v1h-1zM18 17h2v1h-2zM1 18h2v1h-2zM7 18h1v1h-1zM12 18h1v1h-1zM17 18h1v1h-1zM17 19h1v1h-1zM4 20h1v1h-1zM7 20h1v1h-1zM4 22h1v1h-1zM6 22h1v1h-1zM10 22h1v1h-1zM53 26h1v1h-1zM67 26h1v1h-1zM74 26h1v1h-1zM34 27h1v1h-1zM38 27h1v1h-1zM41 27h1v1h-1zM45 27h1v1h-1zM53 27h1v1h-1zM60 27h1v1h-1zM62 27h1v1h-1zM65 27h1v1h-1zM69 27h1v1h-1zM39 28h1v1h-1zM47 28h1v1h-1zM73 28h1v1h-1zM45 29h1v1h-1zM52 29h2v1h-2zM62 29h1v1h-1zM64 29h3v1h-3zM76 29h2v1h-2zM83 29h1v1h-1zM37 30h1v1h-1zM39 30h1v1h-1zM42 30h1v1h-1zM47 30h1v1h-1zM50 30h1v1h-1zM57 30h1v1h-1zM62 30h1v1h-1zM69 30h1v1h-1zM47 31h1v1h-1zM53 31h1v1h-1zM60 31h1v1h-1zM67 31h1v1h-1zM83 31h1v1h-1zM42 32h2v1h-2zM53 32h1v1h-1zM64 32h1v1h-1zM27 34h1v1h-1zM38 35h1v1h-1zM43 36h1v1h-1zM45 36h1v1h-1zM77 36h1v1h-1zM30 37h1v1h-1zM48 37h1v1h-1zM62 37h1v1h-1zM27 38h1v1h-1zM35 38h1v1h-1zM28 39h1v1h-1zM30 39h1v1h-1zM49 39h1v1h-1zM43 40h1v1h-1zM45 40h1v1h-1zM53 40h1v1h-1zM27 41h1v1h-1zM30 42h1v1h-1zM32 42h1v1h-1zM32 43h1v1h-1zM36 43h1v1h-1zM40 43h1v1h-1zM27 45h1v1h-1zM29 45h1v1h-1zM36 45h1v1h-1zM40 45h1v1h-1zM28 47h1v1h-1zM30 47h2v1h-2zM37 48h1v1h-1zM39 49h1v1h-1zM30 50h1v1h-1zM29 52h1v1h-1zM26 53h2v1h-2zM29 53h1v1h-1zM31 53h2v1h-2zM40 53h1v1h-1zM89 55h1v1h-1zM91 55h1v1h-1zM30 57h1v1h-1zM92 57h1v1h-1zM92 58h1v1h-1zM95 58h1v1h-1zM93 59h1v1h-1zM27 60h1v1h-1zM31 60h1v1h-1zM89 60h2v1h-2zM91 61h2v1h-2zM27 62h1v1h-1zM29 62h2v1h-2zM37 62h1v1h-1zM90 62h2v1h-2zM29 64h1v1h-1zM32 64h1v1h-1zM93 64h1v1h-1zM27 65h1v1h-1zM29 65h1v1h-1zM87 65h1v1h-1zM29 66h1v1h-1zM86 66h1v1h-1zM89 66h2v1h-2zM93 66h1v1h-1zM95 66h1v1h-1zM26 67h1v1h-1zM31 67h1v1h-1zM89 67h1v1h-1zM95 67h1v1h-1zM91 68h1v1h-1zM27 69h1v1h-1zM30 69h1v1h-1zM86 72h1v1h-1zM28 73h1v1h-1zM90 73h1v1h-1zM26 74h1v1h-1zM89 74h1v1h-1zM91 75h1v1h-1zM29 76h1v1h-1zM86 76h1v1h-1zM29 77h1v1h-1zM36 77h1v1h-1zM92 77h1v1h-1zM87 79h1v1h-1zM91 79h1v1h-1zM87 82h1v1h-1zM90 82h1v1h-1zM29 83h1v1h-1zM31 83h1v1h-1zM89 83h1v1h-1zM95 83h1v1h-1zM89 84h1v1h-1zM93 85h1v1h-1zM66 86h1v1h-1zM72 86h1v1h-1zM76 86h1v1h-1zM0 87h1v1h-1zM5 87h1v1h-1zM9 87h1v1h-1zM65 87h1v1h-1zM79 87h1v1h-1zM82 87h1v1h-1zM55 89h1v1h-1zM60 89h1v1h-1zM66 89h2v1h-2zM74 89h1v1h-1zM83 89h2v1h-2zM0 90h1v1h-1zM2 90h1v1h-1zM5 90h1v1h-1zM60 90h1v1h-1zM62 90h1v1h-1zM66 90h1v1h-1zM73 90h1v1h-1zM82 90h1v1h-1zM0 91h1v1h-1zM5 91h1v1h-1zM9 91h1v1h-1zM55 91h1v1h-1zM61 91h2v1h-2zM68 91h1v1h-1zM75 91h1v1h-1zM79 91h1v1h-1zM5 92h1v1h-1zM57 92h2v1h-2zM61 92h1v1h-1zM77 92h1v1h-1zM2 93h1v1h-1zM9 93h1v1h-1zM59 93h1v1h-1zM64 93h1v1h-1zM66 93h1v1h-1zM85 93h1v1h-1zM2 94h1v1h-1zM4 94h1v1h-1zM58 95h1v1h-1zM66 95h2v1h-2zM83 95h1v1h-1z"/>
<path fill="rgb(242, 149, 92)" d="M10 0h1v1h-1zM92 1h1v1h-1zM16 2h1v1h-1zM20 2h1v1h-1zM22 2h1v1h-1zM86 2h1v1h-1zM89 2h1v1h-1zM9 3h1v1h-1zM92 3h1v1h-1zM10 4h1v1h-1zM12 4h1v1h-1zM95 4h1v1h-1zM93 5h1v1h-1zM10 6h1v1h-1zM22 7h1v1h-1zM89 7h1v1h-1zM91 7h2v1h-2zM10 8h1v1h-1zM3 9h1v1h-1zM17 9h1v1h-1zM92 9h1v1h-1zM95 9h1v1h-1zM0 10h1v1h-1zM4 10h1v1h-1zM6 10h1v1h-1zM8 10h1v1h-1zM12 11h1v1h-1zM14 11h1v1h-1zM17 11h1v1h-1zM4 12h1v1h-1zM11 12h1v1h-1zM20 12h1v1h-1zM22 12h1v1h-1zM18 13h1v1h-1zM23 13h1v1h-1zM11 14h1v1h-1zM17 14h1v1h-1zM2 16h1v1h-1zM20 16h1v1h-1zM9 17h1v1h-1zM11 17h1v1h-1zM14 17h1v1h-1zM13 18h1v1h-1zM2 20h1v1h-1zM12 20h1v1h-1zM16 20h1v1h-1zM2 22h1v1h-1zM7 22h1v1h-1zM12 22h1v1h-1zM13 23h1v1h-1zM43 27h1v1h-1zM46 27h1v1h-1zM48 27h1v1h-1zM55 27h1v1h-1zM57 27h1v1h-1zM67 27h1v1h-1zM71 27h3v1h-3zM83 27h1v1h-1zM36 29h1v1h-1zM58 29h1v1h-1zM60 29h1v1h-1zM67 29h1v1h-1zM73 29h2v1h-2zM36 30h1v1h-1zM40 30h1v1h-1zM48 30h1v1h-1zM52 30h2v1h-2zM58 30h1v1h-1zM66 30h1v1h-1zM73 30h1v1h-1zM77 30h1v1h-1zM83 30h1v1h-1zM36 32h1v1h-1zM45 32h1v1h-1zM47 32h1v1h-1zM66 32h2v1h-2zM35 34h1v1h-1zM40 34h1v1h-1zM34 35h1v1h-1zM36 35h2v1h-2zM29 36h2v1h-2zM32 36h1v1h-1zM35 36h1v1h-1zM40 36h2v1h-2zM53 36h1v1h-1zM73 36h1v1h-1zM83 36h1v1h-1zM35 37h1v1h-1zM38 37h1v1h-1zM47 37h1v1h-1zM50 37h1v1h-1zM37 38h1v1h-1zM50 38h1v1h-1zM40 39h1v1h-1zM46 39h1v1h-1zM48 39h1v1h-1zM53 39h1v1h-1zM30 40h1v1h-1zM34 40h1v1h-1zM36 40h1v1h-1zM39 40h1v1h-1zM42 40h1v1h-1zM36 41h1v1h-1zM40 42h1v1h-1zM73 42h1v1h-1zM27 43h1v1h-1zM32 45h1v1h-1zM27 46h1v1h-1zM39 46h1v1h-1zM32 47h1v1h-1zM37 47h1v1h-1zM27 48h1v1h-1zM30 48h1v1h-1zM39 48h1v1h-1zM37 50h2v1h-2zM30 52h1v1h-1zM30 53h1v1h-1zM36 53h1v1h-1zM39 53h1v1h-1zM69 54h1v1h-1zM78 54h1v1h-1zM81 54h1v1h-1zM91 54h1v1h-1zM27 55h1v1h-1zM70 55h1v1h-1zM87 55h1v1h-1zM78 56h1v1h-1zM27 57h1v1h-1zM84 57h1v1h-1zM90 57h1v1h-1zM93 57h1v1h-1zM29 58h2v1h-2zM91 58h1v1h-1zM91 59h1v1h-1zM29 60h1v1h-1zM87 61h1v1h-1zM89 62h1v1h-1zM93 62h1v1h-1zM81 63h1v1h-1zM91 63h3v1h-3zM91 64h1v1h-1zM91 65h1v1h-1zM30 66h1v1h-1zM32 66h1v1h-1zM78 66h1v1h-1zM91 66h1v1h-1zM27 67h1v1h-1zM29 67h1v1h-1zM32 67h1v1h-1zM81 67h1v1h-1zM54 69h1v1h-1zM87 69h1v1h-1zM91 69h2v1h-2zM55 70h1v1h-1zM81 70h2v1h-2zM27 71h1v1h-1zM87 71h1v1h-1zM91 71h1v1h-1zM93 71h1v1h-1zM95 71h1v1h-1zM27 72h1v1h-1zM92 72h2v1h-2zM27 73h1v1h-1zM29 73h2v1h-2zM36 73h1v1h-1zM42 73h1v1h-1zM89 73h1v1h-1zM29 74h1v1h-1zM90 74h1v1h-1zM92 74h2v1h-2zM91 76h1v1h-1zM30 77h1v1h-1zM91 77h1v1h-1zM94 77h1v1h-1zM54 78h1v1h-1zM56 78h1v1h-1zM66 78h1v1h-1zM80 78h1v1h-1zM89 79h1v1h-1zM93 79h1v1h-1zM78 80h1v1h-1zM54 81h1v1h-1zM63 81h1v1h-1zM67 81h1v1h-1zM70 81h1v1h-1zM93 81h1v1h-1zM70 82h1v1h-1zM27 83h1v1h-1zM30 83h1v1h-1zM36 83h1v1h-1zM87 83h1v1h-1zM57 84h1v1h-1zM2 86h1v1h-1zM55 87h1v1h-1zM61 87h1v1h-1zM69 87h1v1h-1zM71 87h1v1h-1zM83 87h1v1h-1zM2 89h1v1h-1zM7 89h1v1h-1zM62 89h1v1h-1zM73 89h1v1h-1zM79 89h1v1h-1zM57 90h1v1h-1zM74 90h1v1h-1zM7 91h1v1h-1zM54 91h1v1h-1zM58 91h2v1h-2zM63 91h4v1h-4zM69 91h1v1h-1zM71 91h1v1h-1zM76 91h2v1h-2zM1 92h1v1h-1zM3 92h1v1h-1zM7 92h1v1h-1zM9 92h1v1h-1zM63 92h1v1h-1zM69 92h1v1h-1zM72 92h1v1h-1zM74 92h1v1h-1zM5 93h1v1h-1zM57 93h1v1h-1zM62 93h2v1h-2zM71 93h2v1h-2zM74 93h1v1h-1zM79 93h1v1h-1zM81 93h1v1h-1zM77 94h1v1h-1zM4 95h1v1h-1zM9 95h1v1h-1zM71 95h1v1h-1z"/>
<path fill="rgb(237, 132, 83)" d="M5 0h1v1h-1zM3 1h1v1h-1zM5 1h1v1h-1zM8 1h1v1h-1zM10 1h1v1h-1zM7 2h1v1h-1zM92 2h1v1h-1zM1 3h1v1h-1zM8 3h1v1h-1zM8 4h1v1h-1zM13 4h1v1h-1zM87 4h1v1h-1zM92 4h2v1h-2zM0 5h2v1h-2zM6 5h1v1h-1zM10 5h1v1h-1zM5 6h1v1h-1zM7 6h1v1h-1zM2 7h1v1h-1zM6 7h1v1h-1zM13 7h1v1h-1zM87 7h1v1h-1zM93 7h1v1h-1zM1 8h1v1h-1zM3 8h2v1h-2zM9 8h1v1h-1zM8 9h1v1h-1zM10 9h1v1h-1zM13 9h1v1h-1zM1 10h1v1h-1zM5 10h1v1h-1zM9 10h1v1h-1zM15 11h2v1h-2zM13 12h2v1h-2zM4 13h1v1h-1zM7 13h1v1h-1zM9 13h1v1h-1zM12 13h1v1h-1zM12 14h1v1h-1zM11 15h1v1h-1zM11 16h1v1h-1zM17 16h2v1h-2zM22 16h1v1h-1zM16 17h1v1h-1zM16 18h1v1h-1zM23 21h1v1h-1zM16 22h1v1h-1zM21 23h1v1h-1zM24 23h1v1h-1zM23 24h1v1h-1zM36 27h1v1h-1zM39 27h2v1h-2zM42 27h1v1h-1zM58 27h1v1h-1zM63 27h1v1h-1zM66 27h1v1h-1zM74 27h1v1h-1zM42 29h2v1h-2zM47 29h1v1h-1zM43 30h1v1h-1zM67 30h1v1h-1zM73 32h1v1h-1zM36 34h2v1h-2zM39 34h1v1h-1zM39 35h1v1h-1zM27 36h1v1h-1zM34 36h1v1h-1zM42 36h1v1h-1zM47 36h1v1h-1zM34 37h1v1h-1zM39 37h2v1h-2zM40 38h1v1h-1zM27 39h1v1h-1zM34 39h2v1h-2zM37 39h1v1h-1zM43 39h1v1h-1zM50 39h1v1h-1zM27 40h1v1h-1zM37 40h2v1h-2zM47 40h1v1h-1zM50 40h1v1h-1zM27 42h1v1h-1zM29 42h1v1h-1zM36 42h1v1h-1zM29 43h2v1h-2zM39 43h1v1h-1zM51 44h1v1h-1zM29 47h1v1h-1zM36 47h1v1h-1zM40 47h1v1h-1zM39 50h2v1h-2zM44 51h1v1h-1zM65 54h1v1h-1zM82 54h1v1h-1zM81 55h1v1h-1zM84 55h1v1h-1zM68 56h1v1h-1zM72 56h1v1h-1zM84 56h1v1h-1zM78 57h1v1h-1zM27 58h1v1h-1zM78 58h1v1h-1zM87 58h1v1h-1zM78 59h1v1h-1zM82 59h1v1h-1zM87 59h1v1h-1zM92 59h1v1h-1zM87 60h1v1h-1zM92 60h2v1h-2zM78 61h1v1h-1zM84 61h1v1h-1zM87 62h1v1h-1zM92 62h1v1h-1zM27 63h1v1h-1zM70 63h1v1h-1zM78 63h1v1h-1zM87 63h1v1h-1zM54 65h1v1h-1zM27 66h1v1h-1zM30 67h1v1h-1zM90 67h1v1h-1zM93 67h1v1h-1zM56 68h1v1h-1zM87 68h1v1h-1zM93 68h1v1h-1zM93 69h1v1h-1zM63 70h1v1h-1zM82 71h1v1h-1zM92 71h1v1h-1zM56 72h1v1h-1zM75 72h1v1h-1zM80 72h1v1h-1zM32 73h1v1h-1zM27 74h1v1h-1zM72 75h1v1h-1zM57 78h3v1h-3zM61 78h1v1h-1zM63 78h1v1h-1zM79 78h1v1h-1zM82 78h1v1h-1zM78 79h1v1h-1zM72 80h1v1h-1zM83 80h1v1h-1zM55 81h1v1h-1zM84 81h1v1h-1zM54 82h1v1h-1zM59 82h1v1h-1zM71 82h1v1h-1zM78 82h1v1h-1zM80 83h1v1h-1zM92 83h2v1h-2zM55 84h2v1h-2zM61 84h1v1h-1zM81 84h1v1h-1zM4 87h1v1h-1zM7 87h1v1h-1zM58 87h3v1h-3zM62 87h2v1h-2zM68 87h1v1h-1zM88 87h1v1h-1zM87 88h1v1h-1zM67 90h1v1h-1zM2 92h1v1h-1zM4 92h1v1h-1zM59 92h2v1h-2zM62 92h1v1h-1zM71 92h1v1h-1zM83 92h1v1h-1zM4 93h1v1h-1zM7 93h1v1h-1zM60 93h1v1h-1zM67 93h3v1h-3zM83 93h1v1h-1z"/>
<path fill="rgb(233, 115, 75)" d="M6 0h1v1h-1zM8 0h1v1h-1zM4 1h1v1h-1zM6 1h1v1h-1zM3 2h1v1h-1zM6 2h1v1h-1zM8 2h2v1h-2zM87 2h1v1h-1zM91 2h1v1h-1zM2 3h1v1h-1zM4 3h1v1h-1zM6 3h2v1h-2zM10 3h1v1h-1zM1 4h1v1h-1zM3 4h1v1h-1zM6 4h1v1h-1zM17 4h1v1h-1zM91 4h1v1h-1zM0 6h5v1h-5zM9 6h1v1h-1zM3 7h1v1h-1zM8 7h1v1h-1zM17 7h1v1h-1zM0 8h1v1h-1zM2 8h1v1h-1zM7 8h1v1h-1zM2 9h1v1h-1zM6 9h1v1h-1zM3 10h1v1h-1zM13 11h1v1h-1zM16 12h2v1h-2zM11 13h1v1h-1zM16 15h2v1h-2zM12 16h1v1h-1zM15 16h1v1h-1zM4 17h1v1h-1zM7 17h1v1h-1zM12 17h1v1h-1zM15 17h1v1h-1zM23 19h1v1h-1zM24 21h1v1h-1zM19 23h1v1h-1zM25 23h1v1h-1zM21 24h1v1h-1zM23 25h1v1h-1zM47 27h1v1h-1zM33 28h1v1h-1zM50 29h1v1h-1zM50 32h1v1h-1zM28 33h1v1h-1zM39 36h1v1h-1zM48 36h1v1h-1zM36 39h1v1h-1zM42 39h1v1h-1zM51 41h1v1h-1zM39 42h1v1h-1zM51 46h1v1h-1zM27 47h1v1h-1zM36 48h1v1h-1zM29 50h1v1h-1zM32 50h1v1h-1zM41 51h1v1h-1zM46 51h1v1h-1zM56 54h1v1h-1zM61 54h1v1h-1zM68 54h1v1h-1zM70 54h1v1h-1zM73 54h3v1h-3zM56 55h1v1h-1zM59 55h1v1h-1zM61 55h1v1h-1zM75 55h2v1h-2zM79 55h2v1h-2zM54 56h2v1h-2zM57 56h1v1h-1zM61 56h2v1h-2zM67 56h1v1h-1zM69 56h2v1h-2zM75 56h2v1h-2zM80 56h1v1h-1zM85 56h1v1h-1zM56 57h1v1h-1zM82 57h1v1h-1zM85 57h1v1h-1zM91 57h1v1h-1zM55 59h1v1h-1zM63 59h1v1h-1zM65 59h1v1h-1zM75 59h1v1h-1zM84 60h1v1h-1zM91 60h1v1h-1zM54 61h3v1h-3zM70 61h1v1h-1zM75 61h2v1h-2zM79 61h1v1h-1zM81 61h1v1h-1zM85 61h1v1h-1zM56 62h1v1h-1zM76 62h1v1h-1zM59 63h1v1h-1zM80 63h1v1h-1zM85 63h1v1h-1zM84 64h1v1h-1zM59 65h1v1h-1zM68 65h1v1h-1zM80 65h1v1h-1zM85 65h1v1h-1zM92 66h1v1h-1zM56 67h1v1h-1zM68 67h1v1h-1zM78 67h1v1h-1zM91 67h1v1h-1zM54 68h1v1h-1zM65 68h1v1h-1zM67 68h1v1h-1zM76 68h1v1h-1zM78 68h1v1h-1zM82 68h1v1h-1zM56 69h1v1h-1zM78 69h1v1h-1zM81 69h1v1h-1zM54 70h1v1h-1zM56 70h1v1h-1zM61 70h1v1h-1zM75 70h2v1h-2zM78 70h1v1h-1zM80 70h1v1h-1zM79 71h1v1h-1zM82 72h1v1h-1zM87 72h1v1h-1zM54 73h1v1h-1zM87 73h1v1h-1zM91 73h2v1h-2zM95 73h1v1h-1zM54 74h1v1h-1zM87 74h1v1h-1zM54 75h3v1h-3zM59 75h1v1h-1zM61 75h1v1h-1zM70 75h1v1h-1zM77 75h1v1h-1zM81 75h2v1h-2zM55 76h2v1h-2zM61 76h2v1h-2zM68 76h1v1h-1zM70 76h1v1h-1zM78 76h1v1h-1zM81 76h1v1h-1zM75 77h1v1h-1zM82 77h1v1h-1zM84 77h1v1h-1zM87 77h1v1h-1zM93 77h1v1h-1zM67 78h4v1h-4zM76 78h1v1h-1zM81 78h1v1h-1zM85 78h1v1h-1zM55 79h1v1h-1zM61 79h1v1h-1zM71 79h1v1h-1zM80 79h1v1h-1zM84 79h1v1h-1zM55 80h2v1h-2zM63 80h1v1h-1zM65 80h1v1h-1zM70 80h1v1h-1zM79 80h1v1h-1zM84 80h2v1h-2zM61 81h1v1h-1zM69 81h1v1h-1zM75 81h2v1h-2zM78 81h1v1h-1zM82 81h1v1h-1zM57 82h1v1h-1zM68 82h1v1h-1zM72 82h1v1h-1zM75 82h1v1h-1zM77 82h1v1h-1zM81 82h1v1h-1zM84 82h1v1h-1zM84 83h1v1h-1zM91 83h1v1h-1zM60 84h1v1h-1zM64 84h1v1h-1zM77 84h1v1h-1zM79 84h2v1h-2zM82 84h2v1h-2zM85 84h1v1h-1zM56 85h2v1h-2zM61 85h1v1h-1zM63 85h1v1h-1zM65 85h1v1h-1zM78 85h1v1h-1zM80 85h1v1h-1zM84 85h1v1h-1zM88 86h1v1h-1zM90 86h1v1h-1zM2 87h1v1h-1zM72 87h3v1h-3zM77 87h1v1h-1zM86 88h1v1h-1zM91 88h1v1h-1zM95 88h1v1h-1zM86 90h1v1h-1zM95 90h1v1h-1zM2 91h1v1h-1zM4 91h1v1h-1zM57 91h1v1h-1zM60 91h1v1h-1zM67 91h1v1h-1zM73 91h1v1h-1zM83 91h1v1h-1zM88 91h1v1h-1zM66 92h1v1h-1zM73 92h1v1h-1zM77 93h1v1h-1zM73 95h1v1h-1zM88 95h1v1h-1zM90 95h1v1h-1z"/>
<path fill="rgb(228, 98, 66)" d="M2 0h2v1h-2zM9 0h1v1h-1zM2 1h1v1h-1zM7 1h1v1h-1zM0 2h2v1h-2zM10 2h1v1h-1zM0 3h1v1h-1zM5 3h1v1h-1zM5 4h1v1h-1zM3 5h2v1h-2zM8 5h2v1h-2zM17 5h1v1h-1zM8 6h1v1h-1zM1 7h1v1h-1zM10 7h1v1h-1zM5 8h2v1h-2zM0 9h1v1h-1zM5 9h1v1h-1zM2 10h1v1h-1zM7 10h1v1h-1zM16 13h2v1h-2zM20 13h1v1h-1zM22 13h1v1h-1zM13 16h1v1h-1zM5 17h1v1h-1zM13 17h1v1h-1zM22 17h1v1h-1zM25 18h1v1h-1zM13 20h1v1h-1zM13 22h1v1h-1zM17 22h1v1h-1zM24 22h1v1h-1zM22 24h1v1h-1zM25 24h1v1h-1zM18 25h1v1h-1zM24 25h1v1h-1zM31 26h1v1h-1zM50 27h1v1h-1zM31 28h2v1h-2zM26 31h1v1h-1zM28 31h1v1h-1zM33 31h1v1h-1zM28 32h1v1h-1zM33 32h1v1h-1zM31 33h2v1h-2zM38 36h1v1h-1zM50 36h1v1h-1zM36 38h1v1h-1zM48 41h1v1h-1zM49 42h1v1h-1zM51 42h1v1h-1zM45 44h2v1h-2zM49 44h1v1h-1zM53 44h1v1h-1zM44 45h1v1h-1zM49 45h1v1h-1zM51 45h1v1h-1zM44 46h1v1h-1zM53 46h1v1h-1zM49 47h1v1h-1zM41 48h1v1h-1zM42 49h1v1h-1zM44 49h2v1h-2zM47 49h1v1h-1zM51 49h2v1h-2zM27 50h1v1h-1zM36 50h1v1h-1zM42 51h1v1h-1zM45 51h1v1h-1zM49 51h1v1h-1zM49 52h1v1h-1zM44 53h1v1h-1zM46 53h1v1h-1zM57 54h1v1h-1zM63 54h1v1h-1zM66 54h1v1h-1zM76 54h1v1h-1zM79 54h1v1h-1zM85 54h1v1h-1zM65 55h1v1h-1zM71 55h1v1h-1zM77 55h1v1h-1zM82 55h1v1h-1zM59 56h1v1h-1zM71 56h1v1h-1zM77 56h1v1h-1zM81 56h2v1h-2zM54 57h1v1h-1zM80 57h1v1h-1zM61 58h1v1h-1zM70 58h1v1h-1zM80 58h1v1h-1zM82 58h1v1h-1zM85 58h1v1h-1zM93 58h1v1h-1zM56 59h1v1h-1zM76 59h1v1h-1zM80 59h2v1h-2zM75 60h1v1h-1zM81 60h1v1h-1zM58 61h1v1h-1zM63 61h2v1h-2zM69 61h1v1h-1zM71 61h2v1h-2zM77 61h1v1h-1zM82 61h1v1h-1zM71 62h1v1h-1zM78 62h1v1h-1zM82 62h1v1h-1zM84 62h1v1h-1zM54 63h1v1h-1zM61 63h1v1h-1zM68 63h1v1h-1zM75 63h1v1h-1zM82 63h1v1h-1zM84 63h1v1h-1zM61 64h1v1h-1zM70 64h1v1h-1zM78 64h1v1h-1zM80 64h3v1h-3zM55 65h1v1h-1zM71 65h1v1h-1zM74 65h1v1h-1zM78 65h2v1h-2zM84 65h1v1h-1zM54 66h1v1h-1zM70 66h1v1h-1zM75 66h1v1h-1zM81 66h2v1h-2zM87 66h1v1h-1zM69 67h2v1h-2zM80 67h1v1h-1zM92 67h1v1h-1zM63 68h1v1h-1zM70 68h2v1h-2zM79 68h2v1h-2zM83 68h1v1h-1zM85 68h1v1h-1zM61 69h1v1h-1zM67 69h1v1h-1zM70 69h1v1h-1zM80 69h1v1h-1zM82 69h1v1h-1zM84 69h2v1h-2zM58 70h1v1h-1zM64 70h1v1h-1zM66 70h4v1h-4zM72 70h1v1h-1zM77 70h1v1h-1zM79 70h1v1h-1zM83 70h1v1h-1zM85 70h1v1h-1zM55 71h2v1h-2zM61 71h2v1h-2zM65 71h1v1h-1zM68 71h1v1h-1zM80 71h1v1h-1zM84 71h2v1h-2zM61 72h1v1h-1zM70 72h1v1h-1zM76 72h1v1h-1zM78 72h1v1h-1zM81 72h1v1h-1zM91 72h1v1h-1zM75 73h1v1h-1zM78 73h1v1h-1zM82 73h1v1h-1zM85 73h1v1h-1zM93 73h1v1h-1zM65 74h1v1h-1zM79 74h3v1h-3zM91 74h1v1h-1zM60 75h1v1h-1zM63 75h1v1h-1zM66 75h1v1h-1zM73 75h1v1h-1zM78 75h3v1h-3zM84 75h1v1h-1zM54 76h1v1h-1zM59 76h1v1h-1zM72 76h1v1h-1zM77 76h1v1h-1zM80 76h1v1h-1zM82 76h4v1h-4zM55 77h2v1h-2zM61 77h1v1h-1zM70 77h1v1h-1zM76 77h1v1h-1zM81 77h1v1h-1zM85 77h1v1h-1zM62 78h1v1h-1zM64 78h2v1h-2zM72 78h2v1h-2zM75 78h1v1h-1zM83 78h1v1h-1zM54 79h1v1h-1zM65 79h1v1h-1zM68 79h1v1h-1zM70 79h1v1h-1zM74 79h2v1h-2zM81 79h3v1h-3zM57 80h3v1h-3zM64 80h1v1h-1zM67 80h3v1h-3zM71 80h1v1h-1zM74 80h3v1h-3zM81 80h1v1h-1zM56 81h1v1h-1zM59 81h2v1h-2zM64 81h1v1h-1zM66 81h1v1h-1zM72 81h1v1h-1zM74 81h1v1h-1zM77 81h1v1h-1zM79 81h2v1h-2zM83 81h1v1h-1zM55 82h2v1h-2zM58 82h1v1h-1zM61 82h4v1h-4zM66 82h1v1h-1zM69 82h1v1h-1zM73 82h1v1h-1zM76 82h1v1h-1zM79 82h1v1h-1zM85 82h1v1h-1zM68 83h1v1h-1zM70 83h1v1h-1zM76 83h1v1h-1zM78 83h2v1h-2zM81 83h1v1h-1zM62 84h2v1h-2zM65 84h1v1h-1zM69 84h1v1h-1zM71 84h1v1h-1zM75 84h2v1h-2zM54 85h1v1h-1zM58 85h1v1h-1zM68 85h4v1h-4zM73 85h1v1h-1zM76 85h2v1h-2zM82 85h1v1h-1zM89 86h1v1h-1zM92 86h3v1h-3zM66 87h1v1h-1zM94 87h1v1h-1zM92 88h2v1h-2zM86 89h1v1h-1zM94 90h1v1h-1zM72 91h1v1h-1zM74 91h1v1h-1zM67 92h1v1h-1zM86 92h1v1h-1zM88 92h1v1h-1zM58 93h1v1h-1zM73 93h1v1h-1zM86 93h1v1h-1zM88 93h1v1h-1zM86 94h2v1h-2zM90 94h1v1h-1z"/>
<path fill="rgb(222, 84, 59)" d="M1 0h1v1h-1zM4 0h1v1h-1zM7 0h1v1h-1zM0 1h1v1h-1zM4 2h2v1h-2zM17 2h1v1h-1zM0 4h1v1h-1zM2 4h1v1h-1zM7 4h1v1h-1zM9 4h1v1h-1zM2 5h1v1h-1zM7 5h1v1h-1zM0 7h1v1h-1zM4 7h2v1h-2zM4 9h1v1h-1zM2 17h1v1h-1zM20 17h1v1h-1zM19 18h1v1h-1zM24 18h1v1h-1zM18 19h1v1h-1zM21 19h1v1h-1zM24 19h2v1h-2zM17 20h1v1h-1zM21 20h1v1h-1zM24 20h1v1h-1zM19 21h2v1h-2zM22 21h1v1h-1zM25 21h1v1h-1zM21 22h1v1h-1zM23 22h1v1h-1zM22 23h1v1h-1zM18 24h3v1h-3zM19 25h1v1h-1zM21 25h1v1h-1zM32 26h2v1h-2zM28 27h1v1h-1zM33 27h1v1h-1zM27 28h1v1h-1zM30 28h1v1h-1zM30 29h1v1h-1zM28 30h2v1h-2zM26 32h1v1h-1zM26 33h2v1h-2zM37 36h1v1h-1zM36 37h1v1h-1zM44 41h1v1h-1zM49 41h2v1h-2zM43 42h1v1h-1zM45 42h2v1h-2zM52 42h1v1h-1zM42 43h1v1h-1zM51 43h1v1h-1zM41 44h1v1h-1zM50 44h1v1h-1zM42 45h1v1h-1zM42 46h1v1h-1zM49 46h1v1h-1zM52 46h1v1h-1zM52 48h1v1h-1zM41 49h1v1h-1zM46 49h1v1h-1zM41 50h1v1h-1zM44 50h1v1h-1zM52 50h1v1h-1zM43 51h1v1h-1zM52 51h1v1h-1zM42 52h1v1h-1zM46 52h1v1h-1zM48 52h1v1h-1zM50 52h2v1h-2zM55 54h1v1h-1zM58 54h3v1h-3zM67 54h1v1h-1zM71 54h2v1h-2zM80 54h1v1h-1zM84 54h1v1h-1zM54 55h1v1h-1zM64 55h1v1h-1zM67 55h2v1h-2zM72 55h1v1h-1zM74 55h1v1h-1zM78 55h1v1h-1zM85 55h1v1h-1zM58 56h1v1h-1zM60 56h1v1h-1zM64 56h3v1h-3zM73 56h2v1h-2zM79 56h1v1h-1zM63 57h1v1h-1zM65 57h1v1h-1zM71 57h1v1h-1zM74 57h1v1h-1zM77 57h1v1h-1zM54 58h1v1h-1zM56 58h1v1h-1zM63 58h1v1h-1zM71 58h2v1h-2zM75 58h1v1h-1zM77 58h1v1h-1zM79 58h1v1h-1zM81 58h1v1h-1zM54 59h1v1h-1zM64 59h1v1h-1zM69 59h2v1h-2zM79 59h1v1h-1zM83 59h3v1h-3zM54 60h1v1h-1zM56 60h1v1h-1zM61 60h1v1h-1zM65 60h1v1h-1zM68 60h1v1h-1zM70 60h1v1h-1zM78 60h1v1h-1zM82 60h1v1h-1zM85 60h1v1h-1zM60 61h1v1h-1zM65 61h1v1h-1zM68 61h1v1h-1zM73 61h2v1h-2zM80 61h1v1h-1zM63 62h1v1h-1zM65 62h1v1h-1zM75 62h1v1h-1zM57 63h2v1h-2zM62 63h1v1h-1zM65 63h1v1h-1zM72 63h1v1h-1zM55 64h2v1h-2zM59 64h1v1h-1zM66 64h1v1h-1zM68 64h2v1h-2zM71 64h1v1h-1zM75 64h3v1h-3zM85 64h1v1h-1zM56 65h2v1h-2zM60 65h4v1h-4zM66 65h1v1h-1zM69 65h1v1h-1zM72 65h1v1h-1zM76 65h1v1h-1zM82 65h1v1h-1zM56 66h1v1h-1zM64 66h2v1h-2zM68 66h1v1h-1zM76 66h1v1h-1zM80 66h1v1h-1zM85 66h1v1h-1zM54 67h2v1h-2zM82 67h1v1h-1zM84 67h1v1h-1zM55 68h1v1h-1zM60 68h2v1h-2zM64 68h1v1h-1zM66 68h1v1h-1zM75 68h1v1h-1zM81 68h1v1h-1zM59 69h1v1h-1zM64 69h2v1h-2zM72 69h1v1h-1zM59 70h2v1h-2zM73 70h1v1h-1zM84 70h1v1h-1zM54 71h1v1h-1zM57 71h2v1h-2zM64 71h1v1h-1zM72 71h1v1h-1zM75 71h2v1h-2zM78 71h1v1h-1zM81 71h1v1h-1zM54 72h2v1h-2zM58 72h1v1h-1zM63 72h1v1h-1zM65 72h1v1h-1zM69 72h1v1h-1zM71 72h1v1h-1zM79 72h1v1h-1zM84 72h2v1h-2zM56 73h1v1h-1zM61 73h1v1h-1zM70 73h1v1h-1zM79 73h2v1h-2zM55 74h3v1h-3zM61 74h1v1h-1zM78 74h1v1h-1zM82 74h1v1h-1zM84 74h2v1h-2zM58 75h1v1h-1zM62 75h1v1h-1zM64 75h1v1h-1zM68 75h1v1h-1zM71 75h1v1h-1zM76 75h1v1h-1zM85 75h1v1h-1zM64 76h3v1h-3zM71 76h1v1h-1zM75 76h1v1h-1zM57 77h2v1h-2zM64 77h1v1h-1zM78 77h3v1h-3zM83 77h1v1h-1zM55 78h1v1h-1zM60 78h1v1h-1zM71 78h1v1h-1zM74 78h1v1h-1zM77 78h1v1h-1zM84 78h1v1h-1zM56 79h1v1h-1zM58 79h2v1h-2zM72 79h2v1h-2zM77 79h1v1h-1zM85 79h1v1h-1zM54 80h1v1h-1zM61 80h1v1h-1zM66 80h1v1h-1zM73 80h1v1h-1zM77 80h1v1h-1zM82 80h1v1h-1zM58 81h1v1h-1zM68 81h1v1h-1zM71 81h1v1h-1zM85 81h1v1h-1zM60 82h1v1h-1zM65 82h1v1h-1zM67 82h1v1h-1zM74 82h1v1h-1zM80 82h1v1h-1zM83 82h1v1h-1zM59 83h1v1h-1zM77 83h1v1h-1zM82 83h1v1h-1zM85 83h1v1h-1zM54 84h1v1h-1zM59 84h1v1h-1zM67 84h1v1h-1zM70 84h1v1h-1zM72 84h1v1h-1zM74 84h1v1h-1zM78 84h1v1h-1zM55 85h1v1h-1zM59 85h2v1h-2zM64 85h1v1h-1zM66 85h1v1h-1zM72 85h1v1h-1zM74 85h2v1h-2zM79 85h1v1h-1zM81 85h1v1h-1zM83 85h1v1h-1zM87 86h1v1h-1zM91 86h1v1h-1zM86 87h1v1h-1zM89 88h2v1h-2zM94 88h1v1h-1zM88 89h1v1h-1zM90 89h2v1h-2zM94 89h2v1h-2zM88 90h2v1h-2zM86 91h1v1h-1zM89 91h1v1h-1zM94 91h1v1h-1zM94 92h1v1h-1zM88 94h2v1h-2zM91 94h2v1h-2zM95 94h1v1h-1zM89 95h1v1h-1zM94 95h1v1h-1z"/>
<path fill="rgb(215, 69, 51)" d="M9 7h1v1h-1zM7 9h1v1h-1zM21 18h1v1h-1zM23 18h1v1h-1zM18 21h1v1h-1zM25 22h1v1h-1zM18 23h1v1h-1zM22 25h1v1h-1zM30 26h1v1h-1zM30 27h1v1h-1zM32 27h1v1h-1zM31 29h3v1h-3zM26 30h2v1h-2zM31 30h3v1h-3zM29 31h2v1h-2zM32 31h1v1h-1zM27 32h1v1h-1zM29 32h3v1h-3zM29 33h2v1h-2zM42 41h1v1h-1zM46 41h1v1h-1zM52 41h2v1h-2zM41 42h1v1h-1zM44 42h1v1h-1zM46 43h1v1h-1zM49 43h1v1h-1zM42 44h1v1h-1zM47 44h1v1h-1zM46 45h1v1h-1zM52 45h2v1h-2zM41 46h1v1h-1zM43 46h1v1h-1zM45 46h1v1h-1zM44 47h1v1h-1zM51 47h1v1h-1zM43 49h1v1h-1zM53 49h1v1h-1zM51 50h1v1h-1zM47 51h1v1h-1zM50 51h1v1h-1zM53 51h1v1h-1zM41 52h1v1h-1zM45 52h1v1h-1zM53 52h1v1h-1zM41 53h1v1h-1zM45 53h1v1h-1zM49 53h1v1h-1zM51 53h2v1h-2zM62 54h1v1h-1zM64 54h1v1h-1zM77 54h1v1h-1zM83 54h1v1h-1zM60 55h1v1h-1zM63 55h1v1h-1zM66 55h1v1h-1zM69 55h1v1h-1zM73 55h1v1h-1zM83 55h1v1h-1zM63 56h1v1h-1zM83 56h1v1h-1zM58 57h1v1h-1zM60 57h3v1h-3zM64 57h1v1h-1zM69 57h2v1h-2zM75 57h2v1h-2zM81 57h1v1h-1zM83 57h1v1h-1zM57 58h1v1h-1zM64 58h1v1h-1zM84 58h1v1h-1zM60 59h1v1h-1zM66 59h3v1h-3zM72 59h3v1h-3zM55 60h1v1h-1zM57 60h1v1h-1zM59 60h1v1h-1zM74 60h1v1h-1zM76 60h2v1h-2zM57 61h1v1h-1zM62 61h1v1h-1zM66 61h2v1h-2zM54 62h1v1h-1zM57 62h1v1h-1zM61 62h1v1h-1zM68 62h3v1h-3zM77 62h1v1h-1zM79 62h3v1h-3zM85 62h1v1h-1zM55 63h2v1h-2zM64 63h1v1h-1zM69 63h1v1h-1zM74 63h1v1h-1zM76 63h1v1h-1zM83 63h1v1h-1zM54 64h1v1h-1zM57 64h2v1h-2zM63 64h1v1h-1zM65 64h1v1h-1zM73 64h2v1h-2zM79 64h1v1h-1zM83 64h1v1h-1zM64 65h1v1h-1zM70 65h1v1h-1zM75 65h1v1h-1zM77 65h1v1h-1zM81 65h1v1h-1zM83 65h1v1h-1zM55 66h1v1h-1zM59 66h1v1h-1zM61 66h1v1h-1zM71 66h2v1h-2zM77 66h1v1h-1zM79 66h1v1h-1zM83 66h2v1h-2zM59 67h1v1h-1zM61 67h1v1h-1zM71 67h1v1h-1zM75 67h1v1h-1zM79 67h1v1h-1zM85 67h1v1h-1zM87 67h1v1h-1zM59 68h1v1h-1zM62 68h1v1h-1zM69 68h1v1h-1zM72 68h1v1h-1zM77 68h1v1h-1zM84 68h1v1h-1zM55 69h1v1h-1zM57 69h1v1h-1zM62 69h2v1h-2zM68 69h1v1h-1zM76 69h1v1h-1zM79 69h1v1h-1zM83 69h1v1h-1zM57 70h1v1h-1zM62 70h1v1h-1zM65 70h1v1h-1zM71 70h1v1h-1zM74 70h1v1h-1zM66 71h2v1h-2zM70 71h1v1h-1zM59 72h1v1h-1zM66 72h1v1h-1zM68 72h1v1h-1zM74 72h1v1h-1zM83 72h1v1h-1zM55 73h1v1h-1zM59 73h1v1h-1zM64 73h1v1h-1zM76 73h2v1h-2zM81 73h1v1h-1zM84 73h1v1h-1zM59 74h2v1h-2zM63 74h2v1h-2zM70 74h1v1h-1zM72 74h1v1h-1zM83 74h1v1h-1zM57 75h1v1h-1zM65 75h1v1h-1zM67 75h1v1h-1zM83 75h1v1h-1zM57 76h1v1h-1zM60 76h1v1h-1zM63 76h1v1h-1zM69 76h1v1h-1zM73 76h1v1h-1zM79 76h1v1h-1zM54 77h1v1h-1zM60 77h1v1h-1zM62 77h1v1h-1zM65 77h2v1h-2zM68 77h1v1h-1zM73 77h1v1h-1zM62 79h1v1h-1zM64 79h1v1h-1zM66 79h2v1h-2zM69 79h1v1h-1zM76 79h1v1h-1zM62 80h1v1h-1zM57 81h1v1h-1zM62 81h1v1h-1zM65 81h1v1h-1zM73 81h1v1h-1zM54 83h4v1h-4zM63 83h4v1h-4zM69 83h1v1h-1zM72 83h1v1h-1zM74 83h2v1h-2zM58 84h1v1h-1zM66 84h1v1h-1zM68 84h1v1h-1zM73 84h1v1h-1zM62 85h1v1h-1zM67 85h1v1h-1zM95 86h1v1h-1zM67 87h1v1h-1zM89 87h1v1h-1zM87 89h1v1h-1zM92 89h1v1h-1zM93 90h1v1h-1zM95 91h1v1h-1zM89 92h1v1h-1zM90 93h1v1h-1zM94 93h2v1h-2zM93 94h1v1h-1zM86 95h1v1h-1zM91 95h1v1h-1zM93 95h1v1h-1z"/>
<path fill="rgb(209, 55, 44)" d="M0 0h1v1h-1zM1 1h1v1h-1zM2 2h1v1h-1zM3 3h1v1h-1zM4 4h1v1h-1zM5 5h1v1h-1zM6 6h1v1h-1zM7 7h1v1h-1zM8 8h1v1h-1zM9 9h1v1h-1zM10 10h1v1h-1zM11 11h1v1h-1zM12 12h1v1h-1zM13 13h1v1h-1zM14 14h1v1h-1zM15 15h1v1h-1zM16 16h1v1h-1zM17 17h1v1h-1zM18 18h1v1h-1zM20 18h1v1h-1zM22 18h1v1h-1zM19 19h2v1h-2zM22 19h1v1h-1zM18 20h3v1h-3zM22 20h2v1h-2zM25 20h1v1h-1zM21 21h1v1h-1zM18 22h3v1h-3zM22 22h1v1h-1zM20 23h1v1h-1zM23 23h1v1h-1zM24 24h1v1h-1zM20 25h1v1h-1zM25 25h1v1h-1zM26 26h4v1h-4zM26 27h2v1h-2zM29 27h1v1h-1zM31 27h1v1h-1zM26 28h1v1h-1zM28 28h2v1h-2zM26 29h4v1h-4zM30 30h1v1h-1zM27 31h1v1h-1zM31 31h1v1h-1zM32 32h1v1h-1zM33 33h1v1h-1zM34 34h1v1h-1zM35 35h1v1h-1zM36 36h1v1h-1zM37 37h1v1h-1zM38 38h1v1h-1zM39 39h1v1h-1zM40 40h1v1h-1zM41 41h1v1h-1zM43 41h1v1h-1zM45 41h1v1h-1zM47 41h1v1h-1zM42 42h1v1h-1zM47 42h2v1h-2zM50 42h1v1h-1zM53 42h1v1h-1zM41 43h1v1h-1zM43 43h3v1h-3zM47 43h2v1h-2zM50 43h1v1h-1zM52 43h2v1h-2zM43 44h2v1h-2zM48 44h1v1h-1zM52 44h1v1h-1zM41 45h1v1h-1zM43 45h1v1h-1zM45 45h1v1h-1zM47 45h2v1h-2zM50 45h1v1h-1zM46 46h3v1h-3zM50 46h1v1h-1zM41 47h3v1h-3zM45 47h4v1h-4zM50 47h1v1h-1zM52 47h2v1h-2zM42 48h10v1h-10zM53 48h1v1h-1zM48 49h3v1h-3zM42 50h2v1h-2zM45 50h6v1h-6zM53 50h1v1h-1zM48 51h1v1h-1zM51 51h1v1h-1zM43 52h2v1h-2zM47 52h1v1h-1zM52 52h1v1h-1zM42 53h2v1h-2zM47 53h2v1h-2zM50 53h1v1h-1zM53 53h1v1h-1zM54 54h1v1h-1zM55 55h1v1h-1zM57 55h2v1h-2zM62 55h1v1h-1zM56 56h1v1h-1zM55 57h1v1h-1zM57 57h1v1h-1zM59 57h1v1h-1zM66 57h3v1h-3zM72 57h2v1h-2zM79 57h1v1h-1zM55 58h1v1h-1zM58 58h3v1h-3zM62 58h1v1h-1zM65 58h5v1h-5zM73 58h2v1h-2zM76 58h1v1h-1zM83 58h1v1h-1zM57 59h3v1h-3zM61 59h2v1h-2zM71 59h1v1h-1zM77 59h1v1h-1zM58 60h1v1h-1zM60 60h1v1h-1zM62 60h3v1h-3zM66 60h2v1h-2zM69 60h1v1h-1zM71 60h3v1h-3zM79 60h2v1h-2zM83 60h1v1h-1zM59 61h1v1h-1zM61 61h1v1h-1zM83 61h1v1h-1zM55 62h1v1h-1zM58 62h3v1h-3zM62 62h1v1h-1zM64 62h1v1h-1zM66 62h2v1h-2zM72 62h3v1h-3zM83 62h1v1h-1zM60 63h1v1h-1zM63 63h1v1h-1zM66 63h2v1h-2zM71 63h1v1h-1zM73 63h1v1h-1zM77 63h1v1h-1zM79 63h1v1h-1zM60 64h1v1h-1zM62 64h1v1h-1zM64 64h1v1h-1zM67 64h1v1h-1zM72 64h1v1h-1zM58 65h1v1h-1zM65 65h1v1h-1zM67 65h1v1h-1zM73 65h1v1h-1zM57 66h2v1h-2zM60 66h1v1h-1zM62 66h2v1h-2zM66 66h2v1h-2zM69 66h1v1h-1zM73 66h2v1h-2zM57 67h2v1h-2zM60 67h1v1h-1zM62 67h6v1h-6zM72 67h3v1h-3zM76 67h2v1h-2zM83 67h1v1h-1zM57 68h2v1h-2zM68 68h1v1h-1zM73 68h2v1h-2zM58 69h1v1h-1zM60 69h1v1h-1zM66 69h1v1h-1zM69 69h1v1h-1zM71 69h1v1h-1zM73 69h3v1h-3zM77 69h1v1h-1zM70 70h1v1h-1zM59 71h2v1h-2zM63 71h1v1h-1zM69 71h1v1h-1zM71 71h1v1h-1zM73 71h2v1h-2zM77 71h1v1h-1zM83 71h1v1h-1zM57 72h1v1h-1zM60 72h1v1h-1zM62 72h1v1h-1zM64 72h1v1h-1zM67 72h1v1h-1zM72 72h2v1h-2zM77 72h1v1h-1zM57 73h2v1h-2zM60 73h1v1h-1zM62 73h2v1h-2zM65 73h5v1h-5zM71 73h4v1h-4zM83 73h1v1h-1zM58 74h1v1h-1zM62 74h1v1h-1zM66 74h4v1h-4zM71 74h1v1h-1zM73 74h5v1h-5zM69 75h1v1h-1zM74 75h2v1h-2zM58 76h1v1h-1zM67 76h1v1h-1zM74 76h1v1h-1zM76 76h1v1h-1zM59 77h1v1h-1zM63 77h1v1h-1zM67 77h1v1h-1zM69 77h1v1h-1zM71 77h2v1h-2zM74 77h1v1h-1zM77 77h1v1h-1zM78 78h1v1h-1zM57 79h1v1h-1zM60 79h1v1h-1zM63 79h1v1h-1zM79 79h1v1h-1zM60 80h1v1h-1zM80 80h1v1h-1zM81 81h1v1h-1zM82 82h1v1h-1zM58 83h1v1h-1zM60 83h3v1h-3zM67 83h1v1h-1zM71 83h1v1h-1zM73 83h1v1h-1zM83 83h1v1h-1zM84 84h1v1h-1zM85 85h1v1h-1zM86 86h1v1h-1zM87 87h1v1h-1zM90 87h4v1h-4zM95 87h1v1h-1zM88 88h1v1h-1zM89 89h1v1h-1zM93 89h1v1h-1zM87 90h1v1h-1zM90 90h3v1h-3zM87 91h1v1h-1zM90 91h4v1h-4zM87 92h1v1h-1zM90 92h4v1h-4zM95 92h1v1h-1zM87 93h1v1h-1zM89 93h1v1h-1zM91 93h3v1h-3zM94 94h1v1h-1zM87 95h1v1h-1zM92 95h1v1h-1zM95 95h1v1h-1z"/>
</g>
<path d="M1272.4 304.0V280.1H1274.6V304.0M1273.5 280.1V278.0H1276.9V304.0M1275.2 278.0V272.6H1279.1V304.0M1270.1 304.0V259.1H1277.1V272.6M1281.4 304.0V270.8H1283.6V304.0M1288.1 304.0V278.4H1290.3V304.0M1285.9 304.0V270.0H1289.2V278.4M1282.5 270.8V249.2H1287.5V270.0M1273.6 259.1V236.1H1285.0V249.2M1292.6 304.0V254.9H1294.8V304.0M1299.3 304.0V275.5H1301.6V304.0M1300.5 275.5V271.7H1303.8V304.0M1297.1 304.0V257.6H1302.1V271.7M1293.7 254.9V251.1H1299.6V257.6M1308.3 304.0V273.1H1310.6V304.0M1309.5 273.1V261.7H1312.8V304.0M1306.1 304.0V257.1H1311.1V261.7M1308.6 257.1V250.6H1315.1V304.0M1296.7 251.1V238.8H1311.8V250.6M1279.3 236.1V217.5H1304.3V238.8M1317.3 304.0V274.3H1319.6V304.0M1324.1 304.0V277.3H1326.3V304.0M1321.8 304.0V274.3H1325.2V277.3M1318.4 274.3V269.6H1323.5V274.3M1330.8 304.0V278.3H1333.0V304.0M1328.6 304.0V276.3H1331.9V278.3M1321.0 269.6V266.4H1330.2V276.3M1337.5 304.0V280.5H1339.8V304.0M1335.3 304.0V277.5H1338.7V280.5M1337.0 277.5V271.6H1342.0V304.0M1325.6 266.4V260.6H1339.5V271.6M1344.3 304.0V276.5H1346.5V304.0M1348.8 304.0V275.9H1351.0V304.0M1345.4 276.5V272.9H1349.9V275.9M1355.5 304.0V270.7H1357.8V304.0M1353.3 304.0V264.6H1356.6V270.7M1347.7 272.9V261.0H1355.0V264.6M1332.6 260.6V236.1H1351.3V261.0M1360.0 304.0V246.8H1362.3V304.0M1366.8 304.0V275.5H1369.0V304.0M1364.5 304.0V267.9H1367.9V275.5M1373.5 304.0V264.8H1375.8V304.0M1371.3 304.0V260.6H1374.6V264.8M1366.2 267.9V252.1H1372.9V260.6M1361.1 246.8V241.7H1369.6V252.1M1380.2 304.0V265.4H1382.5V304.0M1378.0 304.0V252.3H1381.4V265.4M1365.4 241.7V234.1H1379.7V252.3M1341.9 236.1V205.5H1372.5V234.1M1291.8 217.5V177.5H1357.2V205.5M1387.0 304.0V274.9H1389.2V304.0M1384.7 304.0V268.1H1388.1V274.9M1391.5 304.0V265.4H1393.7V304.0M1392.6 265.4V258.2H1396.0V304.0M1398.2 304.0V277.1H1400.5V304.0M1399.3 277.1V273.6H1402.7V304.0M1401.0 273.6V265.6H1405.0V304.0M1394.3 258.2V254.7H1403.0V265.6M1386.4 268.1V244.7H1398.6V254.7M1407.2 304.0V258.6H1409.5V304.0M1408.3 258.6V246.5H1411.7V304.0M1392.5 244.7V231.4H1410.0V246.5M1414.0 304.0V274.4H1416.2V304.0M1415.1 274.4V264.9H1418.5V304.0M1420.7 304.0V273.7H1422.9V304.0M1425.2 304.0V278.2H1427.4V304.0M1421.8 273.7V266.2H1426.3V278.2M1416.8 264.9V259.4H1424.1V266.2M1431.9 304.0V274.7H1434.2V304.0M1429.7 304.0V259.3H1433.1V274.7M1420.4 259.4V251.0H1431.4V259.3M1436.4 304.0V262.4H1438.7V304.0M1440.9 304.0V261.2H1443.2V304.0M1437.6 262.4V256.0H1442.0V261.2M1447.7 304.0V274.5H1449.9V304.0M1448.8 274.5V270.4H1452.2V304.0M1445.4 304.0V260.0H1450.5V270.4M1439.8 256.0V250.3H1447.9V260.0M1425.9 251.0V237.8H1443.9V250.3M1401.3 231.4V212.0H1434.9V237.8M1454.4 304.0V278.3H1456.7V304.0M1458.9 304.0V276.1H1461.2V304.0M1460.0 276.1V267.5H1463.4V304.0M1455.5 278.3V262.9H1461.7V267.5M1467.9 304.0V268.5H1470.1V304.0M1465.6 304.0V256.7H1469.0V268.5M1458.6 262.9V250.1H1467.3V256.7M1474.6 304.0V282.2H1476.9V304.0M1472.4 304.0V275.8H1475.8V282.2M1481.4 304.0V280.1H1483.6V304.0M1479.1 304.0V275.4H1482.5V280.1M1474.1 275.8V272.8H1480.8V275.4M1485.9 304.0V274.9H1488.1V304.0M1492.6 304.0V277.7H1494.9V304.0M1490.4 304.0V273.9H1493.7V277.7M1487.0 274.9V270.9H1492.1V273.9M1499.4 304.0V277.7H1501.6V304.0M1497.1 304.0V271.7H1500.5V277.7M1503.8 304.0V276.8H1506.1V304.0M1505.0 276.8V271.0H1508.3V304.0M1498.8 271.7V267.8H1506.7V271.0M1489.5 270.9V264.8H1502.7V267.8M1477.4 272.8V255.7H1496.1V264.8M1463.0 250.1V232.0H1486.8V255.7M1418.1 212.0V198.0H1474.9V232.0M1510.6 304.0V282.0H1512.8V304.0M1511.7 282.0V279.0H1515.1V304.0M1517.3 304.0V276.3H1519.6V304.0M1513.4 279.0V268.1H1518.5V276.3M1524.1 304.0V278.7H1526.3V304.0M1521.8 304.0V268.8H1525.2V278.7M1515.9 268.1V250.4H1523.5V268.8M1528.6 304.0V273.3H1530.8V304.0M1535.3 304.0V279.0H1537.6V304.0M1533.1 304.0V274.7H1536.4V279.0M1534.8 274.7V266.0H1539.8V304.0M1529.7 273.3V261.7H1537.3V266.0M1546.5 304.0V267.5H1548.8V304.0M1544.3 304.0V261.8H1547.7V267.5M1542.1 304.0V258.2H1546.0V261.8M1533.5 261.7V251.8H1544.0V258.2M1519.7 250.4V235.4H1538.8V251.8M1555.5 304.0V277.8H1557.8V304.0M1553.3 304.0V274.8H1556.7V277.8M1551.0 304.0V271.8H1555.0V274.8M1560.0 304.0V278.9H1562.3V304.0M1561.2 278.9V273.5H1564.5V304.0M1553.0 271.8V268.4H1562.8V273.5M1571.3 304.0V282.1H1573.5V304.0M1569.0 304.0V279.1H1572.4V282.1M1566.8 304.0V276.1H1570.7V279.1M1557.9 268.4V264.5H1568.7V276.1M1575.8 304.0V277.6H1578.0V304.0M1580.3 304.0V277.7H1582.5V304.0M1581.4 277.7V274.7H1584.8V304.0M1576.9 277.6V271.7H1583.1V274.7M1563.3 264.5V260.6H1580.0V271.7M1587.0 304.0V275.7H1589.2V304.0M1591.5 304.0V280.6H1593.7V304.0M1596.0 304.0V278.6H1598.2V304.0M1592.6 280.6V275.6H1597.1V278.6M1588.1 275.7V272.6H1594.9V275.6M1600.5 304.0V276.7H1602.7V304.0M1591.5 272.6V268.9H1601.6V276.7M1605.0 304.0V269.9H1607.2V304.0M1606.1 269.9V263.9H1609.5V304.0M1596.6 268.9V259.7H1607.8V263.9M1571.7 260.6V249.5H1602.2V259.7M1529.2 235.4V227.8H1586.9V249.5M1614.0 304.0V277.8H1616.2V304.0M1611.7 304.0V274.8H1615.1V277.8M1613.4 274.8V272.5H1618.5V304.0M1620.7 304.0V280.6H1623.0V304.0M1621.8 280.6V277.6H1625.2V304.0M1615.9 272.5V264.0H1623.5V277.6M1627.5 304.0V276.6H1629.7V304.0M1632.0 304.0V279.0H1634.2V304.0M1636.4 304.0V279.0H1638.7V304.0M1633.1 279.0V276.0H1637.6V279.0M1628.6 276.6V271.2H1635.3V276.0M1643.2 304.0V276.7H1645.4V304.0M1640.9 304.0V273.7H1644.3V276.7M1647.7 304.0V275.0H1649.9V304.0M1648.8 275.0V268.9H1652.2V304.0M1642.6 273.7V266.0H1650.5V268.9M1632.0 271.2V263.0H1646.6V266.0M1619.7 264.0V239.9H1639.3V263.0M1558.1 227.8V221.5H1629.5V239.9M1654.4 304.0V257.9H1656.7V304.0M1655.5 257.9V246.8H1658.9V304.0M1661.2 304.0V271.9H1663.4V304.0M1667.9 304.0V276.6H1670.2V304.0M1665.7 304.0V272.9H1669.0V276.6M1662.3 271.9V269.5H1667.3V272.9M1674.7 304.0V280.5H1676.9V304.0M1672.4 304.0V265.9H1675.8V280.5M1664.8 269.5V255.6H1674.1V265.9M1657.2 246.8V223.8H1669.5V255.6M1679.1 304.0V256.9H1681.4V304.0M1683.6 304.0V261.4H1685.9V304.0M1684.8 261.4V253.9H1688.1V304.0M1692.6 304.0V268.7H1694.9V304.0M1690.4 304.0V257.2H1693.8V268.7M1686.4 253.9V250.1H1692.1V257.2M1680.3 256.9V235.0H1689.3V250.1M1663.3 223.8V210.0H1684.8V235.0M1593.8 221.5V182.5H1674.1V210.0M1446.5 198.0V165.5H1633.9V182.5M1324.5 177.5V133.7H1540.2V165.5" fill="none" stroke="#1e1e1e" stroke-width="3.1" stroke-linejoin="round"/>
<path d="M1266.5 310.7H1242.4V313.6H1266.5M1266.5 307.9H1239.4V312.2H1242.4M1266.5 316.4H1240.3V319.2H1266.5M1239.4 310.0H1236.4V317.8H1240.3M1266.5 324.9H1240.4V327.7H1266.5M1266.5 322.1H1237.9V326.3H1240.4M1237.9 324.2H1234.9V330.6H1266.5M1234.9 327.4H1230.9V333.4H1266.5M1236.4 313.9H1227.9V330.4H1230.9M1266.5 339.1H1245.8V341.9H1266.5M1266.5 336.2H1239.4V340.5H1245.8M1239.4 338.4H1235.1V344.7H1266.5M1227.9 322.2H1222.2V341.5H1235.1M1266.5 347.6H1236.3V350.4H1266.5M1236.3 349.0H1226.7V353.2H1266.5M1266.5 356.1H1236.7V358.9H1266.5M1236.7 357.5H1219.4V361.7H1266.5M1226.7 351.1H1200.3V359.6H1219.4M1222.2 331.9H1193.8V355.3H1200.3M1266.5 364.5H1231.2V367.4H1266.5M1266.5 370.2H1234.1V373.0H1266.5M1234.1 371.6H1228.7V375.9H1266.5M1231.2 366.0H1225.0V373.8H1228.7M1266.5 378.7H1241.2V381.5H1266.5M1241.2 380.1H1226.4V384.4H1266.5M1226.4 382.2H1221.1V387.2H1266.5M1225.0 369.9H1197.6V384.7H1221.1M1266.5 390.0H1234.9V392.9H1266.5M1266.5 395.7H1235.4V398.5H1266.5M1234.9 391.4H1218.5V397.1H1235.4M1266.5 401.4H1214.0V404.2H1266.5M1218.5 394.3H1199.1V402.8H1214.0M1197.6 377.3H1188.2V398.5H1199.1M1193.8 343.6H1180.5V387.9H1188.2M1266.5 407.0H1223.4V409.9H1266.5M1266.5 412.7H1242.0V415.5H1266.5M1242.0 414.1H1234.8V418.3H1266.5M1266.5 421.2H1241.3V424.0H1266.5M1241.3 422.6H1239.1V426.8H1266.5M1234.8 416.2H1229.7V424.7H1239.1M1223.4 408.4H1210.0V420.5H1229.7M1266.5 429.7H1231.2V432.5H1266.5M1266.5 435.3H1232.4V438.2H1266.5M1231.2 431.1H1219.9V436.8H1232.4M1210.0 414.5H1191.2V433.9H1219.9M1266.5 443.8H1233.1V446.7H1266.5M1266.5 441.0H1213.4V445.2H1233.1M1213.4 443.1H1200.7V449.5H1266.5M1191.2 424.2H1169.5V446.3H1200.7M1180.5 365.8H1138.0V435.2H1169.5M1266.5 452.3H1238.3V455.2H1266.5M1238.3 453.7H1231.8V458.0H1266.5M1266.5 460.8H1240.1V463.7H1266.5M1240.1 462.2H1232.2V466.5H1266.5M1231.8 455.9H1222.6V464.4H1232.2M1266.5 469.3H1238.1V472.1H1266.5M1238.1 470.7H1235.0V475.0H1266.5M1235.0 472.9H1232.1V477.8H1266.5M1266.5 480.6H1231.9V483.5H1266.5M1232.1 475.3H1227.5V482.1H1231.9M1222.6 460.1H1215.1V478.7H1227.5M1266.5 486.3H1237.6V489.1H1266.5M1237.6 487.7H1232.0V492.0H1266.5M1266.5 494.8H1232.6V497.6H1266.5M1232.0 489.8H1224.4V496.2H1232.6M1266.5 500.5H1239.6V503.3H1266.5M1266.5 506.1H1239.2V509.0H1266.5M1239.6 501.9H1232.7V507.5H1239.2M1224.4 493.0H1216.2V504.7H1232.7M1215.1 469.4H1206.1V498.9H1216.2M1266.5 514.6H1231.6V517.5H1266.5M1266.5 511.8H1220.2V516.0H1231.6M1266.5 520.3H1240.7V523.1H1266.5M1266.5 525.9H1235.9V528.8H1266.5M1240.7 521.7H1231.5V527.4H1235.9M1266.5 534.4H1243.1V537.3H1266.5M1266.5 531.6H1238.0V535.9H1243.1M1231.5 524.5H1219.1V533.7H1238.0M1220.2 513.9H1194.6V529.1H1219.1M1206.1 484.1H1182.5V521.5H1194.6M1266.5 540.1H1233.9V542.9H1266.5M1266.5 545.8H1242.5V548.6H1266.5M1266.5 551.4H1237.2V554.3H1266.5M1242.5 547.2H1234.2V552.8H1237.2M1233.9 541.5H1225.0V550.0H1234.2M1266.5 557.1H1220.2V559.9H1266.5M1225.0 545.8H1214.7V558.5H1220.2M1266.5 562.8H1226.6V565.6H1266.5M1266.5 568.4H1243.6V571.3H1266.5M1243.6 569.8H1236.5V574.1H1266.5M1226.6 564.2H1223.3V572.0H1236.5M1266.5 576.9H1243.8V579.7H1266.5M1243.8 578.3H1237.5V582.6H1266.5M1266.5 585.4H1233.3V588.2H1266.5M1237.5 580.5H1218.4V586.8H1233.3M1223.3 568.1H1203.6V583.6H1218.4M1214.7 552.1H1186.4V575.9H1203.6M1266.5 591.1H1225.6V593.9H1266.5M1225.6 592.5H1202.5V596.7H1266.5M1266.5 599.6H1220.3V602.4H1266.5M1266.5 605.2H1216.2V608.1H1266.5M1220.3 601.0H1201.6V606.6H1216.2M1202.5 594.6H1186.6V603.8H1201.6M1186.4 564.0H1174.5V599.2H1186.6M1182.5 502.8H1161.5V581.6H1174.5M1266.5 610.9H1237.4V613.7H1266.5M1266.5 616.6H1241.7V619.4H1266.5M1237.4 612.3H1233.8V618.0H1241.7M1266.5 622.2H1236.9V625.1H1266.5M1233.8 615.1H1230.8V623.6H1236.9M1266.5 627.9H1238.4V630.7H1266.5M1266.5 633.5H1245.9V636.4H1266.5M1245.9 635.0H1241.7V639.2H1266.5M1266.5 642.0H1239.3V644.9H1266.5M1241.7 637.1H1236.3V643.5H1239.3M1238.4 629.3H1232.7V640.3H1236.3M1230.8 619.4H1227.8V634.8H1232.7M1266.5 647.7H1245.4V650.5H1266.5M1266.5 653.4H1243.2V656.2H1266.5M1245.4 649.1H1234.4V654.8H1243.2M1266.5 659.0H1240.2V661.9H1266.5M1234.4 652.0H1230.8V660.4H1240.2M1266.5 667.5H1241.2V670.4H1266.5M1266.5 664.7H1238.7V668.9H1241.2M1266.5 673.2H1240.5V676.0H1266.5M1238.7 666.8H1235.6V674.6H1240.5M1230.8 656.2H1227.8V670.7H1235.6M1227.8 627.1H1224.8V663.5H1227.8M1266.5 678.9H1241.0V681.7H1266.5M1266.5 684.5H1239.0V687.3H1266.5M1241.0 680.3H1231.7V685.9H1239.0M1266.5 690.2H1239.8V693.0H1266.5M1239.8 691.6H1235.6V695.8H1266.5M1266.5 701.5H1243.3V704.3H1266.5M1243.3 702.9H1240.1V707.2H1266.5M1266.5 698.7H1233.4V705.0H1240.1M1235.6 693.7H1227.8V701.9H1233.4M1231.7 683.1H1223.5V697.8H1227.8M1224.8 645.3H1216.3V690.4H1223.5M1266.5 712.8H1242.6V715.7H1266.5M1266.5 710.0H1236.7V714.2H1242.6M1266.5 718.5H1241.6V721.3H1266.5M1236.7 712.1H1231.7V719.9H1241.6M1266.5 724.2H1227.8V727.0H1266.5M1227.8 725.6H1218.9V729.8H1266.5M1231.7 716.0H1214.9V727.7H1218.9M1266.5 735.5H1245.7V738.3H1266.5M1266.5 732.7H1242.7V736.9H1245.7M1242.7 734.8H1239.7V741.1H1266.5M1266.5 744.0H1241.8V746.8H1266.5M1239.7 738.0H1236.7V745.4H1241.8M1266.5 755.3H1243.7V758.1H1266.5M1266.5 752.5H1240.7V756.7H1243.7M1266.5 749.6H1237.7V754.6H1240.7M1266.5 763.8H1243.0V766.6H1266.5M1266.5 761.0H1240.7V765.2H1243.0M1240.7 763.1H1237.7V769.5H1266.5M1237.7 752.1H1234.1V766.3H1237.7M1236.7 741.7H1223.7V759.2H1234.1M1266.5 775.1H1244.6V778.0H1266.5M1266.5 772.3H1234.1V776.5H1244.6M1266.5 783.6H1244.5V786.5H1266.5M1266.5 780.8H1241.5V785.0H1244.5M1241.5 782.9H1238.5V789.3H1266.5M1234.1 774.4H1227.1V786.1H1238.5M1223.7 750.4H1216.6V780.3H1227.1M1214.9 721.9H1205.0V765.3H1216.6M1216.3 667.9H1184.5V743.6H1205.0M1266.5 794.9H1230.3V797.8H1266.5M1266.5 792.1H1207.6V796.4H1230.3M1266.5 800.6H1238.2V803.4H1266.5M1238.2 802.0H1226.9V806.3H1266.5M1207.6 794.2H1202.6V804.2H1226.9M1266.5 809.1H1218.8V811.9H1266.5M1266.5 814.8H1236.8V817.6H1266.5M1266.5 820.4H1242.9V823.3H1266.5M1242.9 821.8H1239.9V826.1H1266.5M1266.5 828.9H1241.1V831.8H1266.5M1239.9 824.0H1233.5V830.3H1241.1M1236.8 816.2H1221.9V827.2H1233.5M1218.8 810.5H1201.3V821.7H1221.9M1266.5 834.6H1226.3V837.4H1266.5M1266.5 840.3H1228.2V843.1H1266.5M1226.3 836.0H1213.6V841.7H1228.2M1201.3 816.1H1180.9V838.8H1213.6M1202.6 799.2H1172.5V827.5H1180.9M1184.5 705.7H1144.5V813.3H1172.5M1161.5 542.2H1126.5V759.5H1144.5M1138.0 400.5H1095.7V650.9H1126.5" fill="none" stroke="#1e1e1e" stroke-width="3.1" stroke-linejoin="round"/>
<rect x="1269" y="283" width="427" height="21.5" fill="#161414"/><rect x="1251" y="306.5" width="16.5" height="538" fill="#161414"/>
<defs><linearGradient id="cbar" x1="0" y1="0" x2="0" y2="1"><stop offset="0" stop-color="rgb(205,55,50)"/><stop offset="0.25" stop-color="rgb(240,150,95)"/><stop offset="0.4" stop-color="rgb(252,215,125)"/><stop offset="0.5" stop-color="rgb(255,250,185)"/><stop offset="0.6" stop-color="rgb(232,244,240)"/><stop offset="0.75" stop-color="rgb(180,212,232)"/><stop offset="1" stop-color="rgb(80,108,168)"/></linearGradient></defs><rect x="1710.6" y="306" width="34.2" height="489.5" fill="url(#cbar)"/>
<rect x="1164.5" y="1271.3" width="665.4" height="330.3" fill="none" stroke="#262626" stroke-width="3"/>
<path d="M1242.7 1601.6V1623.1M1242.7 1271.3V1266.3M1377.0 1601.6V1623.1M1377.0 1271.3V1266.3M1511.3 1601.6V1623.1M1511.3 1271.3V1266.3M1645.7 1601.6V1623.1M1645.7 1271.3V1266.3M1780.0 1601.6V1623.1M1780.0 1271.3V1266.3M1164.5 1294.9H1146.5M1164.5 1360.5H1146.5M1164.5 1426.1H1146.5M1164.5 1491.7H1146.5M1164.5 1557.3H1146.5" stroke="#262626" stroke-width="3" fill="none"/>
<path d="M1168.3 1279V1594" stroke="#3a3636" stroke-width="5" stroke-dasharray="7 2 4 3 9 2" opacity="0.85"/>
<path d="M1674 1273.3V1599.6" stroke="#6a6a6a" stroke-width="2.2" stroke-dasharray="3 4"/>
<g fill="none" stroke-width="2.6" stroke-linejoin="round"><path d="M1188.1 1283.4 L1236.1 1305.4 L1284.1 1327.3 L1332.1 1349.2 L1380.1 1371.4 L1388.1 1375.4 L1396.1 1379.5 L1404.1 1383.5 L1412.1 1387.4 L1420.1 1391.0 L1428.1 1394.2 L1436.1 1396.9 L1444.1 1399.3 L1452.1 1401.4 L1460.1 1403.4 L1468.1 1405.3 L1476.1 1407.2 L1484.1 1408.9 L1492.1 1410.5 L1500.1 1411.9 L1508.1 1413.1 L1516.1 1414.1 L1524.1 1415.1 L1532.1 1416.0 L1540.1 1416.8 L1548.1 1417.5 L1556.1 1418.2 L1564.1 1418.9 L1572.1 1419.5 L1580.1 1420.0 L1588.1 1420.6 L1596.1 1421.0 L1604.1 1421.5 L1612.1 1422.0 L1620.1 1422.4 L1628.1 1422.8 L1636.1 1423.1 L1644.1 1423.5 L1652.1 1423.8 L1660.1 1424.1 L1668.1 1424.4 L1676.1 1424.6 L1684.1 1424.9 L1692.1 1425.1 L1700.1 1425.2 L1708.1 1425.4 L1716.1 1425.5 L1724.1 1425.6 L1732.1 1425.7 L1740.1 1425.8 L1748.1 1425.9 L1756.1 1425.9 L1764.1 1426.0 L1772.1 1426.0 L1780.1 1426.1 L1788.1 1426.1 L1796.1 1426.1 L1804.1 1426.1" stroke="#c62a93"/><path d="M1188.1 1290.1 L1236.1 1310.4 L1284.1 1330.6 L1332.1 1350.9 L1380.1 1371.3 L1388.1 1374.9 L1396.1 1378.6 L1404.1 1382.3 L1412.1 1386.1 L1420.1 1389.6 L1428.1 1392.9 L1436.1 1395.9 L1444.1 1398.3 L1452.1 1400.5 L1460.1 1402.5 L1468.1 1404.3 L1476.1 1406.1 L1484.1 1407.8 L1492.1 1409.5 L1500.1 1411.0 L1508.1 1412.3 L1516.1 1413.4 L1524.1 1414.4 L1532.1 1415.3 L1540.1 1416.1 L1548.1 1416.9 L1556.1 1417.6 L1564.1 1418.3 L1572.1 1418.9 L1580.1 1419.5 L1588.1 1420.0 L1596.1 1420.5 L1604.1 1421.0 L1612.1 1421.5 L1620.1 1421.9 L1628.1 1422.3 L1636.1 1422.7 L1644.1 1423.0 L1652.1 1423.3 L1660.1 1423.6 L1668.1 1423.9 L1676.1 1424.2 L1684.1 1424.5 L1692.1 1424.7 L1700.1 1424.9 L1708.1 1425.1 L1716.1 1425.3 L1724.1 1425.4 L1732.1 1425.5 L1740.1 1425.6 L1748.1 1425.7 L1756.1 1425.8 L1764.1 1425.9 L1772.1 1426.0 L1780.1 1426.0 L1788.1 1426.1 L1796.1 1426.1 L1804.1 1426.1" stroke="#dc5a78"/><path d="M1188.1 1294.5 L1236.1 1314.5 L1284.1 1334.4 L1332.1 1354.4 L1380.1 1374.5 L1388.1 1378.1 L1396.1 1381.8 L1404.1 1385.5 L1412.1 1389.1 L1420.1 1392.5 L1428.1 1395.6 L1436.1 1398.2 L1444.1 1400.5 L1452.1 1402.5 L1460.1 1404.3 L1468.1 1406.1 L1476.1 1407.8 L1484.1 1409.5 L1492.1 1411.0 L1500.1 1412.4 L1508.1 1413.5 L1516.1 1414.5 L1524.1 1415.4 L1532.1 1416.3 L1540.1 1417.1 L1548.1 1417.8 L1556.1 1418.4 L1564.1 1419.1 L1572.1 1419.6 L1580.1 1420.2 L1588.1 1420.7 L1596.1 1421.1 L1604.1 1421.6 L1612.1 1422.0 L1620.1 1422.4 L1628.1 1422.8 L1636.1 1423.1 L1644.1 1423.4 L1652.1 1423.7 L1660.1 1424.0 L1668.1 1424.3 L1676.1 1424.5 L1684.1 1424.8 L1692.1 1425.0 L1700.1 1425.2 L1708.1 1425.3 L1716.1 1425.4 L1724.1 1425.5 L1732.1 1425.7 L1740.1 1425.7 L1748.1 1425.8 L1756.1 1425.9 L1764.1 1426.0 L1772.1 1426.0 L1780.1 1426.1 L1788.1 1426.1 L1796.1 1426.1 L1804.1 1426.1" stroke="#3690d8"/><path d="M1188.1 1316.2 L1236.1 1332.5 L1284.1 1348.8 L1332.1 1365.1 L1380.1 1381.5 L1388.1 1384.3 L1396.1 1387.2 L1404.1 1390.3 L1412.1 1393.3 L1420.1 1396.2 L1428.1 1398.9 L1436.1 1401.3 L1444.1 1403.3 L1452.1 1405.1 L1460.1 1406.7 L1468.1 1408.2 L1476.1 1409.6 L1484.1 1411.0 L1492.1 1412.4 L1500.1 1413.6 L1508.1 1414.7 L1516.1 1415.6 L1524.1 1416.5 L1532.1 1417.2 L1540.1 1417.9 L1548.1 1418.5 L1556.1 1419.1 L1564.1 1419.7 L1572.1 1420.2 L1580.1 1420.6 L1588.1 1421.1 L1596.1 1421.5 L1604.1 1421.9 L1612.1 1422.2 L1620.1 1422.6 L1628.1 1422.9 L1636.1 1423.2 L1644.1 1423.5 L1652.1 1423.8 L1660.1 1424.0 L1668.1 1424.3 L1676.1 1424.5 L1684.1 1424.7 L1692.1 1424.9 L1700.1 1425.1 L1708.1 1425.2 L1716.1 1425.4 L1724.1 1425.5 L1732.1 1425.6 L1740.1 1425.7 L1748.1 1425.8 L1756.1 1425.9 L1764.1 1425.9 L1772.1 1426.0 L1780.1 1426.0 L1788.1 1426.1 L1796.1 1426.1 L1804.1 1426.1" stroke="#62bf50"/><path d="M1188.1 1341.9 L1236.1 1354.3 L1284.1 1366.8 L1332.1 1379.2 L1380.1 1391.8 L1388.1 1393.9 L1396.1 1396.2 L1404.1 1398.5 L1412.1 1400.8 L1420.1 1403.0 L1428.1 1405.1 L1436.1 1406.9 L1444.1 1408.5 L1452.1 1409.9 L1460.1 1411.2 L1468.1 1412.3 L1476.1 1413.4 L1484.1 1414.5 L1492.1 1415.5 L1500.1 1416.5 L1508.1 1417.3 L1516.1 1418.0 L1524.1 1418.7 L1532.1 1419.2 L1540.1 1419.8 L1548.1 1420.2 L1556.1 1420.7 L1564.1 1421.1 L1572.1 1421.5 L1580.1 1421.9 L1588.1 1422.2 L1596.1 1422.5 L1604.1 1422.8 L1612.1 1423.1 L1620.1 1423.4 L1628.1 1423.6 L1636.1 1423.9 L1644.1 1424.1 L1652.1 1424.3 L1660.1 1424.5 L1668.1 1424.7 L1676.1 1424.8 L1684.1 1425.0 L1692.1 1425.2 L1700.1 1425.3 L1708.1 1425.4 L1716.1 1425.5 L1724.1 1425.6 L1732.1 1425.7 L1740.1 1425.8 L1748.1 1425.8 L1756.1 1425.9 L1764.1 1426.0 L1772.1 1426.0 L1780.1 1426.1 L1788.1 1426.1 L1796.1 1426.1 L1804.1 1426.1" stroke="#dc5a78"/><path d="M1188.1 1343.9 L1236.1 1356.7 L1284.1 1369.6 L1332.1 1382.5 L1380.1 1395.6 L1388.1 1397.9 L1396.1 1400.3 L1404.1 1402.7 L1412.1 1404.9 L1420.1 1406.9 L1428.1 1408.6 L1436.1 1410.1 L1444.1 1411.4 L1452.1 1412.6 L1460.1 1413.7 L1468.1 1414.8 L1476.1 1415.9 L1484.1 1416.8 L1492.1 1417.7 L1500.1 1418.4 L1508.1 1419.0 L1516.1 1419.6 L1524.1 1420.1 L1532.1 1420.6 L1540.1 1421.1 L1548.1 1421.5 L1556.1 1421.9 L1564.1 1422.2 L1572.1 1422.6 L1580.1 1422.9 L1588.1 1423.2 L1596.1 1423.4 L1604.1 1423.7 L1612.1 1423.9 L1620.1 1424.2 L1628.1 1424.4 L1636.1 1424.6 L1644.1 1424.8 L1652.1 1424.9 L1660.1 1425.1 L1668.1 1425.3 L1676.1 1425.4 L1684.1 1425.5 L1692.1 1425.6 L1700.1 1425.7 L1708.1 1425.8 L1716.1 1425.8 L1724.1 1425.9 L1732.1 1425.9 L1740.1 1426.0 L1748.1 1426.0 L1756.1 1426.0 L1764.1 1426.1 L1772.1 1426.1 L1780.1 1426.1 L1788.1 1426.1 L1796.1 1426.1 L1804.1 1426.1" stroke="#62bf50"/><path d="M1188.1 1346.8 L1236.1 1359.3 L1284.1 1371.8 L1332.1 1384.3 L1380.1 1397.0 L1388.1 1399.3 L1396.1 1401.6 L1404.1 1403.8 L1412.1 1406.0 L1420.1 1407.9 L1428.1 1409.5 L1436.1 1410.9 L1444.1 1412.1 L1452.1 1413.2 L1460.1 1414.3 L1468.1 1415.4 L1476.1 1416.4 L1484.1 1417.3 L1492.1 1418.1 L1500.1 1418.8 L1508.1 1419.4 L1516.1 1420.0 L1524.1 1420.5 L1532.1 1420.9 L1540.1 1421.3 L1548.1 1421.7 L1556.1 1422.1 L1564.1 1422.4 L1572.1 1422.8 L1580.1 1423.1 L1588.1 1423.3 L1596.1 1423.6 L1604.1 1423.9 L1612.1 1424.1 L1620.1 1424.3 L1628.1 1424.5 L1636.1 1424.7 L1644.1 1424.9 L1652.1 1425.0 L1660.1 1425.2 L1668.1 1425.3 L1676.1 1425.5 L1684.1 1425.6 L1692.1 1425.6 L1700.1 1425.7 L1708.1 1425.8 L1716.1 1425.9 L1724.1 1425.9 L1732.1 1425.9 L1740.1 1426.0 L1748.1 1426.0 L1756.1 1426.0 L1764.1 1426.1 L1772.1 1426.1 L1780.1 1426.1 L1788.1 1426.1 L1796.1 1426.1 L1804.1 1426.1" stroke="#62bf50"/><path d="M1188.1 1351.8 L1236.1 1362.5 L1284.1 1373.3 L1332.1 1384.0 L1380.1 1394.9 L1388.1 1396.7 L1396.1 1398.6 L1404.1 1400.6 L1412.1 1402.6 L1420.1 1404.6 L1428.1 1406.4 L1436.1 1408.2 L1444.1 1409.7 L1452.1 1411.0 L1460.1 1412.2 L1468.1 1413.2 L1476.1 1414.2 L1484.1 1415.1 L1492.1 1416.0 L1500.1 1416.9 L1508.1 1417.7 L1516.1 1418.4 L1524.1 1419.0 L1532.1 1419.6 L1540.1 1420.1 L1548.1 1420.5 L1556.1 1421.0 L1564.1 1421.3 L1572.1 1421.7 L1580.1 1422.0 L1588.1 1422.4 L1596.1 1422.7 L1604.1 1422.9 L1612.1 1423.2 L1620.1 1423.4 L1628.1 1423.7 L1636.1 1423.9 L1644.1 1424.1 L1652.1 1424.3 L1660.1 1424.5 L1668.1 1424.6 L1676.1 1424.8 L1684.1 1425.0 L1692.1 1425.1 L1700.1 1425.2 L1708.1 1425.4 L1716.1 1425.5 L1724.1 1425.6 L1732.1 1425.6 L1740.1 1425.7 L1748.1 1425.8 L1756.1 1425.9 L1764.1 1425.9 L1772.1 1426.0 L1780.1 1426.0 L1788.1 1426.1 L1796.1 1426.1 L1804.1 1426.1" stroke="#3cc0cc"/><path d="M1188.1 1356.7 L1236.1 1367.3 L1284.1 1378.0 L1332.1 1388.6 L1380.1 1399.4 L1388.1 1401.3 L1396.1 1403.3 L1404.1 1405.3 L1412.1 1407.2 L1420.1 1408.9 L1428.1 1410.5 L1436.1 1411.8 L1444.1 1413.0 L1452.1 1414.0 L1460.1 1415.0 L1468.1 1415.9 L1476.1 1416.8 L1484.1 1417.7 L1492.1 1418.5 L1500.1 1419.1 L1508.1 1419.7 L1516.1 1420.2 L1524.1 1420.7 L1532.1 1421.1 L1540.1 1421.5 L1548.1 1421.9 L1556.1 1422.2 L1564.1 1422.5 L1572.1 1422.8 L1580.1 1423.1 L1588.1 1423.4 L1596.1 1423.6 L1604.1 1423.8 L1612.1 1424.1 L1620.1 1424.3 L1628.1 1424.5 L1636.1 1424.6 L1644.1 1424.8 L1652.1 1425.0 L1660.1 1425.1 L1668.1 1425.2 L1676.1 1425.4 L1684.1 1425.5 L1692.1 1425.6 L1700.1 1425.7 L1708.1 1425.7 L1716.1 1425.8 L1724.1 1425.9 L1732.1 1425.9 L1740.1 1425.9 L1748.1 1426.0 L1756.1 1426.0 L1764.1 1426.0 L1772.1 1426.1 L1780.1 1426.1 L1788.1 1426.1 L1796.1 1426.1 L1804.1 1426.1" stroke="#62bf50"/><path d="M1188.1 1362.4 L1236.1 1372.2 L1284.1 1382.0 L1332.1 1391.8 L1380.1 1401.7 L1388.1 1403.5 L1396.1 1405.3 L1404.1 1407.1 L1412.1 1408.8 L1420.1 1410.4 L1428.1 1411.9 L1436.1 1413.1 L1444.1 1414.1 L1452.1 1415.1 L1460.1 1416.0 L1468.1 1416.8 L1476.1 1417.6 L1484.1 1418.4 L1492.1 1419.2 L1500.1 1419.8 L1508.1 1420.3 L1516.1 1420.8 L1524.1 1421.2 L1532.1 1421.6 L1540.1 1421.9 L1548.1 1422.3 L1556.1 1422.6 L1564.1 1422.9 L1572.1 1423.1 L1580.1 1423.4 L1588.1 1423.6 L1596.1 1423.8 L1604.1 1424.1 L1612.1 1424.3 L1620.1 1424.4 L1628.1 1424.6 L1636.1 1424.8 L1644.1 1424.9 L1652.1 1425.1 L1660.1 1425.2 L1668.1 1425.3 L1676.1 1425.4 L1684.1 1425.5 L1692.1 1425.6 L1700.1 1425.7 L1708.1 1425.8 L1716.1 1425.8 L1724.1 1425.9 L1732.1 1425.9 L1740.1 1426.0 L1748.1 1426.0 L1756.1 1426.0 L1764.1 1426.1 L1772.1 1426.1 L1780.1 1426.1 L1788.1 1426.1 L1796.1 1426.1 L1804.1 1426.1" stroke="#3cc0cc"/><path d="M1188.1 1368.5 L1236.1 1376.7 L1284.1 1384.9 L1332.1 1393.2 L1380.1 1401.4 L1388.1 1402.8 L1396.1 1404.2 L1404.1 1405.7 L1412.1 1407.3 L1420.1 1408.8 L1428.1 1410.2 L1436.1 1411.6 L1444.1 1412.9 L1452.1 1413.9 L1460.1 1414.9 L1468.1 1415.7 L1476.1 1416.5 L1484.1 1417.2 L1492.1 1417.9 L1500.1 1418.6 L1508.1 1419.2 L1516.1 1419.8 L1524.1 1420.4 L1532.1 1420.8 L1540.1 1421.2 L1548.1 1421.6 L1556.1 1421.9 L1564.1 1422.2 L1572.1 1422.5 L1580.1 1422.8 L1588.1 1423.0 L1596.1 1423.3 L1604.1 1423.5 L1612.1 1423.7 L1620.1 1423.9 L1628.1 1424.1 L1636.1 1424.2 L1644.1 1424.4 L1652.1 1424.6 L1660.1 1424.7 L1668.1 1424.9 L1676.1 1425.0 L1684.1 1425.1 L1692.1 1425.2 L1700.1 1425.3 L1708.1 1425.4 L1716.1 1425.5 L1724.1 1425.6 L1732.1 1425.7 L1740.1 1425.7 L1748.1 1425.8 L1756.1 1425.9 L1764.1 1426.0 L1772.1 1426.0 L1780.1 1426.0 L1788.1 1426.1 L1796.1 1426.1 L1804.1 1426.1" stroke="#161616"/><path d="M1188.1 1383.3 L1236.1 1389.8 L1284.1 1396.2 L1332.1 1402.6 L1380.1 1409.1 L1388.1 1410.2 L1396.1 1411.4 L1404.1 1412.6 L1412.1 1413.7 L1420.1 1414.9 L1428.1 1415.9 L1436.1 1416.8 L1444.1 1417.5 L1452.1 1418.2 L1460.1 1418.8 L1468.1 1419.4 L1476.1 1420.0 L1484.1 1420.5 L1492.1 1421.0 L1500.1 1421.5 L1508.1 1421.9 L1516.1 1422.2 L1524.1 1422.5 L1532.1 1422.8 L1540.1 1423.1 L1548.1 1423.3 L1556.1 1423.5 L1564.1 1423.7 L1572.1 1423.9 L1580.1 1424.1 L1588.1 1424.3 L1596.1 1424.4 L1604.1 1424.6 L1612.1 1424.7 L1620.1 1424.8 L1628.1 1424.9 L1636.1 1425.1 L1644.1 1425.2 L1652.1 1425.3 L1660.1 1425.4 L1668.1 1425.5 L1676.1 1425.5 L1684.1 1425.6 L1692.1 1425.7 L1700.1 1425.8 L1708.1 1425.8 L1716.1 1425.9 L1724.1 1425.9 L1732.1 1425.9 L1740.1 1426.0 L1748.1 1426.0 L1756.1 1426.0 L1764.1 1426.1 L1772.1 1426.1 L1780.1 1426.1 L1788.1 1426.1 L1796.1 1426.1 L1804.1 1426.1" stroke="#7b4fae"/><path d="M1188.1 1385.8 L1236.1 1391.6 L1284.1 1397.5 L1332.1 1403.3 L1380.1 1409.2 L1388.1 1410.2 L1396.1 1411.2 L1404.1 1412.3 L1412.1 1413.4 L1420.1 1414.4 L1428.1 1415.4 L1436.1 1416.4 L1444.1 1417.2 L1452.1 1417.9 L1460.1 1418.5 L1468.1 1419.1 L1476.1 1419.6 L1484.1 1420.1 L1492.1 1420.6 L1500.1 1421.1 L1508.1 1421.6 L1516.1 1422.0 L1524.1 1422.3 L1532.1 1422.6 L1540.1 1422.8 L1548.1 1423.1 L1556.1 1423.3 L1564.1 1423.5 L1572.1 1423.7 L1580.1 1423.9 L1588.1 1424.1 L1596.1 1424.2 L1604.1 1424.4 L1612.1 1424.5 L1620.1 1424.7 L1628.1 1424.8 L1636.1 1424.9 L1644.1 1425.0 L1652.1 1425.1 L1660.1 1425.2 L1668.1 1425.3 L1676.1 1425.4 L1684.1 1425.5 L1692.1 1425.6 L1700.1 1425.6 L1708.1 1425.7 L1716.1 1425.8 L1724.1 1425.8 L1732.1 1425.9 L1740.1 1425.9 L1748.1 1425.9 L1756.1 1426.0 L1764.1 1426.0 L1772.1 1426.0 L1780.1 1426.1 L1788.1 1426.1 L1796.1 1426.1 L1804.1 1426.1" stroke="#c62a93"/><path d="M1188.1 1388.3 L1236.1 1393.9 L1284.1 1399.6 L1332.1 1405.3 L1380.1 1411.0 L1388.1 1412.0 L1396.1 1413.1 L1404.1 1414.1 L1412.1 1415.2 L1420.1 1416.1 L1428.1 1417.1 L1436.1 1417.8 L1444.1 1418.5 L1452.1 1419.1 L1460.1 1419.7 L1468.1 1420.2 L1476.1 1420.7 L1484.1 1421.1 L1492.1 1421.6 L1500.1 1422.0 L1508.1 1422.3 L1516.1 1422.6 L1524.1 1422.9 L1532.1 1423.2 L1540.1 1423.4 L1548.1 1423.6 L1556.1 1423.8 L1564.1 1424.0 L1572.1 1424.2 L1580.1 1424.3 L1588.1 1424.5 L1596.1 1424.6 L1604.1 1424.7 L1612.1 1424.9 L1620.1 1425.0 L1628.1 1425.1 L1636.1 1425.2 L1644.1 1425.3 L1652.1 1425.4 L1660.1 1425.5 L1668.1 1425.5 L1676.1 1425.6 L1684.1 1425.7 L1692.1 1425.7 L1700.1 1425.8 L1708.1 1425.8 L1716.1 1425.9 L1724.1 1425.9 L1732.1 1425.9 L1740.1 1426.0 L1748.1 1426.0 L1756.1 1426.0 L1764.1 1426.1 L1772.1 1426.1 L1780.1 1426.1 L1788.1 1426.1 L1796.1 1426.1 L1804.1 1426.1" stroke="#161616"/><path d="M1188.1 1394.4 L1236.1 1399.1 L1284.1 1403.8 L1332.1 1408.5 L1380.1 1413.2 L1388.1 1414.0 L1396.1 1414.8 L1404.1 1415.7 L1412.1 1416.6 L1420.1 1417.4 L1428.1 1418.2 L1436.1 1418.9 L1444.1 1419.5 L1452.1 1420.0 L1460.1 1420.5 L1468.1 1420.9 L1476.1 1421.3 L1484.1 1421.7 L1492.1 1422.1 L1500.1 1422.5 L1508.1 1422.8 L1516.1 1423.0 L1524.1 1423.3 L1532.1 1423.5 L1540.1 1423.7 L1548.1 1423.9 L1556.1 1424.1 L1564.1 1424.2 L1572.1 1424.4 L1580.1 1424.5 L1588.1 1424.6 L1596.1 1424.8 L1604.1 1424.9 L1612.1 1425.0 L1620.1 1425.1 L1628.1 1425.2 L1636.1 1425.3 L1644.1 1425.3 L1652.1 1425.4 L1660.1 1425.5 L1668.1 1425.6 L1676.1 1425.6 L1684.1 1425.7 L1692.1 1425.7 L1700.1 1425.8 L1708.1 1425.8 L1716.1 1425.9 L1724.1 1425.9 L1732.1 1425.9 L1740.1 1426.0 L1748.1 1426.0 L1756.1 1426.0 L1764.1 1426.1 L1772.1 1426.1 L1780.1 1426.1 L1788.1 1426.1 L1796.1 1426.1 L1804.1 1426.1" stroke="#3cc0cc"/><path d="M1188.1 1398.1 L1236.1 1402.5 L1284.1 1406.8 L1332.1 1411.1 L1380.1 1415.5 L1388.1 1416.3 L1396.1 1417.1 L1404.1 1417.9 L1412.1 1418.7 L1420.1 1419.4 L1428.1 1420.0 L1436.1 1420.5 L1444.1 1421.0 L1452.1 1421.4 L1460.1 1421.8 L1468.1 1422.1 L1476.1 1422.5 L1484.1 1422.8 L1492.1 1423.1 L1500.1 1423.4 L1508.1 1423.6 L1516.1 1423.8 L1524.1 1424.0 L1532.1 1424.2 L1540.1 1424.3 L1548.1 1424.5 L1556.1 1424.6 L1564.1 1424.7 L1572.1 1424.8 L1580.1 1425.0 L1588.1 1425.1 L1596.1 1425.2 L1604.1 1425.2 L1612.1 1425.3 L1620.1 1425.4 L1628.1 1425.5 L1636.1 1425.6 L1644.1 1425.6 L1652.1 1425.7 L1660.1 1425.7 L1668.1 1425.8 L1676.1 1425.8 L1684.1 1425.9 L1692.1 1425.9 L1700.1 1425.9 L1708.1 1426.0 L1716.1 1426.0 L1724.1 1426.0 L1732.1 1426.0 L1740.1 1426.0 L1748.1 1426.1 L1756.1 1426.1 L1764.1 1426.1 L1772.1 1426.1 L1780.1 1426.1 L1788.1 1426.1 L1796.1 1426.1 L1804.1 1426.1" stroke="#3690d8"/><path d="M1188.1 1408.0 L1236.1 1410.7 L1284.1 1413.3 L1332.1 1416.0 L1380.1 1418.7 L1388.1 1419.2 L1396.1 1419.7 L1404.1 1420.2 L1412.1 1420.6 L1420.1 1421.1 L1428.1 1421.6 L1436.1 1422.0 L1444.1 1422.3 L1452.1 1422.6 L1460.1 1422.9 L1468.1 1423.1 L1476.1 1423.4 L1484.1 1423.6 L1492.1 1423.8 L1500.1 1424.0 L1508.1 1424.2 L1516.1 1424.4 L1524.1 1424.5 L1532.1 1424.6 L1540.1 1424.7 L1548.1 1424.8 L1556.1 1424.9 L1564.1 1425.0 L1572.1 1425.1 L1580.1 1425.2 L1588.1 1425.3 L1596.1 1425.3 L1604.1 1425.4 L1612.1 1425.5 L1620.1 1425.5 L1628.1 1425.6 L1636.1 1425.6 L1644.1 1425.7 L1652.1 1425.7 L1660.1 1425.8 L1668.1 1425.8 L1676.1 1425.8 L1684.1 1425.9 L1692.1 1425.9 L1700.1 1425.9 L1708.1 1426.0 L1716.1 1426.0 L1724.1 1426.0 L1732.1 1426.0 L1740.1 1426.0 L1748.1 1426.0 L1756.1 1426.1 L1764.1 1426.1 L1772.1 1426.1 L1780.1 1426.1 L1788.1 1426.1 L1796.1 1426.1 L1804.1 1426.1" stroke="#c62a93"/><path d="M1188.1 1420.8 L1236.1 1421.6 L1284.1 1422.3 L1332.1 1423.1 L1380.1 1423.9 L1388.1 1424.0 L1396.1 1424.1 L1404.1 1424.3 L1412.1 1424.4 L1420.1 1424.6 L1428.1 1424.7 L1436.1 1424.8 L1444.1 1424.9 L1452.1 1425.0 L1460.1 1425.1 L1468.1 1425.2 L1476.1 1425.2 L1484.1 1425.3 L1492.1 1425.4 L1500.1 1425.4 L1508.1 1425.5 L1516.1 1425.6 L1524.1 1425.6 L1532.1 1425.6 L1540.1 1425.7 L1548.1 1425.7 L1556.1 1425.7 L1564.1 1425.8 L1572.1 1425.8 L1580.1 1425.8 L1588.1 1425.8 L1596.1 1425.9 L1604.1 1425.9 L1612.1 1425.9 L1620.1 1425.9 L1628.1 1425.9 L1636.1 1425.9 L1644.1 1426.0 L1652.1 1426.0 L1660.1 1426.0 L1668.1 1426.0 L1676.1 1426.0 L1684.1 1426.0 L1692.1 1426.0 L1700.1 1426.0 L1708.1 1426.0 L1716.1 1426.1 L1724.1 1426.1 L1732.1 1426.1 L1740.1 1426.1 L1748.1 1426.1 L1756.1 1426.1 L1764.1 1426.1 L1772.1 1426.1 L1780.1 1426.1 L1788.1 1426.1 L1796.1 1426.1 L1804.1 1426.1" stroke="#3cc0cc"/><path d="M1188.1 1424.0 L1236.1 1424.3 L1284.1 1424.7 L1332.1 1425.0 L1380.1 1425.3 L1388.1 1425.3 L1396.1 1425.4 L1404.1 1425.4 L1412.1 1425.5 L1420.1 1425.5 L1428.1 1425.6 L1436.1 1425.6 L1444.1 1425.7 L1452.1 1425.7 L1460.1 1425.7 L1468.1 1425.8 L1476.1 1425.8 L1484.1 1425.8 L1492.1 1425.8 L1500.1 1425.9 L1508.1 1425.9 L1516.1 1425.9 L1524.1 1425.9 L1532.1 1425.9 L1540.1 1426.0 L1548.1 1426.0 L1556.1 1426.0 L1564.1 1426.0 L1572.1 1426.0 L1580.1 1426.0 L1588.1 1426.0 L1596.1 1426.0 L1604.1 1426.0 L1612.1 1426.0 L1620.1 1426.0 L1628.1 1426.0 L1636.1 1426.0 L1644.1 1426.1 L1652.1 1426.1 L1660.1 1426.1 L1668.1 1426.1 L1676.1 1426.1 L1684.1 1426.1 L1692.1 1426.1 L1700.1 1426.1 L1708.1 1426.1 L1716.1 1426.1 L1724.1 1426.1 L1732.1 1426.1 L1740.1 1426.1 L1748.1 1426.1 L1756.1 1426.1 L1764.1 1426.1 L1772.1 1426.1 L1780.1 1426.1 L1788.1 1426.1 L1796.1 1426.1 L1804.1 1426.1" stroke="#62bf50"/><path d="M1188.1 1427.7 L1236.1 1427.5 L1284.1 1427.3 L1332.1 1427.0 L1380.1 1426.8 L1388.1 1426.7 L1396.1 1426.7 L1404.1 1426.6 L1412.1 1426.6 L1420.1 1426.6 L1428.1 1426.5 L1436.1 1426.5 L1444.1 1426.5 L1452.1 1426.4 L1460.1 1426.4 L1468.1 1426.4 L1476.1 1426.4 L1484.1 1426.3 L1492.1 1426.3 L1500.1 1426.3 L1508.1 1426.3 L1516.1 1426.3 L1524.1 1426.3 L1532.1 1426.2 L1540.1 1426.2 L1548.1 1426.2 L1556.1 1426.2 L1564.1 1426.2 L1572.1 1426.2 L1580.1 1426.2 L1588.1 1426.2 L1596.1 1426.2 L1604.1 1426.2 L1612.1 1426.2 L1620.1 1426.2 L1628.1 1426.2 L1636.1 1426.1 L1644.1 1426.1 L1652.1 1426.1 L1660.1 1426.1 L1668.1 1426.1 L1676.1 1426.1 L1684.1 1426.1 L1692.1 1426.1 L1700.1 1426.1 L1708.1 1426.1 L1716.1 1426.1 L1724.1 1426.1 L1732.1 1426.1 L1740.1 1426.1 L1748.1 1426.1 L1756.1 1426.1 L1764.1 1426.1 L1772.1 1426.1 L1780.1 1426.1 L1788.1 1426.1 L1796.1 1426.1 L1804.1 1426.1" stroke="#dc5a78"/><path d="M1188.1 1432.7 L1236.1 1431.7 L1284.1 1430.7 L1332.1 1429.8 L1380.1 1428.8 L1388.1 1428.6 L1396.1 1428.5 L1404.1 1428.3 L1412.1 1428.1 L1420.1 1427.9 L1428.1 1427.8 L1436.1 1427.6 L1444.1 1427.5 L1452.1 1427.4 L1460.1 1427.3 L1468.1 1427.2 L1476.1 1427.1 L1484.1 1427.0 L1492.1 1426.9 L1500.1 1426.9 L1508.1 1426.8 L1516.1 1426.7 L1524.1 1426.7 L1532.1 1426.6 L1540.1 1426.6 L1548.1 1426.6 L1556.1 1426.5 L1564.1 1426.5 L1572.1 1426.5 L1580.1 1426.4 L1588.1 1426.4 L1596.1 1426.4 L1604.1 1426.4 L1612.1 1426.3 L1620.1 1426.3 L1628.1 1426.3 L1636.1 1426.3 L1644.1 1426.3 L1652.1 1426.2 L1660.1 1426.2 L1668.1 1426.2 L1676.1 1426.2 L1684.1 1426.2 L1692.1 1426.2 L1700.1 1426.2 L1708.1 1426.2 L1716.1 1426.1 L1724.1 1426.1 L1732.1 1426.1 L1740.1 1426.1 L1748.1 1426.1 L1756.1 1426.1 L1764.1 1426.1 L1772.1 1426.1 L1780.1 1426.1 L1788.1 1426.1 L1796.1 1426.1 L1804.1 1426.1" stroke="#62bf50"/><path d="M1188.1 1438.8 L1236.1 1436.8 L1284.1 1434.9 L1332.1 1432.9 L1380.1 1430.8 L1388.1 1430.5 L1396.1 1430.1 L1404.1 1429.7 L1412.1 1429.4 L1420.1 1429.1 L1428.1 1428.8 L1436.1 1428.6 L1444.1 1428.4 L1452.1 1428.2 L1460.1 1428.0 L1468.1 1427.9 L1476.1 1427.7 L1484.1 1427.5 L1492.1 1427.4 L1500.1 1427.3 L1508.1 1427.2 L1516.1 1427.1 L1524.1 1427.0 L1532.1 1426.9 L1540.1 1426.9 L1548.1 1426.8 L1556.1 1426.8 L1564.1 1426.7 L1572.1 1426.6 L1580.1 1426.6 L1588.1 1426.6 L1596.1 1426.5 L1604.1 1426.5 L1612.1 1426.4 L1620.1 1426.4 L1628.1 1426.4 L1636.1 1426.3 L1644.1 1426.3 L1652.1 1426.3 L1660.1 1426.3 L1668.1 1426.2 L1676.1 1426.2 L1684.1 1426.2 L1692.1 1426.2 L1700.1 1426.2 L1708.1 1426.2 L1716.1 1426.1 L1724.1 1426.1 L1732.1 1426.1 L1740.1 1426.1 L1748.1 1426.1 L1756.1 1426.1 L1764.1 1426.1 L1772.1 1426.1 L1780.1 1426.1 L1788.1 1426.1 L1796.1 1426.1 L1804.1 1426.1" stroke="#161616"/><path d="M1188.1 1440.1 L1236.1 1438.0 L1284.1 1436.0 L1332.1 1434.0 L1380.1 1431.9 L1388.1 1431.6 L1396.1 1431.2 L1404.1 1430.8 L1412.1 1430.4 L1420.1 1430.1 L1428.1 1429.7 L1436.1 1429.4 L1444.1 1429.1 L1452.1 1428.9 L1460.1 1428.7 L1468.1 1428.5 L1476.1 1428.3 L1484.1 1428.1 L1492.1 1427.9 L1500.1 1427.8 L1508.1 1427.6 L1516.1 1427.5 L1524.1 1427.4 L1532.1 1427.3 L1540.1 1427.2 L1548.1 1427.1 L1556.1 1427.0 L1564.1 1427.0 L1572.1 1426.9 L1580.1 1426.8 L1588.1 1426.8 L1596.1 1426.7 L1604.1 1426.7 L1612.1 1426.6 L1620.1 1426.6 L1628.1 1426.5 L1636.1 1426.5 L1644.1 1426.5 L1652.1 1426.4 L1660.1 1426.4 L1668.1 1426.4 L1676.1 1426.3 L1684.1 1426.3 L1692.1 1426.3 L1700.1 1426.3 L1708.1 1426.2 L1716.1 1426.2 L1724.1 1426.2 L1732.1 1426.2 L1740.1 1426.2 L1748.1 1426.2 L1756.1 1426.1 L1764.1 1426.1 L1772.1 1426.1 L1780.1 1426.1 L1788.1 1426.1 L1796.1 1426.1 L1804.1 1426.1" stroke="#161616"/><path d="M1188.1 1449.9 L1236.1 1446.4 L1284.1 1442.9 L1332.1 1439.3 L1380.1 1435.8 L1388.1 1435.2 L1396.1 1434.5 L1404.1 1433.9 L1412.1 1433.2 L1420.1 1432.6 L1428.1 1432.0 L1436.1 1431.5 L1444.1 1431.0 L1452.1 1430.6 L1460.1 1430.3 L1468.1 1430.0 L1476.1 1429.7 L1484.1 1429.4 L1492.1 1429.1 L1500.1 1428.8 L1508.1 1428.6 L1516.1 1428.4 L1524.1 1428.2 L1532.1 1428.0 L1540.1 1427.9 L1548.1 1427.7 L1556.1 1427.6 L1564.1 1427.5 L1572.1 1427.4 L1580.1 1427.3 L1588.1 1427.2 L1596.1 1427.1 L1604.1 1427.0 L1612.1 1426.9 L1620.1 1426.9 L1628.1 1426.8 L1636.1 1426.7 L1644.1 1426.7 L1652.1 1426.6 L1660.1 1426.5 L1668.1 1426.5 L1676.1 1426.4 L1684.1 1426.4 L1692.1 1426.4 L1700.1 1426.3 L1708.1 1426.3 L1716.1 1426.3 L1724.1 1426.2 L1732.1 1426.2 L1740.1 1426.2 L1748.1 1426.2 L1756.1 1426.1 L1764.1 1426.1 L1772.1 1426.1 L1780.1 1426.1 L1788.1 1426.1 L1796.1 1426.1 L1804.1 1426.1" stroke="#161616"/><path d="M1188.1 1454.9 L1236.1 1450.5 L1284.1 1446.1 L1332.1 1441.7 L1380.1 1437.2 L1388.1 1436.5 L1396.1 1435.6 L1404.1 1434.8 L1412.1 1434.0 L1420.1 1433.3 L1428.1 1432.6 L1436.1 1432.1 L1444.1 1431.6 L1452.1 1431.2 L1460.1 1430.8 L1468.1 1430.4 L1476.1 1430.0 L1484.1 1429.6 L1492.1 1429.3 L1500.1 1429.0 L1508.1 1428.8 L1516.1 1428.6 L1524.1 1428.4 L1532.1 1428.2 L1540.1 1428.0 L1548.1 1427.9 L1556.1 1427.7 L1564.1 1427.6 L1572.1 1427.5 L1580.1 1427.4 L1588.1 1427.3 L1596.1 1427.2 L1604.1 1427.1 L1612.1 1427.0 L1620.1 1426.9 L1628.1 1426.8 L1636.1 1426.7 L1644.1 1426.7 L1652.1 1426.6 L1660.1 1426.5 L1668.1 1426.5 L1676.1 1426.4 L1684.1 1426.4 L1692.1 1426.3 L1700.1 1426.3 L1708.1 1426.3 L1716.1 1426.2 L1724.1 1426.2 L1732.1 1426.2 L1740.1 1426.2 L1748.1 1426.2 L1756.1 1426.1 L1764.1 1426.1 L1772.1 1426.1 L1780.1 1426.1 L1788.1 1426.1 L1796.1 1426.1 L1804.1 1426.1" stroke="#c62a93"/><path d="M1188.1 1457.3 L1236.1 1452.4 L1284.1 1447.5 L1332.1 1442.6 L1380.1 1437.6 L1388.1 1436.7 L1396.1 1435.8 L1404.1 1434.9 L1412.1 1434.1 L1420.1 1433.3 L1428.1 1432.7 L1436.1 1432.1 L1444.1 1431.6 L1452.1 1431.2 L1460.1 1430.8 L1468.1 1430.3 L1476.1 1429.9 L1484.1 1429.6 L1492.1 1429.3 L1500.1 1429.0 L1508.1 1428.8 L1516.1 1428.5 L1524.1 1428.3 L1532.1 1428.2 L1540.1 1428.0 L1548.1 1427.8 L1556.1 1427.7 L1564.1 1427.6 L1572.1 1427.4 L1580.1 1427.3 L1588.1 1427.2 L1596.1 1427.1 L1604.1 1427.0 L1612.1 1426.9 L1620.1 1426.8 L1628.1 1426.7 L1636.1 1426.7 L1644.1 1426.6 L1652.1 1426.5 L1660.1 1426.5 L1668.1 1426.4 L1676.1 1426.4 L1684.1 1426.3 L1692.1 1426.3 L1700.1 1426.3 L1708.1 1426.2 L1716.1 1426.2 L1724.1 1426.2 L1732.1 1426.2 L1740.1 1426.1 L1748.1 1426.1 L1756.1 1426.1 L1764.1 1426.1 L1772.1 1426.1 L1780.1 1426.1 L1788.1 1426.1 L1796.1 1426.1 L1804.1 1426.1" stroke="#dc5a78"/><path d="M1188.1 1461.0 L1236.1 1456.0 L1284.1 1451.0 L1332.1 1445.9 L1380.1 1440.8 L1388.1 1440.0 L1396.1 1439.1 L1404.1 1438.2 L1412.1 1437.2 L1420.1 1436.3 L1428.1 1435.4 L1436.1 1434.6 L1444.1 1433.9 L1452.1 1433.2 L1460.1 1432.7 L1468.1 1432.2 L1476.1 1431.7 L1484.1 1431.3 L1492.1 1430.9 L1500.1 1430.5 L1508.1 1430.1 L1516.1 1429.7 L1524.1 1429.4 L1532.1 1429.2 L1540.1 1429.0 L1548.1 1428.7 L1556.1 1428.5 L1564.1 1428.4 L1572.1 1428.2 L1580.1 1428.0 L1588.1 1427.9 L1596.1 1427.7 L1604.1 1427.6 L1612.1 1427.5 L1620.1 1427.4 L1628.1 1427.3 L1636.1 1427.2 L1644.1 1427.1 L1652.1 1427.0 L1660.1 1426.9 L1668.1 1426.8 L1676.1 1426.7 L1684.1 1426.7 L1692.1 1426.6 L1700.1 1426.5 L1708.1 1426.5 L1716.1 1426.4 L1724.1 1426.4 L1732.1 1426.3 L1740.1 1426.3 L1748.1 1426.3 L1756.1 1426.2 L1764.1 1426.2 L1772.1 1426.1 L1780.1 1426.1 L1788.1 1426.1 L1796.1 1426.1 L1804.1 1426.1" stroke="#62bf50"/><path d="M1188.1 1464.7 L1236.1 1458.9 L1284.1 1453.1 L1332.1 1447.3 L1380.1 1441.5 L1388.1 1440.5 L1396.1 1439.4 L1404.1 1438.3 L1412.1 1437.3 L1420.1 1436.3 L1428.1 1435.3 L1436.1 1434.5 L1444.1 1433.8 L1452.1 1433.2 L1460.1 1432.7 L1468.1 1432.2 L1476.1 1431.7 L1484.1 1431.2 L1492.1 1430.7 L1500.1 1430.3 L1508.1 1429.9 L1516.1 1429.6 L1524.1 1429.3 L1532.1 1429.1 L1540.1 1428.9 L1548.1 1428.6 L1556.1 1428.4 L1564.1 1428.3 L1572.1 1428.1 L1580.1 1427.9 L1588.1 1427.8 L1596.1 1427.6 L1604.1 1427.5 L1612.1 1427.4 L1620.1 1427.3 L1628.1 1427.1 L1636.1 1427.0 L1644.1 1426.9 L1652.1 1426.8 L1660.1 1426.8 L1668.1 1426.7 L1676.1 1426.6 L1684.1 1426.5 L1692.1 1426.5 L1700.1 1426.4 L1708.1 1426.4 L1716.1 1426.3 L1724.1 1426.3 L1732.1 1426.3 L1740.1 1426.2 L1748.1 1426.2 L1756.1 1426.2 L1764.1 1426.1 L1772.1 1426.1 L1780.1 1426.1 L1788.1 1426.1 L1796.1 1426.1 L1804.1 1426.1" stroke="#3cc0cc"/><path d="M1188.1 1473.4 L1236.1 1466.4 L1284.1 1459.5 L1332.1 1452.6 L1380.1 1445.6 L1388.1 1444.4 L1396.1 1443.2 L1404.1 1441.9 L1412.1 1440.6 L1420.1 1439.4 L1428.1 1438.2 L1436.1 1437.1 L1444.1 1436.2 L1452.1 1435.4 L1460.1 1434.7 L1468.1 1434.0 L1476.1 1433.4 L1484.1 1432.8 L1492.1 1432.2 L1500.1 1431.7 L1508.1 1431.2 L1516.1 1430.8 L1524.1 1430.4 L1532.1 1430.1 L1540.1 1429.8 L1548.1 1429.5 L1556.1 1429.2 L1564.1 1429.0 L1572.1 1428.8 L1580.1 1428.6 L1588.1 1428.4 L1596.1 1428.2 L1604.1 1428.0 L1612.1 1427.9 L1620.1 1427.7 L1628.1 1427.6 L1636.1 1427.4 L1644.1 1427.3 L1652.1 1427.2 L1660.1 1427.1 L1668.1 1427.0 L1676.1 1426.9 L1684.1 1426.8 L1692.1 1426.7 L1700.1 1426.6 L1708.1 1426.5 L1716.1 1426.5 L1724.1 1426.4 L1732.1 1426.4 L1740.1 1426.3 L1748.1 1426.3 L1756.1 1426.2 L1764.1 1426.2 L1772.1 1426.2 L1780.1 1426.1 L1788.1 1426.1 L1796.1 1426.1 L1804.1 1426.1" stroke="#161616"/><path d="M1188.1 1484.5 L1236.1 1476.1 L1284.1 1467.6 L1332.1 1459.2 L1380.1 1450.7 L1388.1 1449.3 L1396.1 1447.8 L1404.1 1446.3 L1412.1 1444.7 L1420.1 1443.2 L1428.1 1441.7 L1436.1 1440.3 L1444.1 1439.1 L1452.1 1438.1 L1460.1 1437.2 L1468.1 1436.3 L1476.1 1435.6 L1484.1 1434.8 L1492.1 1434.1 L1500.1 1433.4 L1508.1 1432.8 L1516.1 1432.2 L1524.1 1431.7 L1532.1 1431.3 L1540.1 1430.9 L1548.1 1430.5 L1556.1 1430.2 L1564.1 1429.9 L1572.1 1429.6 L1580.1 1429.3 L1588.1 1429.1 L1596.1 1428.9 L1604.1 1428.6 L1612.1 1428.4 L1620.1 1428.2 L1628.1 1428.1 L1636.1 1427.9 L1644.1 1427.7 L1652.1 1427.6 L1660.1 1427.4 L1668.1 1427.3 L1676.1 1427.1 L1684.1 1427.0 L1692.1 1426.9 L1700.1 1426.8 L1708.1 1426.7 L1716.1 1426.6 L1724.1 1426.5 L1732.1 1426.5 L1740.1 1426.4 L1748.1 1426.4 L1756.1 1426.3 L1764.1 1426.2 L1772.1 1426.2 L1780.1 1426.1 L1788.1 1426.1 L1796.1 1426.1 L1804.1 1426.1" stroke="#7b4fae"/><path d="M1188.1 1493.1 L1236.1 1483.3 L1284.1 1473.5 L1332.1 1463.7 L1380.1 1453.8 L1388.1 1452.1 L1396.1 1450.3 L1404.1 1448.5 L1412.1 1446.7 L1420.1 1444.9 L1428.1 1443.2 L1436.1 1441.7 L1444.1 1440.4 L1452.1 1439.3 L1460.1 1438.3 L1468.1 1437.4 L1476.1 1436.5 L1484.1 1435.6 L1492.1 1434.8 L1500.1 1434.0 L1508.1 1433.3 L1516.1 1432.7 L1524.1 1432.2 L1532.1 1431.7 L1540.1 1431.3 L1548.1 1430.9 L1556.1 1430.5 L1564.1 1430.2 L1572.1 1429.9 L1580.1 1429.6 L1588.1 1429.3 L1596.1 1429.0 L1604.1 1428.8 L1612.1 1428.6 L1620.1 1428.4 L1628.1 1428.2 L1636.1 1428.0 L1644.1 1427.8 L1652.1 1427.6 L1660.1 1427.5 L1668.1 1427.3 L1676.1 1427.2 L1684.1 1427.0 L1692.1 1426.9 L1700.1 1426.8 L1708.1 1426.7 L1716.1 1426.6 L1724.1 1426.5 L1732.1 1426.5 L1740.1 1426.4 L1748.1 1426.3 L1756.1 1426.3 L1764.1 1426.2 L1772.1 1426.2 L1780.1 1426.1 L1788.1 1426.1 L1796.1 1426.1 L1804.1 1426.1" stroke="#c62a93"/><path d="M1188.1 1498.0 L1236.1 1487.7 L1284.1 1477.4 L1332.1 1467.0 L1380.1 1456.6 L1388.1 1454.9 L1396.1 1453.1 L1404.1 1451.2 L1412.1 1449.3 L1420.1 1447.4 L1428.1 1445.5 L1436.1 1443.8 L1444.1 1442.3 L1452.1 1441.0 L1460.1 1439.9 L1468.1 1438.9 L1476.1 1437.9 L1484.1 1437.0 L1492.1 1436.1 L1500.1 1435.2 L1508.1 1434.4 L1516.1 1433.7 L1524.1 1433.1 L1532.1 1432.6 L1540.1 1432.1 L1548.1 1431.6 L1556.1 1431.2 L1564.1 1430.8 L1572.1 1430.5 L1580.1 1430.2 L1588.1 1429.8 L1596.1 1429.5 L1604.1 1429.3 L1612.1 1429.0 L1620.1 1428.8 L1628.1 1428.6 L1636.1 1428.3 L1644.1 1428.1 L1652.1 1427.9 L1660.1 1427.8 L1668.1 1427.6 L1676.1 1427.4 L1684.1 1427.3 L1692.1 1427.1 L1700.1 1427.0 L1708.1 1426.9 L1716.1 1426.8 L1724.1 1426.7 L1732.1 1426.6 L1740.1 1426.5 L1748.1 1426.4 L1756.1 1426.3 L1764.1 1426.3 L1772.1 1426.2 L1780.1 1426.2 L1788.1 1426.1 L1796.1 1426.1 L1804.1 1426.1" stroke="#dc5a78"/><path d="M1188.1 1512.8 L1236.1 1499.7 L1284.1 1486.6 L1332.1 1473.5 L1380.1 1460.2 L1388.1 1457.9 L1396.1 1455.5 L1404.1 1453.0 L1412.1 1450.7 L1420.1 1448.4 L1428.1 1446.4 L1436.1 1444.6 L1444.1 1443.1 L1452.1 1441.8 L1460.1 1440.6 L1468.1 1439.4 L1476.1 1438.3 L1484.1 1437.2 L1492.1 1436.1 L1500.1 1435.2 L1508.1 1434.5 L1516.1 1433.8 L1524.1 1433.2 L1532.1 1432.6 L1540.1 1432.1 L1548.1 1431.6 L1556.1 1431.2 L1564.1 1430.8 L1572.1 1430.4 L1580.1 1430.1 L1588.1 1429.7 L1596.1 1429.4 L1604.1 1429.1 L1612.1 1428.8 L1620.1 1428.6 L1628.1 1428.3 L1636.1 1428.1 L1644.1 1427.9 L1652.1 1427.7 L1660.1 1427.5 L1668.1 1427.3 L1676.1 1427.2 L1684.1 1427.0 L1692.1 1426.9 L1700.1 1426.7 L1708.1 1426.6 L1716.1 1426.6 L1724.1 1426.5 L1732.1 1426.4 L1740.1 1426.3 L1748.1 1426.3 L1756.1 1426.2 L1764.1 1426.2 L1772.1 1426.2 L1780.1 1426.1 L1788.1 1426.1 L1796.1 1426.1 L1804.1 1426.1" stroke="#161616"/><path d="M1188.1 1514.1 L1236.1 1501.3 L1284.1 1488.5 L1332.1 1475.7 L1380.1 1462.8 L1388.1 1460.7 L1396.1 1458.4 L1404.1 1456.1 L1412.1 1453.7 L1420.1 1451.3 L1428.1 1449.1 L1436.1 1447.1 L1444.1 1445.3 L1452.1 1443.8 L1460.1 1442.5 L1468.1 1441.2 L1476.1 1440.1 L1484.1 1439.0 L1492.1 1437.9 L1500.1 1436.8 L1508.1 1435.9 L1516.1 1435.0 L1524.1 1434.3 L1532.1 1433.7 L1540.1 1433.1 L1548.1 1432.6 L1556.1 1432.1 L1564.1 1431.7 L1572.1 1431.2 L1580.1 1430.8 L1588.1 1430.5 L1596.1 1430.1 L1604.1 1429.8 L1612.1 1429.5 L1620.1 1429.2 L1628.1 1428.9 L1636.1 1428.7 L1644.1 1428.4 L1652.1 1428.2 L1660.1 1428.0 L1668.1 1427.8 L1676.1 1427.6 L1684.1 1427.4 L1692.1 1427.2 L1700.1 1427.1 L1708.1 1426.9 L1716.1 1426.8 L1724.1 1426.7 L1732.1 1426.6 L1740.1 1426.5 L1748.1 1426.5 L1756.1 1426.3 L1764.1 1426.3 L1772.1 1426.2 L1780.1 1426.2 L1788.1 1426.1 L1796.1 1426.1 L1804.1 1426.1" stroke="#3cc0cc"/><path d="M1188.1 1526.4 L1236.1 1511.3 L1284.1 1496.2 L1332.1 1481.1 L1380.1 1465.9 L1388.1 1463.2 L1396.1 1460.4 L1404.1 1457.6 L1412.1 1454.9 L1420.1 1452.3 L1428.1 1449.9 L1436.1 1447.8 L1444.1 1446.0 L1452.1 1444.5 L1460.1 1443.0 L1468.1 1441.7 L1476.1 1440.4 L1484.1 1439.1 L1492.1 1437.9 L1500.1 1436.8 L1508.1 1435.9 L1516.1 1435.2 L1524.1 1434.4 L1532.1 1433.8 L1540.1 1433.2 L1548.1 1432.6 L1556.1 1432.1 L1564.1 1431.6 L1572.1 1431.2 L1580.1 1430.8 L1588.1 1430.4 L1596.1 1430.0 L1604.1 1429.7 L1612.1 1429.4 L1620.1 1429.1 L1628.1 1428.8 L1636.1 1428.5 L1644.1 1428.2 L1652.1 1428.0 L1660.1 1427.8 L1668.1 1427.6 L1676.1 1427.4 L1684.1 1427.2 L1692.1 1427.0 L1700.1 1426.9 L1708.1 1426.8 L1716.1 1426.7 L1724.1 1426.6 L1732.1 1426.5 L1740.1 1426.4 L1748.1 1426.3 L1756.1 1426.3 L1764.1 1426.2 L1772.1 1426.2 L1780.1 1426.1 L1788.1 1426.1 L1796.1 1426.1 L1804.1 1426.1" stroke="#3690d8"/><path d="M1188.1 1528.9 L1236.1 1514.1 L1284.1 1499.4 L1332.1 1484.7 L1380.1 1469.8 L1388.1 1467.3 L1396.1 1464.8 L1404.1 1462.1 L1412.1 1459.3 L1420.1 1456.6 L1428.1 1454.0 L1436.1 1451.5 L1444.1 1449.4 L1452.1 1447.5 L1460.1 1445.9 L1468.1 1444.4 L1476.1 1443.0 L1484.1 1441.7 L1492.1 1440.5 L1500.1 1439.2 L1508.1 1438.1 L1516.1 1437.0 L1524.1 1436.2 L1532.1 1435.4 L1540.1 1434.7 L1548.1 1434.0 L1556.1 1433.5 L1564.1 1432.9 L1572.1 1432.4 L1580.1 1431.9 L1588.1 1431.5 L1596.1 1431.1 L1604.1 1430.7 L1612.1 1430.3 L1620.1 1430.0 L1628.1 1429.6 L1636.1 1429.3 L1644.1 1429.0 L1652.1 1428.7 L1660.1 1428.5 L1668.1 1428.2 L1676.1 1428.0 L1684.1 1427.8 L1692.1 1427.6 L1700.1 1427.4 L1708.1 1427.2 L1716.1 1427.1 L1724.1 1426.9 L1732.1 1426.8 L1740.1 1426.7 L1748.1 1426.6 L1756.1 1426.4 L1764.1 1426.3 L1772.1 1426.3 L1780.1 1426.2 L1788.1 1426.2 L1796.1 1426.1 L1804.1 1426.1" stroke="#c62a93"/><path d="M1188.1 1547.4 L1236.1 1529.9 L1284.1 1512.4 L1332.1 1494.9 L1380.1 1477.3 L1388.1 1474.3 L1396.1 1471.3 L1404.1 1468.1 L1412.1 1464.8 L1420.1 1461.6 L1428.1 1458.5 L1436.1 1455.7 L1444.1 1453.1 L1452.1 1451.0 L1460.1 1449.1 L1468.1 1447.4 L1476.1 1445.8 L1484.1 1444.3 L1492.1 1442.7 L1500.1 1441.3 L1508.1 1439.9 L1516.1 1438.8 L1524.1 1437.8 L1532.1 1436.9 L1540.1 1436.1 L1548.1 1435.3 L1556.1 1434.6 L1564.1 1434.0 L1572.1 1433.4 L1580.1 1432.8 L1588.1 1432.3 L1596.1 1431.8 L1604.1 1431.4 L1612.1 1430.9 L1620.1 1430.5 L1628.1 1430.2 L1636.1 1429.8 L1644.1 1429.4 L1652.1 1429.1 L1660.1 1428.8 L1668.1 1428.5 L1676.1 1428.3 L1684.1 1428.0 L1692.1 1427.8 L1700.1 1427.6 L1708.1 1427.4 L1716.1 1427.2 L1724.1 1427.0 L1732.1 1426.9 L1740.1 1426.8 L1748.1 1426.6 L1756.1 1426.5 L1764.1 1426.4 L1772.1 1426.3 L1780.1 1426.2 L1788.1 1426.2 L1796.1 1426.1 L1804.1 1426.1" stroke="#3cc0cc"/><path d="M1188.1 1568.3 L1236.1 1546.2 L1284.1 1524.0 L1332.1 1501.8 L1380.1 1479.2 L1388.1 1475.2 L1396.1 1471.0 L1404.1 1467.0 L1412.1 1463.2 L1420.1 1459.7 L1428.1 1456.7 L1436.1 1454.1 L1444.1 1451.8 L1452.1 1449.8 L1460.1 1447.8 L1468.1 1445.9 L1476.1 1444.0 L1484.1 1442.3 L1492.1 1440.8 L1500.1 1439.6 L1508.1 1438.5 L1516.1 1437.5 L1524.1 1436.5 L1532.1 1435.7 L1540.1 1434.9 L1548.1 1434.2 L1556.1 1433.5 L1564.1 1432.9 L1572.1 1432.3 L1580.1 1431.8 L1588.1 1431.3 L1596.1 1430.8 L1604.1 1430.3 L1612.1 1429.9 L1620.1 1429.5 L1628.1 1429.1 L1636.1 1428.8 L1644.1 1428.5 L1652.1 1428.2 L1660.1 1427.9 L1668.1 1427.6 L1676.1 1427.4 L1684.1 1427.2 L1692.1 1427.0 L1700.1 1426.9 L1708.1 1426.7 L1716.1 1426.6 L1724.1 1426.5 L1732.1 1426.4 L1740.1 1426.3 L1748.1 1426.3 L1756.1 1426.2 L1764.1 1426.2 L1772.1 1426.1 L1780.1 1426.1 L1788.1 1426.1 L1796.1 1426.1 L1804.1 1426.1" stroke="#161616"/><path d="M1188.1 1578.2 L1236.1 1554.6 L1284.1 1531.0 L1332.1 1507.3 L1380.1 1483.3 L1388.1 1479.0 L1396.1 1474.6 L1404.1 1470.3 L1412.1 1466.2 L1420.1 1462.4 L1428.1 1459.1 L1436.1 1456.4 L1444.1 1453.9 L1452.1 1451.7 L1460.1 1449.6 L1468.1 1447.5 L1476.1 1445.6 L1484.1 1443.7 L1492.1 1442.1 L1500.1 1440.7 L1508.1 1439.5 L1516.1 1438.4 L1524.1 1437.4 L1532.1 1436.5 L1540.1 1435.7 L1548.1 1434.9 L1556.1 1434.2 L1564.1 1433.5 L1572.1 1432.9 L1580.1 1432.3 L1588.1 1431.7 L1596.1 1431.2 L1604.1 1430.7 L1612.1 1430.3 L1620.1 1429.8 L1628.1 1429.4 L1636.1 1429.1 L1644.1 1428.7 L1652.1 1428.4 L1660.1 1428.1 L1668.1 1427.8 L1676.1 1427.5 L1684.1 1427.3 L1692.1 1427.1 L1700.1 1426.9 L1708.1 1426.8 L1716.1 1426.7 L1724.1 1426.6 L1732.1 1426.5 L1740.1 1426.4 L1748.1 1426.3 L1756.1 1426.2 L1764.1 1426.2 L1772.1 1426.1 L1780.1 1426.1 L1788.1 1426.1 L1796.1 1426.1 L1804.1 1426.1" stroke="#c62a93"/><path d="M1188.1 1581.9 L1236.1 1557.9 L1284.1 1533.9 L1332.1 1509.9 L1380.1 1485.6 L1388.1 1481.2 L1396.1 1476.8 L1404.1 1472.3 L1412.1 1468.1 L1420.1 1464.2 L1428.1 1460.7 L1436.1 1457.8 L1444.1 1455.2 L1452.1 1452.9 L1460.1 1450.8 L1468.1 1448.7 L1476.1 1446.6 L1484.1 1444.7 L1492.1 1443.0 L1500.1 1441.5 L1508.1 1440.2 L1516.1 1439.1 L1524.1 1438.1 L1532.1 1437.1 L1540.1 1436.2 L1548.1 1435.4 L1556.1 1434.6 L1564.1 1433.9 L1572.1 1433.3 L1580.1 1432.7 L1588.1 1432.1 L1596.1 1431.6 L1604.1 1431.1 L1612.1 1430.6 L1620.1 1430.1 L1628.1 1429.7 L1636.1 1429.3 L1644.1 1428.9 L1652.1 1428.6 L1660.1 1428.3 L1668.1 1428.0 L1676.1 1427.7 L1684.1 1427.4 L1692.1 1427.2 L1700.1 1427.0 L1708.1 1426.9 L1716.1 1426.8 L1724.1 1426.6 L1732.1 1426.5 L1740.1 1426.4 L1748.1 1426.3 L1756.1 1426.3 L1764.1 1426.2 L1772.1 1426.2 L1780.1 1426.1 L1788.1 1426.1 L1796.1 1426.1 L1804.1 1426.1" stroke="#3cc0cc"/><path d="M1188.1 1589.3 L1236.1 1566.0 L1284.1 1542.7 L1332.1 1519.3 L1380.1 1495.8 L1388.1 1491.8 L1396.1 1487.8 L1404.1 1483.5 L1412.1 1479.2 L1420.1 1474.9 L1428.1 1470.7 L1436.1 1466.8 L1444.1 1463.3 L1452.1 1460.4 L1460.1 1457.7 L1468.1 1455.4 L1476.1 1453.2 L1484.1 1451.2 L1492.1 1449.1 L1500.1 1447.2 L1508.1 1445.3 L1516.1 1443.7 L1524.1 1442.2 L1532.1 1441.0 L1540.1 1439.9 L1548.1 1438.9 L1556.1 1437.9 L1564.1 1437.0 L1572.1 1436.2 L1580.1 1435.4 L1588.1 1434.7 L1596.1 1434.1 L1604.1 1433.4 L1612.1 1432.9 L1620.1 1432.3 L1628.1 1431.8 L1636.1 1431.3 L1644.1 1430.8 L1652.1 1430.4 L1660.1 1430.0 L1668.1 1429.6 L1676.1 1429.2 L1684.1 1428.9 L1692.1 1428.5 L1700.1 1428.2 L1708.1 1427.9 L1716.1 1427.7 L1724.1 1427.4 L1732.1 1427.2 L1740.1 1427.1 L1748.1 1426.9 L1756.1 1426.7 L1764.1 1426.5 L1772.1 1426.4 L1780.1 1426.3 L1788.1 1426.2 L1796.1 1426.1 L1804.1 1426.1" stroke="#c62a93"/></g>
<path d="M2296.1 240.0H2863.6M2296.1 240.0V225.5M2352.8 240.0V225.5M2409.6 240.0V225.5M2466.3 240.0V225.5M2523.1 240.0V225.5M2579.8 240.0V225.5M2636.6 240.0V225.5M2693.3 240.0V225.5M2750.1 240.0V225.5M2806.8 240.0V225.5M2863.6 240.0V225.5M2296.1 343.5H2522.8M2296.1 343.5V358.3M2522.8 343.5V329.3M2296.4 449.0H2865.9M2296.4 449.0V462.1M2865.9 449.0V434.8M2296.6 551.4H2866.2M2296.6 551.4V565.1M2367.8 551.4V565.1M2439.0 551.4V565.1M2510.2 551.4V565.1M2581.4 551.4V565.1M2652.6 551.4V565.1M2723.8 551.4V565.1M2795.0 551.4V565.1M2866.2 551.4V565.1M2308.3 659.3H2799.9M2308.3 659.3V672.5M2382.7 659.3V672.5M2443.5 659.3V672.5M2500.1 659.3V672.5M2553.6 659.3V672.5M2613.7 659.3V672.5M2688.4 659.3V672.5M2799.9 659.3V672.5M2324.2 1213.9H2892.2M2324.2 1213.9V1199.8M2381.0 1213.9V1199.8M2437.8 1213.9V1199.8M2494.6 1213.9V1199.8M2551.4 1213.9V1199.8M2608.2 1213.9V1199.8M2665.0 1213.9V1199.8M2721.8 1213.9V1199.8M2778.6 1213.9V1199.8M2835.4 1213.9V1199.8M2892.2 1213.9V1199.8M2324.5 1312.1H2862.7M2324.5 1312.1V1326.4M2384.3 1312.1V1326.4M2444.1 1312.1V1326.4M2503.9 1312.1V1326.4M2563.7 1312.1V1326.4M2623.5 1312.1V1326.4M2683.3 1312.1V1326.4M2743.1 1312.1V1326.4M2802.9 1312.1V1326.4M2862.7 1312.1V1326.4M2324.3 1413.2H2530.6M2324.3 1413.2V1426.4M2530.6 1413.2V1398.8M2325.0 1511.3H2860.7M2325.0 1511.3V1524.3M2369.3 1511.3V1524.3M2413.6 1511.3V1524.3M2459.3 1511.3V1524.3M2503.1 1511.3V1524.3M2548.1 1511.3V1524.3M2593.1 1511.3V1524.3M2637.6 1511.3V1524.3M2681.9 1511.3V1524.3M2726.2 1511.3V1524.3M2770.7 1511.3V1524.3M2816.9 1511.3V1524.3M2860.7 1511.3V1524.3M2318.6 1621.8H2859.0M2319.8 1621.8V1636.7M2415.3 1621.8V1636.7M2506.1 1621.8V1636.7M2566.7 1621.8V1636.7M2612.8 1621.8V1636.7M2670.4 1621.8V1636.7M2762.4 1621.8V1636.7M2857.9 1621.8V1636.7M2461.4 1621.8V1609.5M2538.1 1621.8V1609.5M2590.7 1621.8V1609.5M2637.8 1621.8V1609.5M2720.5 1621.8V1609.5" stroke="#141212" stroke-width="2.3" fill="none" stroke-linecap="square"/>
<g font-size="32" text-anchor="middle" fill="#161414"><text x="2293.6" y="215.5">0</text><text x="2350.3" y="215.5">10</text><text x="2407.1" y="215.5">20</text><text x="2463.8" y="215.5">30</text><text x="2520.6" y="215.5">40</text><text x="2577.3" y="215.5">50</text><text x="2634.1" y="215.5">60</text><text x="2690.8" y="215.5">70</text><text x="2747.6" y="215.5">80</text><text x="2804.3" y="215.5">90</text><text x="2861.1" y="215.5">100</text><text x="2295.6" y="592.6">0</text><text x="2366.8" y="592.6">20</text><text x="2438.0" y="592.6">40</text><text x="2509.2" y="592.6">60</text><text x="2580.4" y="592.6">80</text><text x="2651.6" y="592.6">100</text><text x="2722.8" y="592.6">120</text><text x="2794.0" y="592.6">140</text><text x="2865.2" y="592.6">160</text><text x="2309.3" y="696.6" font-size="31">0.2</text><text x="2383.7" y="696.6" font-size="31">0.3</text><text x="2444.5" y="696.6" font-size="31">0.4</text><text x="2501.1" y="696.6" font-size="31">0.5</text><text x="2554.6" y="696.6" font-size="31">0.6</text><text x="2614.7" y="696.6" font-size="31">0.7</text><text x="2689.4" y="696.6" font-size="31">0.8</text><text x="2800.9" y="696.6" font-size="31">0.9</text><text x="2322.2" y="1189.3">0</text><text x="2379.0" y="1189.3">10</text><text x="2435.8" y="1189.3">20</text><text x="2492.6" y="1189.3">30</text><text x="2549.4" y="1189.3">40</text><text x="2606.2" y="1189.3">50</text><text x="2663.0" y="1189.3">60</text><text x="2719.8" y="1189.3">70</text><text x="2776.6" y="1189.3">80</text><text x="2833.4" y="1189.3">90</text><text x="2890.2" y="1189.3">100</text><text x="2325.5" y="1354.5">-5</text><text x="2385.3" y="1354.5">-4</text><text x="2445.1" y="1354.5">-3</text><text x="2504.9" y="1354.5">-2</text><text x="2564.7" y="1354.5">-1</text><text x="2624.5" y="1354.5">0</text><text x="2684.3" y="1354.5">1</text><text x="2744.1" y="1354.5">2</text><text x="2803.9" y="1354.5">3</text><text x="2863.7" y="1354.5">4</text><text x="2325.5" y="1552.8">0</text><text x="2369.8" y="1552.8">10</text><text x="2414.1" y="1552.8">20</text><text x="2459.8" y="1552.8">30</text><text x="2503.6" y="1552.8">40</text><text x="2548.6" y="1552.8">50</text><text x="2593.6" y="1552.8">60</text><text x="2638.1" y="1552.8">70</text><text x="2682.4" y="1552.8">80</text><text x="2726.7" y="1552.8">90</text><text x="2771.2" y="1552.8">100</text><text x="2861.2" y="1552.8">120</text><text x="2321.8" y="1662.6">0.01</text><text x="2417.3" y="1662.6">0.05</text><text x="2508.1" y="1662.6">0.2</text><text x="2568.7" y="1662.6">0.4</text><text x="2614.8" y="1662.6">0.6</text><text x="2672.4" y="1662.6">0.8</text><text x="2764.4" y="1662.6">0.95</text><text x="2859.9" y="1662.6">0.99</text><text x="2460.4" y="1604.8">0.1</text><text x="2537.1" y="1604.8">0.3</text><text x="2589.7" y="1604.8">0.5</text><text x="2636.8" y="1604.8">0.7</text><text x="2719.5" y="1604.8">0.9</text></g>
<path d="M3084.6 161.4V733.5H3919.5M3076 707.2H3084.6M3076 603.3H3084.6M3076 499.4H3084.6M3076 395.4H3084.6M3076 291.5H3084.6M3076 187.6H3084.6M3121.9 733.5V742.8M3273.3 733.5V742.8M3424.7 733.5V742.8M3576.1 733.5V742.8M3727.5 733.5V742.8M3878.9 733.5V742.8" stroke="#2b2525" stroke-width="3" fill="none"/>
<path d="M3119.6 710.3L3879 187.2" stroke="#2e2868" stroke-width="4.5" stroke-dasharray="15 9" fill="none"/>
<path d="M3121.6 708.3 L3121.6 613.6 L3151.1 613.6 L3151.1 429.4 L3180.7 429.4 L3180.7 298.9 L3239.1 298.9 L3239.1 280.3 L3297.1 280.3 L3297.1 223.9 L3413.5 223.9 L3413.5 206.2 L3588.9 206.2 L3588.9 187.6 L3879.0 187.6" stroke="#3c67ad" stroke-width="4" fill="none"/>
<path d="M3121.6 708.3 L3121.6 632.6 L3151.1 632.6 L3151.1 484.7 L3239.1 484.7 L3239.1 429.4 L3297.1 429.4 L3297.1 280.3 L3383.9 280.3 L3383.9 242.8 L3442.3 242.8 L3442.3 206.2 L3588.9 206.2 L3588.9 187.6 L3879.0 187.6" stroke="#45a043" stroke-width="4" fill="none"/>
<path d="M3119.6 710.3 L3239.1 298.1 L3297.1 280.3 L3383.9 259.4 L3445.0 243.6 L3577.3 227.6 L3879.0 187.2" stroke="#ee7a34" stroke-width="5" fill="none" stroke-linejoin="round"/>
<rect x="3193" y="561" width="490" height="166" fill="#fff"/>
<g stroke-width="4" fill="none"><path d="M3238.3 582.6H3289.3" stroke="#7f97c6"/><path d="M3238.3 626.2H3289.3" stroke="#ec7a3c" stroke-width="4.5"/><path d="M3238.3 668.7H3289.3" stroke="#5aa744" stroke-width="4.5"/><path d="M3238.3 701.3H3264.3M3275 701.3H3289.3" stroke="#3b3680" stroke-width="4.5"/></g>
<path d="M3058.5 1201.2H3068.5V1596.4H3058.5M3058.5 1497.7H3068.5M3058.5 1398.9H3068.5M3058.5 1300.2H3068.5M3089.3 1675.5V1665.5H3905.7V1675.5M3252.6 1665.5V1675.5M3415.8 1665.5V1675.5M3579.1 1665.5V1675.5M3742.3 1665.5V1675.5" stroke="#2b2525" stroke-width="2.6" fill="none"/>
<defs><clipPath id="dcaclip"><rect x="3070" y="1100" width="850" height="564"/></clipPath></defs>
<g clip-path="url(#dcaclip)"><path d="M3089.3 1201.4 L3097.5 1207.4 L3105.6 1213.5 L3113.8 1219.7 L3122.0 1226.1 L3130.1 1232.6 L3138.3 1239.2 L3146.4 1246.0 L3154.6 1252.9 L3162.8 1260.0 L3170.9 1267.2 L3179.1 1274.6 L3187.3 1282.2 L3195.4 1289.9 L3203.6 1297.9 L3211.7 1306.0 L3219.9 1314.3 L3228.1 1322.8 L3236.2 1331.5 L3244.4 1340.4 L3252.6 1349.5 L3260.7 1358.9 L3268.9 1368.5 L3277.0 1378.4 L3285.2 1388.5 L3293.4 1398.9 L3301.5 1409.6 L3309.7 1420.5 L3317.9 1431.8 L3326.0 1443.4 L3334.2 1455.3 L3342.4 1467.6 L3350.5 1480.2 L3358.7 1493.2 L3366.8 1506.6 L3375.0 1520.4 L3383.2 1534.7 L3391.3 1549.4 L3399.5 1564.5 L3407.7 1580.2 L3415.8 1596.4 L3424.0 1613.1 L3432.1 1630.5 L3440.3 1648.4 L3448.5 1666.9" stroke="#b4b4b4" stroke-width="2.4" fill="none"/>
<path d="M3089.3 1596.4H3898.5" stroke="#1e1a1a" stroke-width="2.4"/>
<path d="M3089.9 1201.8 L3164.6 1261.0 L3192.8 1268.1 L3228.0 1282.2 L3273.8 1303.3 L3333.7 1333.3 L3344.3 1347.4 L3358.4 1352.0 L3432.4 1372.0 L3480.0 1389.4 L3529.3 1412.5 L3537.8 1434.5 L3564.6 1446.3 L3592.7 1460.4 L3620.9 1474.5 L3649.1 1494.2 L3677.3 1516.8 L3705.5 1547.8 L3728.0 1573.1 L3742.1 1595.7 L3766.9 1645.0 L3774.5 1596.2 L3897.7 1596.2" stroke="#4f9c30" stroke-width="3" fill="none" stroke-linejoin="round"/>
<path d="M3089.9 1201.8 L3115.2 1215.2 L3136.4 1225.8 L3146.9 1234.6 L3161.0 1239.9 L3169.9 1246.9 L3178.7 1258.2 L3189.2 1258.2 L3203.3 1259.3 L3220.9 1266.3 L3238.6 1272.3 L3252.7 1274.4 L3263.2 1273.4 L3284.4 1282.2 L3302.0 1297.0 L3319.6 1300.5 L3330.2 1302.6 L3344.3 1307.6 L3353.1 1308.6 L3361.9 1314.6 L3368.9 1313.2 L3383.0 1322.7 L3391.8 1334.3 L3407.7 1330.8 L3421.8 1340.3 L3450.0 1362.5 L3457.0 1359.0 L3467.6 1363.2 L3489.9 1372.4 L3505.9 1345.4 L3522.3 1370.8 L3536.4 1375.8 L3547.6 1382.9 L3563.1 1387.7 L3570.8 1379.2 L3595.6 1386.5 L3602.6 1380.9 L3612.5 1395.6 L3626.6 1399.8 L3649.1 1409.1 L3660.4 1418.1 L3682.9 1428.8 L3694.2 1444.9 L3705.5 1455.3 L3717.3 1469.4 L3725.2 1451.9 L3735.1 1457.6 L3743.5 1463.2 L3757.6 1508.3 L3775.9 1533.7 L3791.4 1573.1 L3799.9 1549.2 L3808.4 1563.3 L3816.0 1513.9 L3830.9 1554.8 L3840.8 1574.5 L3859.1 1674.6 L3866.7 1674.6 L3872.3 1574.5 L3877.4 1579.3 L3887.3 1585.8 L3897.7 1596.2" stroke="#b3281f" stroke-width="3" fill="none" stroke-linejoin="round"/>
<path d="M3089.9 1201.8 L3136.4 1225.8 L3146.9 1232.9 L3155.8 1248.7 L3171.6 1258.2 L3187.5 1265.3 L3196.3 1260.3 L3224.5 1274.4 L3235.0 1293.5 L3243.8 1292.8 L3252.7 1312.1 L3260.4 1315.7 L3270.3 1308.6 L3302.0 1323.8 L3310.8 1319.9 L3319.6 1323.8 L3326.7 1318.1 L3349.6 1328.7 L3358.4 1347.4 L3375.3 1356.2 L3390.1 1339.3 L3398.9 1355.5 L3428.8 1370.3 L3448.2 1407.3 L3467.6 1415.4 L3472.9 1414.3 L3480.0 1418.1 L3496.9 1428.0 L3506.8 1409.7 L3513.8 1412.5 L3529.3 1449.1 L3539.2 1454.7 L3547.6 1473.1 L3562.3 1481.5 L3570.8 1455.3 L3578.6 1471.7 L3587.1 1477.3 L3595.6 1496.5 L3604.0 1502.7 L3612.5 1519.6 L3636.4 1537.0 L3644.9 1495.6 L3652.5 1502.7 L3660.4 1519.6 L3668.3 1524.1 L3685.2 1426.6 L3708.9 1426.6 L3716.8 1440.7 L3725.2 1442.1 L3744.9 1470.2 L3775.4 1470.2 L3791.4 1497.0 L3806.9 1497.0 L3818.2 1511.7 L3823.9 1511.7 L3832.3 1539.3 L3847.8 1539.3 L3873.2 1582.1 L3897.7 1582.1" stroke="#1f2450" stroke-width="3" fill="none" stroke-linejoin="round"/></g>
<g stroke-width="6" fill="none"><path d="M3479.3 1092.9H3560.3" stroke="#8dca72"/><path d="M3479.3 1136H3560.3" stroke="#3a4896"/><path d="M3479.3 1182.2H3560.3" stroke="#b8302a"/><path d="M3479.3 1226.8H3560.3" stroke="#dcdcdc"/><path d="M3479.3 1263.1H3560.3" stroke="#161212"/></g>
<g fill="#1a1a1a">
<text x="337.9" y="965.1" font-size="68.21" textLength="59.1" lengthAdjust="spacingAndGlyphs">A.</text>
<text x="415.0" y="963.9" font-size="64.95" textLength="265.0" lengthAdjust="spacingAndGlyphs">图像分割</text>
<text x="370.4" y="1203.8" font-size="73.86" textLength="315.8" lengthAdjust="spacingAndGlyphs" fill="#2b2322">Firstorder</text>
<text x="410.3" y="1297.3" font-size="75.33" textLength="197.0" lengthAdjust="spacingAndGlyphs" fill="#2b2322">Shape</text>
<text x="390.7" y="1387.6" font-size="74.56" textLength="230.8" lengthAdjust="spacingAndGlyphs" fill="#2b2322">GLCM</text>
<text x="370.8" y="1481.3" font-size="77.65" textLength="279.6" lengthAdjust="spacingAndGlyphs" fill="#2b2322">GLRLM</text>
<text x="391.1" y="1573.3" font-size="76.47" textLength="270.6" lengthAdjust="spacingAndGlyphs" fill="#2b2322">GLSZM</text>
<text x="391.1" y="1665.1" font-size="77.21" textLength="234.7" lengthAdjust="spacingAndGlyphs" fill="#2b2322">GLDM</text>
<text x="369.8" y="1757.9" font-size="77.65" textLength="293.0" lengthAdjust="spacingAndGlyphs" fill="#2b2322">NGTDM</text>
<text x="315.7" y="2097.9" font-size="68.48" textLength="56.5" lengthAdjust="spacingAndGlyphs">B.</text>
<text x="391.0" y="2096.7" font-size="63.65" textLength="264.6" lengthAdjust="spacingAndGlyphs">特征提取</text>
<text x="1758.6" y="321.4" font-size="36.52" textLength="12.4" lengthAdjust="spacingAndGlyphs" font-family="Liberation Sans" font-weight="bold" fill="#3a3a3a">1</text>
<text x="1756.8" y="444.0" font-size="37.54" textLength="43.8" lengthAdjust="spacingAndGlyphs" font-family="Liberation Sans" font-weight="bold" fill="#3a3a3a">0.5</text>
<text x="1757.0" y="566.4" font-size="37.46" textLength="17.0" lengthAdjust="spacingAndGlyphs" font-family="Liberation Sans" font-weight="bold" fill="#3a3a3a">0</text>
<text x="1757.0" y="688.2" font-size="36.06" textLength="53.0" lengthAdjust="spacingAndGlyphs" font-family="Liberation Sans" font-weight="bold" fill="#3a3a3a">-0.5</text>
<text x="1757.1" y="810.3" font-size="35.51" textLength="24.4" lengthAdjust="spacingAndGlyphs" font-family="Liberation Sans" font-weight="bold" fill="#3a3a3a">-1</text>
<text x="1179.0" y="972.4" font-size="63.61" textLength="601.3" lengthAdjust="spacingAndGlyphs">斯皮尔曼的相关分析</text>
<text x="1318.9" y="1882.3" font-size="67.35" textLength="190.0" lengthAdjust="spacingAndGlyphs">LASSO</text>
<text x="1512.0" y="1881.6" font-size="63.79" textLength="132.2" lengthAdjust="spacingAndGlyphs">回归</text>
<text x="1303.9" y="2096.6" font-size="68.09" textLength="56.3" lengthAdjust="spacingAndGlyphs">C.</text>
<text x="1379.4" y="2096.5" font-size="65.26">特征筛选</text>
<text x="1224.0" y="1224.7" font-size="51.67" textLength="50.5" lengthAdjust="spacingAndGlyphs">57</text>
<text x="1358.4" y="1222.4" font-size="52.58" textLength="50.9" lengthAdjust="spacingAndGlyphs">55</text>
<text x="1480.8" y="1222.4" font-size="51.04" textLength="50.4" lengthAdjust="spacingAndGlyphs">53</text>
<text x="1620.7" y="1221.1" font-size="51.04" textLength="49.6" lengthAdjust="spacingAndGlyphs">25</text>
<text x="1763.6" y="1217.7" font-size="51.06" textLength="25.1" lengthAdjust="spacingAndGlyphs">4</text>
<text x="1198.8" y="1688.3" font-size="51.47" textLength="78.7" lengthAdjust="spacingAndGlyphs">−10</text>
<text x="1340.7" y="1687.4" font-size="50.44" textLength="51.5" lengthAdjust="spacingAndGlyphs">−8</text>
<text x="1476.5" y="1689.2" font-size="50.88" textLength="52.8" lengthAdjust="spacingAndGlyphs">−6</text>
<text x="1610.8" y="1685.0" font-size="52.58" textLength="51.6" lengthAdjust="spacingAndGlyphs">−4</text>
<text x="1745.7" y="1685.0" font-size="51.79" textLength="54.2" lengthAdjust="spacingAndGlyphs">−2</text>
<text x="1092.5" y="1376.6" font-size="48.97" textLength="51.4" lengthAdjust="spacingAndGlyphs">10</text>
<text x="1115.8" y="1440.4" font-size="49.12" textLength="27.3" lengthAdjust="spacingAndGlyphs">0</text>
<text x="1059.0" y="1576.5" font-size="48.97" textLength="78.8" lengthAdjust="spacingAndGlyphs">−20</text>
<text x="950.4" y="1457.4" font-size="45.15" textLength="197.2" lengthAdjust="spacingAndGlyphs" transform="rotate(-90 1050.5 1441.8)">回归系数</text>
<text x="1362.2" y="1768.5" font-size="48.78" textLength="250.7" lengthAdjust="spacingAndGlyphs">高风险阈值</text>
<text x="2084.7" y="236.3" font-size="48.21" textLength="98.8" lengthAdjust="spacingAndGlyphs">分数</text>
<text x="2009.0" y="365.4" font-size="48.42" textLength="247.7" lengthAdjust="spacingAndGlyphs">回声均匀性</text>
<text x="2289.9" y="387.4" font-size="30.91" textLength="14.0" lengthAdjust="spacingAndGlyphs">1</text>
<text x="2516.1" y="321.0" font-size="25.37" textLength="15.9" lengthAdjust="spacingAndGlyphs">2</text>
<text x="2023.6" y="476.3" font-size="49.47">最大直径</text>
<text x="2257.3" y="500.1" font-size="35.15" textLength="81.6" lengthAdjust="spacingAndGlyphs">&lt;5 cm</text>
<text x="2806.5" y="424.6" font-size="35.45" textLength="93.5" lengthAdjust="spacingAndGlyphs">≥5 cm</text>
<text x="2061.4" y="585.0" font-size="48.33" textLength="147.0" lengthAdjust="spacingAndGlyphs">总分数</text>
<text x="1981.7" y="671.8" font-size="47.07" textLength="299.0" lengthAdjust="spacingAndGlyphs">胃肠间质瘤风</text>
<text x="2057.0" y="739.1" font-size="48.94" textLength="148.6" lengthAdjust="spacingAndGlyphs">险分层</text>
<text x="2217.8" y="979.7" font-size="64.90" textLength="466.3" lengthAdjust="spacingAndGlyphs">临床超声列线图</text>
<text x="2086.1" y="1214.3" font-size="49.47">分数</text>
<text x="1989.1" y="1325.0" font-size="47.60" textLength="301.0" lengthAdjust="spacingAndGlyphs">影像组学评分</text>
<text x="2040.5" y="1434.9" font-size="48.95" textLength="199.0" lengthAdjust="spacingAndGlyphs">最大直径</text>
<text x="2479.9" y="1393.6" font-size="29.55" textLength="93.8" lengthAdjust="spacingAndGlyphs">≥5 cm</text>
<text x="2289.1" y="1463.7" font-size="26.82" textLength="81.1" lengthAdjust="spacingAndGlyphs">&lt;5 cm</text>
<text x="2077.0" y="1529.5" font-size="43.85" textLength="146.0" lengthAdjust="spacingAndGlyphs">总分数</text>
<text x="1975.5" y="1624.3" font-size="43.33" textLength="299.1" lengthAdjust="spacingAndGlyphs">胃肠间质瘤风</text>
<text x="2049.5" y="1692.0" font-size="44.79" textLength="149.5" lengthAdjust="spacingAndGlyphs">险分层</text>
<text x="2222.9" y="1881.6" font-size="65.10" textLength="466.2" lengthAdjust="spacingAndGlyphs">影像组学列线图</text>
<text x="2350.1" y="2096.9" font-size="68.03" textLength="59.3" lengthAdjust="spacingAndGlyphs">D.</text>
<text x="2428.7" y="2096.5" font-size="66.70" textLength="131.1" lengthAdjust="spacingAndGlyphs">建模</text>
<text x="3400.4" y="132.8" font-size="49.58" textLength="200.8" lengthAdjust="spacingAndGlyphs">逻辑回归</text>
<text x="3012.7" y="203.1" font-size="48.97">1.0</text>
<text x="3012.2" y="307.0" font-size="48.97" textLength="62.0" lengthAdjust="spacingAndGlyphs">0.8</text>
<text x="3011.3" y="411.0" font-size="48.97">0.6</text>
<text x="3011.4" y="514.9" font-size="48.97">0.4</text>
<text x="3011.3" y="618.8" font-size="48.97" textLength="62.5" lengthAdjust="spacingAndGlyphs">0.2</text>
<text x="3010.5" y="722.7" font-size="48.97" textLength="62.8" lengthAdjust="spacingAndGlyphs">0.0</text>
<text x="3094.8" y="793.8" font-size="49.12" textLength="64.2" lengthAdjust="spacingAndGlyphs">0.0</text>
<text x="3237.7" y="793.8" font-size="49.12" textLength="64.8" lengthAdjust="spacingAndGlyphs">0.2</text>
<text x="3389.5" y="793.8" font-size="49.12" textLength="63.1" lengthAdjust="spacingAndGlyphs">0.4</text>
<text x="3542.9" y="793.8" font-size="49.12" textLength="63.7" lengthAdjust="spacingAndGlyphs">0.6</text>
<text x="3693.9" y="793.8" font-size="49.12" textLength="64.2" lengthAdjust="spacingAndGlyphs">0.8</text>
<text x="3843.9" y="793.8" font-size="49.12" textLength="63.6" lengthAdjust="spacingAndGlyphs">1.0</text>
<text x="2882.4" y="464.0" font-size="46.44" textLength="200.0" lengthAdjust="spacingAndGlyphs" transform="rotate(-90 2981.9 448.0)">真阳性率</text>
<text x="3381.0" y="855.6" font-size="48.98" textLength="199.5" lengthAdjust="spacingAndGlyphs">假阳性率</text>
<text x="3304.0" y="596.3" font-size="37.92" textLength="291.0" lengthAdjust="spacingAndGlyphs">影像组学列线图</text>
<text x="3301.3" y="638.8" font-size="37.65" textLength="290.8" lengthAdjust="spacingAndGlyphs">临床超声列线图</text>
<text x="3298.4" y="679.2" font-size="37.81" textLength="374.8" lengthAdjust="spacingAndGlyphs">影像组学评分列线图</text>
<text x="3301.4" y="716.8" font-size="38.32" textLength="165.1" lengthAdjust="spacingAndGlyphs">随机猜测</text>
<text x="3241.3" y="972.3" font-size="64.38" textLength="466.5" lengthAdjust="spacingAndGlyphs">受试者特征曲线</text>
<text x="3583.0" y="1100.9" font-size="39.90" textLength="291.8" lengthAdjust="spacingAndGlyphs">临床超声列线图</text>
<text x="3583.3" y="1147.0" font-size="39.48" textLength="374.2" lengthAdjust="spacingAndGlyphs">影像组学评分列线图</text>
<text x="3583.3" y="1195.6" font-size="38.44" textLength="290.7" lengthAdjust="spacingAndGlyphs">影像组学列线图</text>
<text x="3580.2" y="1238.7" font-size="38.84" textLength="166.2" lengthAdjust="spacingAndGlyphs">全为阳性</text>
<text x="3580.2" y="1287.4" font-size="39.05" textLength="166.2" lengthAdjust="spacingAndGlyphs">全为阴性</text>
<text x="3007.8" y="1215.6" font-size="39.85" textLength="52.4" lengthAdjust="spacingAndGlyphs">0.4</text>
<text x="3007.9" y="1313.7" font-size="38.53" textLength="51.5" lengthAdjust="spacingAndGlyphs">0.3</text>
<text x="3005.3" y="1415.7" font-size="39.71" textLength="52.8" lengthAdjust="spacingAndGlyphs">0.2</text>
<text x="3007.1" y="1514.9" font-size="41.03" textLength="50.5" lengthAdjust="spacingAndGlyphs">0.1</text>
<text x="3002.3" y="1605.6" font-size="41.03" textLength="53.0" lengthAdjust="spacingAndGlyphs">0.0</text>
<text x="3069.1" y="1721.8" font-size="49.26" textLength="63.9" lengthAdjust="spacingAndGlyphs">0.0</text>
<text x="3212.1" y="1721.8" font-size="49.26" textLength="63.8" lengthAdjust="spacingAndGlyphs">0.2</text>
<text x="3371.9" y="1721.8" font-size="49.26" textLength="62.5" lengthAdjust="spacingAndGlyphs">0.4</text>
<text x="3540.1" y="1721.8" font-size="49.26" textLength="63.3" lengthAdjust="spacingAndGlyphs">0.6</text>
<text x="3701.0" y="1721.8" font-size="49.26" textLength="62.7" lengthAdjust="spacingAndGlyphs">0.8</text>
<text x="3846.1" y="1721.8" font-size="49.26" textLength="62.7" lengthAdjust="spacingAndGlyphs">1.0</text>
<text x="2905.5" y="1423.9" font-size="48.85" textLength="149.9" lengthAdjust="spacingAndGlyphs" transform="rotate(-90 2980.4 1407.8)">净效益</text>
<text x="3373.3" y="1776.3" font-size="48.78" textLength="250.7" lengthAdjust="spacingAndGlyphs">高风险阈值</text>
<text x="3273.6" y="1883.5" font-size="65.68" textLength="401.6" lengthAdjust="spacingAndGlyphs">决策曲线分析</text>
<text x="3371.8" y="2096.5" font-size="67.42" textLength="57.2" lengthAdjust="spacingAndGlyphs">E.</text>
<text x="3445.7" y="2096.2" font-size="65.64">分析</text>
</g>
</svg></body></html>
